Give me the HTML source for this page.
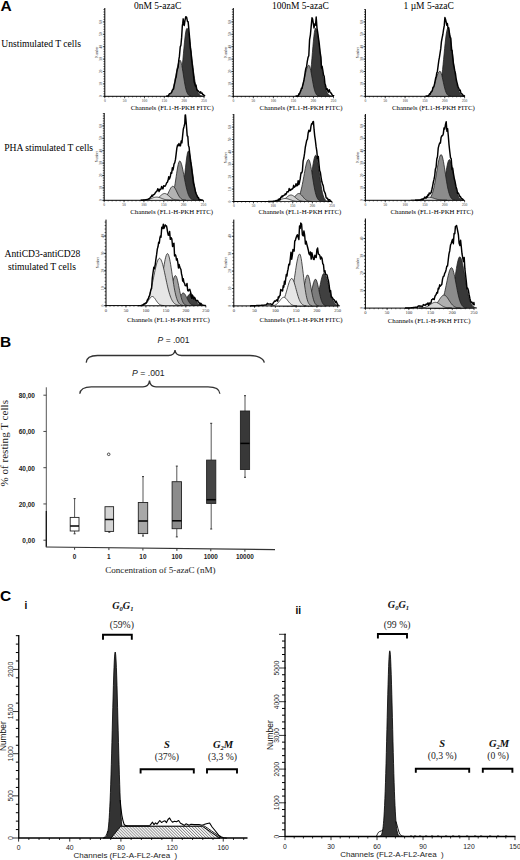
<!DOCTYPE html>
<html><head><meta charset="utf-8"><style>
html,body{margin:0;padding:0;background:#fff;width:520px;height:860px;overflow:hidden}
svg{display:block}
</style></head><body>
<svg width="520" height="860" viewBox="0 0 520 860">
<rect width="520" height="860" fill="#fff"/>
<defs><pattern id="hatch" patternUnits="userSpaceOnUse" width="2.1" height="2.1" patternTransform="rotate(-45)"><rect width="2.1" height="2.1" fill="#fff"/><line x1="0.5" y1="0" x2="0.5" y2="2.1" stroke="#6a6a6a" stroke-width="0.7"/></pattern></defs>
<text x="0.50" y="11.20" font-family='"Liberation Sans", sans-serif' font-size="15.5" font-weight="bold" font-style="normal" text-anchor="start" fill="#000">A</text>
<text x="134.00" y="8.60" font-family='"Liberation Serif", serif' font-size="9.5" font-weight="normal" font-style="normal" text-anchor="start" fill="#000">0nM 5-azaC</text>
<text x="272.00" y="8.60" font-family='"Liberation Serif", serif' font-size="9.5" font-weight="normal" font-style="normal" text-anchor="start" fill="#000">100nM 5-azaC</text>
<text x="403.50" y="8.60" font-family='"Liberation Serif", serif' font-size="9.5" font-weight="normal" font-style="normal" text-anchor="start" fill="#000">1 µM 5-azaC</text>
<text x="1.30" y="46.60" font-family='"Liberation Serif", serif' font-size="9.6" font-weight="normal" font-style="normal" text-anchor="start" fill="#000">Unstimulated T cells</text>
<text x="4.20" y="151.40" font-family='"Liberation Serif", serif' font-size="9.6" font-weight="normal" font-style="normal" text-anchor="start" fill="#000">PHA stimulated T cells</text>
<text x="4.60" y="257.20" font-family='"Liberation Serif", serif' font-size="9.6" font-weight="normal" font-style="normal" text-anchor="start" fill="#000">AntiCD3-antiCD28</text>
<text x="8.00" y="270.20" font-family='"Liberation Serif", serif' font-size="9.6" font-weight="normal" font-style="normal" text-anchor="start" fill="#000">stimulated T cells</text>
<line x1="104.80" y1="8.00" x2="104.80" y2="96.80" stroke="#000" stroke-width="1.0"/>
<line x1="103.40" y1="96.30" x2="104.80" y2="96.30" stroke="#000" stroke-width="0.6"/>
<line x1="103.40" y1="93.82" x2="104.80" y2="93.82" stroke="#000" stroke-width="0.6"/>
<line x1="103.40" y1="91.34" x2="104.80" y2="91.34" stroke="#000" stroke-width="0.6"/>
<line x1="103.40" y1="88.86" x2="104.80" y2="88.86" stroke="#000" stroke-width="0.6"/>
<line x1="103.40" y1="86.38" x2="104.80" y2="86.38" stroke="#000" stroke-width="0.6"/>
<line x1="103.40" y1="83.90" x2="104.80" y2="83.90" stroke="#000" stroke-width="0.6"/>
<line x1="103.40" y1="81.42" x2="104.80" y2="81.42" stroke="#000" stroke-width="0.6"/>
<line x1="103.40" y1="78.94" x2="104.80" y2="78.94" stroke="#000" stroke-width="0.6"/>
<line x1="103.40" y1="76.46" x2="104.80" y2="76.46" stroke="#000" stroke-width="0.6"/>
<line x1="103.40" y1="73.98" x2="104.80" y2="73.98" stroke="#000" stroke-width="0.6"/>
<line x1="103.40" y1="71.50" x2="104.80" y2="71.50" stroke="#000" stroke-width="0.6"/>
<line x1="103.40" y1="69.02" x2="104.80" y2="69.02" stroke="#000" stroke-width="0.6"/>
<line x1="103.40" y1="66.54" x2="104.80" y2="66.54" stroke="#000" stroke-width="0.6"/>
<line x1="103.40" y1="64.06" x2="104.80" y2="64.06" stroke="#000" stroke-width="0.6"/>
<line x1="103.40" y1="61.58" x2="104.80" y2="61.58" stroke="#000" stroke-width="0.6"/>
<line x1="103.40" y1="59.10" x2="104.80" y2="59.10" stroke="#000" stroke-width="0.6"/>
<line x1="103.40" y1="56.62" x2="104.80" y2="56.62" stroke="#000" stroke-width="0.6"/>
<line x1="103.40" y1="54.14" x2="104.80" y2="54.14" stroke="#000" stroke-width="0.6"/>
<line x1="103.40" y1="51.66" x2="104.80" y2="51.66" stroke="#000" stroke-width="0.6"/>
<line x1="103.40" y1="49.18" x2="104.80" y2="49.18" stroke="#000" stroke-width="0.6"/>
<line x1="103.40" y1="46.70" x2="104.80" y2="46.70" stroke="#000" stroke-width="0.6"/>
<line x1="103.40" y1="44.22" x2="104.80" y2="44.22" stroke="#000" stroke-width="0.6"/>
<line x1="103.40" y1="41.74" x2="104.80" y2="41.74" stroke="#000" stroke-width="0.6"/>
<line x1="103.40" y1="39.26" x2="104.80" y2="39.26" stroke="#000" stroke-width="0.6"/>
<line x1="103.40" y1="36.78" x2="104.80" y2="36.78" stroke="#000" stroke-width="0.6"/>
<line x1="103.40" y1="34.30" x2="104.80" y2="34.30" stroke="#000" stroke-width="0.6"/>
<line x1="103.40" y1="31.82" x2="104.80" y2="31.82" stroke="#000" stroke-width="0.6"/>
<line x1="103.40" y1="29.34" x2="104.80" y2="29.34" stroke="#000" stroke-width="0.6"/>
<line x1="103.40" y1="26.86" x2="104.80" y2="26.86" stroke="#000" stroke-width="0.6"/>
<line x1="103.40" y1="24.38" x2="104.80" y2="24.38" stroke="#000" stroke-width="0.6"/>
<line x1="103.40" y1="21.90" x2="104.80" y2="21.90" stroke="#000" stroke-width="0.6"/>
<line x1="103.40" y1="19.42" x2="104.80" y2="19.42" stroke="#000" stroke-width="0.6"/>
<line x1="103.40" y1="16.94" x2="104.80" y2="16.94" stroke="#000" stroke-width="0.6"/>
<line x1="103.40" y1="14.46" x2="104.80" y2="14.46" stroke="#000" stroke-width="0.6"/>
<line x1="103.40" y1="11.98" x2="104.80" y2="11.98" stroke="#000" stroke-width="0.6"/>
<line x1="103.40" y1="9.50" x2="104.80" y2="9.50" stroke="#000" stroke-width="0.6"/>
<line x1="102.80" y1="96.30" x2="104.80" y2="96.30" stroke="#000" stroke-width="0.6"/>
<text x="102.40" y="96.30" font-family='"Liberation Serif", serif' font-size="3.6" font-weight="normal" font-style="normal" text-anchor="middle" fill="#333" transform="rotate(-90 102.40 96.30)">0</text>
<line x1="102.80" y1="83.90" x2="104.80" y2="83.90" stroke="#000" stroke-width="0.6"/>
<text x="102.40" y="83.90" font-family='"Liberation Serif", serif' font-size="3.6" font-weight="normal" font-style="normal" text-anchor="middle" fill="#333" transform="rotate(-90 102.40 83.90)">10</text>
<line x1="102.80" y1="71.50" x2="104.80" y2="71.50" stroke="#000" stroke-width="0.6"/>
<text x="102.40" y="71.50" font-family='"Liberation Serif", serif' font-size="3.6" font-weight="normal" font-style="normal" text-anchor="middle" fill="#333" transform="rotate(-90 102.40 71.50)">20</text>
<line x1="102.80" y1="59.10" x2="104.80" y2="59.10" stroke="#000" stroke-width="0.6"/>
<text x="102.40" y="59.10" font-family='"Liberation Serif", serif' font-size="3.6" font-weight="normal" font-style="normal" text-anchor="middle" fill="#333" transform="rotate(-90 102.40 59.10)">30</text>
<line x1="102.80" y1="46.70" x2="104.80" y2="46.70" stroke="#000" stroke-width="0.6"/>
<text x="102.40" y="46.70" font-family='"Liberation Serif", serif' font-size="3.6" font-weight="normal" font-style="normal" text-anchor="middle" fill="#333" transform="rotate(-90 102.40 46.70)">40</text>
<line x1="102.80" y1="34.30" x2="104.80" y2="34.30" stroke="#000" stroke-width="0.6"/>
<text x="102.40" y="34.30" font-family='"Liberation Serif", serif' font-size="3.6" font-weight="normal" font-style="normal" text-anchor="middle" fill="#333" transform="rotate(-90 102.40 34.30)">50</text>
<line x1="102.80" y1="21.90" x2="104.80" y2="21.90" stroke="#000" stroke-width="0.6"/>
<text x="102.40" y="21.90" font-family='"Liberation Serif", serif' font-size="3.6" font-weight="normal" font-style="normal" text-anchor="middle" fill="#333" transform="rotate(-90 102.40 21.90)">60</text>
<text x="98.30" y="52.15" font-family='"Liberation Serif", serif' font-size="3.4" font-weight="normal" font-style="normal" text-anchor="middle" fill="#333" transform="rotate(-90 98.30 52.15)">Number</text>
<line x1="104.80" y1="96.30" x2="204.00" y2="96.30" stroke="#000" stroke-width="1.0"/>
<line x1="104.80" y1="96.30" x2="104.80" y2="98.30" stroke="#000" stroke-width="0.6"/>
<text x="104.80" y="102.10" font-family='"Liberation Serif", serif' font-size="3.6" font-weight="normal" font-style="normal" text-anchor="middle" fill="#333">0</text>
<line x1="124.64" y1="96.30" x2="124.64" y2="98.30" stroke="#000" stroke-width="0.6"/>
<text x="124.64" y="102.10" font-family='"Liberation Serif", serif' font-size="3.6" font-weight="normal" font-style="normal" text-anchor="middle" fill="#333">50</text>
<line x1="144.48" y1="96.30" x2="144.48" y2="98.30" stroke="#000" stroke-width="0.6"/>
<text x="144.48" y="102.10" font-family='"Liberation Serif", serif' font-size="3.6" font-weight="normal" font-style="normal" text-anchor="middle" fill="#333">100</text>
<line x1="164.32" y1="96.30" x2="164.32" y2="98.30" stroke="#000" stroke-width="0.6"/>
<text x="164.32" y="102.10" font-family='"Liberation Serif", serif' font-size="3.6" font-weight="normal" font-style="normal" text-anchor="middle" fill="#333">150</text>
<line x1="184.16" y1="96.30" x2="184.16" y2="98.30" stroke="#000" stroke-width="0.6"/>
<text x="184.16" y="102.10" font-family='"Liberation Serif", serif' font-size="3.6" font-weight="normal" font-style="normal" text-anchor="middle" fill="#333">200</text>
<line x1="204.00" y1="96.30" x2="204.00" y2="98.30" stroke="#000" stroke-width="0.6"/>
<text x="204.00" y="102.10" font-family='"Liberation Serif", serif' font-size="3.6" font-weight="normal" font-style="normal" text-anchor="middle" fill="#333">250</text>
<line x1="104.80" y1="96.30" x2="104.80" y2="97.50" stroke="#000" stroke-width="0.5"/>
<line x1="108.77" y1="96.30" x2="108.77" y2="97.50" stroke="#000" stroke-width="0.5"/>
<line x1="112.74" y1="96.30" x2="112.74" y2="97.50" stroke="#000" stroke-width="0.5"/>
<line x1="116.70" y1="96.30" x2="116.70" y2="97.50" stroke="#000" stroke-width="0.5"/>
<line x1="120.67" y1="96.30" x2="120.67" y2="97.50" stroke="#000" stroke-width="0.5"/>
<line x1="124.64" y1="96.30" x2="124.64" y2="97.50" stroke="#000" stroke-width="0.5"/>
<line x1="128.61" y1="96.30" x2="128.61" y2="97.50" stroke="#000" stroke-width="0.5"/>
<line x1="132.58" y1="96.30" x2="132.58" y2="97.50" stroke="#000" stroke-width="0.5"/>
<line x1="136.54" y1="96.30" x2="136.54" y2="97.50" stroke="#000" stroke-width="0.5"/>
<line x1="140.51" y1="96.30" x2="140.51" y2="97.50" stroke="#000" stroke-width="0.5"/>
<line x1="144.48" y1="96.30" x2="144.48" y2="97.50" stroke="#000" stroke-width="0.5"/>
<line x1="148.45" y1="96.30" x2="148.45" y2="97.50" stroke="#000" stroke-width="0.5"/>
<line x1="152.42" y1="96.30" x2="152.42" y2="97.50" stroke="#000" stroke-width="0.5"/>
<line x1="156.38" y1="96.30" x2="156.38" y2="97.50" stroke="#000" stroke-width="0.5"/>
<line x1="160.35" y1="96.30" x2="160.35" y2="97.50" stroke="#000" stroke-width="0.5"/>
<line x1="164.32" y1="96.30" x2="164.32" y2="97.50" stroke="#000" stroke-width="0.5"/>
<line x1="168.29" y1="96.30" x2="168.29" y2="97.50" stroke="#000" stroke-width="0.5"/>
<line x1="172.26" y1="96.30" x2="172.26" y2="97.50" stroke="#000" stroke-width="0.5"/>
<line x1="176.22" y1="96.30" x2="176.22" y2="97.50" stroke="#000" stroke-width="0.5"/>
<line x1="180.19" y1="96.30" x2="180.19" y2="97.50" stroke="#000" stroke-width="0.5"/>
<line x1="184.16" y1="96.30" x2="184.16" y2="97.50" stroke="#000" stroke-width="0.5"/>
<line x1="188.13" y1="96.30" x2="188.13" y2="97.50" stroke="#000" stroke-width="0.5"/>
<line x1="192.10" y1="96.30" x2="192.10" y2="97.50" stroke="#000" stroke-width="0.5"/>
<line x1="196.06" y1="96.30" x2="196.06" y2="97.50" stroke="#000" stroke-width="0.5"/>
<line x1="200.03" y1="96.30" x2="200.03" y2="97.50" stroke="#000" stroke-width="0.5"/>
<line x1="204.00" y1="96.30" x2="204.00" y2="97.50" stroke="#000" stroke-width="0.5"/>
<path d="M174.79,96.30 L174.79,96.01 L175.30,95.84 L175.80,95.60 L176.31,95.25 L176.82,94.76 L177.33,94.07 L177.83,93.14 L178.34,91.90 L178.85,90.30 L179.35,88.26 L179.86,85.72 L180.37,82.65 L180.88,79.01 L181.38,74.81 L181.89,70.09 L182.40,64.92 L182.91,59.44 L183.41,53.80 L183.92,48.21 L184.43,42.90 L184.93,38.11 L185.44,34.07 L185.95,30.99 L186.46,29.03 L186.96,28.30 L187.47,28.65 L187.98,29.82 L188.49,31.75 L188.99,34.39 L189.50,37.63 L190.01,41.38 L190.51,45.51 L191.02,49.89 L191.53,54.41 L192.04,58.95 L192.54,63.40 L193.05,67.67 L193.56,71.68 L194.06,75.39 L194.57,78.75 L195.08,81.75 L195.59,84.39 L196.09,86.66 L196.60,88.60 L197.11,90.22 L197.62,91.56 L198.12,92.64 L198.63,93.52 L199.14,94.21 L199.64,94.74 L200.15,95.16 L200.66,95.47 L201.17,95.71 L201.67,95.88 L202.18,96.01 L202.18,96.30 Z" fill="#383838" stroke="#1a1a1a" stroke-width="0.75"/>
<path d="M166.80,96.30 L166.80,96.14 L167.30,96.07 L167.80,95.96 L168.31,95.80 L168.81,95.58 L169.31,95.29 L169.81,94.90 L170.31,94.38 L170.81,93.72 L171.32,92.89 L171.82,91.85 L172.32,90.60 L172.82,89.10 L173.32,87.36 L173.83,85.36 L174.33,83.13 L174.83,80.68 L175.33,78.08 L175.83,75.37 L176.34,72.64 L176.84,69.96 L177.34,67.44 L177.84,65.18 L178.34,63.26 L178.84,61.77 L179.35,60.78 L179.85,60.33 L180.35,60.50 L180.85,61.48 L181.35,63.21 L181.86,65.57 L182.36,68.41 L182.86,71.57 L183.36,74.87 L183.86,78.16 L184.37,81.29 L184.87,84.17 L185.37,86.72 L185.87,88.91 L186.37,90.72 L186.88,92.19 L187.38,93.34 L187.88,94.22 L188.38,94.87 L188.88,95.34 L189.38,95.67 L189.89,95.90 L190.39,96.05 L190.89,96.14 L190.89,96.30 Z" fill="#8c8c8c" stroke="#1a1a1a" stroke-width="0.75"/>
<path d="M166.00,96.30 L166.37,96.30 L166.88,96.30 L167.55,96.30 L168.40,95.80 L168.93,94.57 L169.55,93.61 L170.24,93.46 L170.96,93.01 L171.68,92.18 L172.38,90.10 L173.03,89.70 L173.60,88.76 L174.36,84.69 L175.01,81.91 L175.59,78.35 L176.14,77.11 L176.70,72.79 L177.43,68.93 L178.15,67.12 L178.82,59.76 L179.40,56.43 L180.23,46.87 L180.90,45.20 L181.64,37.39 L182.30,26.23 L182.77,23.19 L183.20,18.85 L183.71,24.33 L184.30,25.50 L185.01,20.07 L185.80,16.72 L186.66,17.29 L187.50,21.60 L188.16,21.81 L188.80,28.83 L189.50,36.48 L190.30,47.58 L190.97,52.21 L191.70,60.36 L192.40,65.68 L193.32,73.22 L194.20,82.09 L194.80,84.02 L195.41,85.91 L196.00,85.09 L196.82,89.52 L197.70,90.70 L198.38,91.19 L199.12,91.93 L200.00,93.11 L200.66,91.75 L201.41,93.22 L202.19,93.10 L202.91,94.85 L203.50,94.83 L204.47,95.61 L205.00,96.30" fill="none" stroke="#000" stroke-width="1.45" stroke-linejoin="round"/>
<line x1="233.30" y1="8.00" x2="233.30" y2="96.80" stroke="#000" stroke-width="1.0"/>
<line x1="231.90" y1="96.30" x2="233.30" y2="96.30" stroke="#000" stroke-width="0.6"/>
<line x1="231.90" y1="93.82" x2="233.30" y2="93.82" stroke="#000" stroke-width="0.6"/>
<line x1="231.90" y1="91.34" x2="233.30" y2="91.34" stroke="#000" stroke-width="0.6"/>
<line x1="231.90" y1="88.86" x2="233.30" y2="88.86" stroke="#000" stroke-width="0.6"/>
<line x1="231.90" y1="86.38" x2="233.30" y2="86.38" stroke="#000" stroke-width="0.6"/>
<line x1="231.90" y1="83.90" x2="233.30" y2="83.90" stroke="#000" stroke-width="0.6"/>
<line x1="231.90" y1="81.42" x2="233.30" y2="81.42" stroke="#000" stroke-width="0.6"/>
<line x1="231.90" y1="78.94" x2="233.30" y2="78.94" stroke="#000" stroke-width="0.6"/>
<line x1="231.90" y1="76.46" x2="233.30" y2="76.46" stroke="#000" stroke-width="0.6"/>
<line x1="231.90" y1="73.98" x2="233.30" y2="73.98" stroke="#000" stroke-width="0.6"/>
<line x1="231.90" y1="71.50" x2="233.30" y2="71.50" stroke="#000" stroke-width="0.6"/>
<line x1="231.90" y1="69.02" x2="233.30" y2="69.02" stroke="#000" stroke-width="0.6"/>
<line x1="231.90" y1="66.54" x2="233.30" y2="66.54" stroke="#000" stroke-width="0.6"/>
<line x1="231.90" y1="64.06" x2="233.30" y2="64.06" stroke="#000" stroke-width="0.6"/>
<line x1="231.90" y1="61.58" x2="233.30" y2="61.58" stroke="#000" stroke-width="0.6"/>
<line x1="231.90" y1="59.10" x2="233.30" y2="59.10" stroke="#000" stroke-width="0.6"/>
<line x1="231.90" y1="56.62" x2="233.30" y2="56.62" stroke="#000" stroke-width="0.6"/>
<line x1="231.90" y1="54.14" x2="233.30" y2="54.14" stroke="#000" stroke-width="0.6"/>
<line x1="231.90" y1="51.66" x2="233.30" y2="51.66" stroke="#000" stroke-width="0.6"/>
<line x1="231.90" y1="49.18" x2="233.30" y2="49.18" stroke="#000" stroke-width="0.6"/>
<line x1="231.90" y1="46.70" x2="233.30" y2="46.70" stroke="#000" stroke-width="0.6"/>
<line x1="231.90" y1="44.22" x2="233.30" y2="44.22" stroke="#000" stroke-width="0.6"/>
<line x1="231.90" y1="41.74" x2="233.30" y2="41.74" stroke="#000" stroke-width="0.6"/>
<line x1="231.90" y1="39.26" x2="233.30" y2="39.26" stroke="#000" stroke-width="0.6"/>
<line x1="231.90" y1="36.78" x2="233.30" y2="36.78" stroke="#000" stroke-width="0.6"/>
<line x1="231.90" y1="34.30" x2="233.30" y2="34.30" stroke="#000" stroke-width="0.6"/>
<line x1="231.90" y1="31.82" x2="233.30" y2="31.82" stroke="#000" stroke-width="0.6"/>
<line x1="231.90" y1="29.34" x2="233.30" y2="29.34" stroke="#000" stroke-width="0.6"/>
<line x1="231.90" y1="26.86" x2="233.30" y2="26.86" stroke="#000" stroke-width="0.6"/>
<line x1="231.90" y1="24.38" x2="233.30" y2="24.38" stroke="#000" stroke-width="0.6"/>
<line x1="231.90" y1="21.90" x2="233.30" y2="21.90" stroke="#000" stroke-width="0.6"/>
<line x1="231.90" y1="19.42" x2="233.30" y2="19.42" stroke="#000" stroke-width="0.6"/>
<line x1="231.90" y1="16.94" x2="233.30" y2="16.94" stroke="#000" stroke-width="0.6"/>
<line x1="231.90" y1="14.46" x2="233.30" y2="14.46" stroke="#000" stroke-width="0.6"/>
<line x1="231.90" y1="11.98" x2="233.30" y2="11.98" stroke="#000" stroke-width="0.6"/>
<line x1="231.90" y1="9.50" x2="233.30" y2="9.50" stroke="#000" stroke-width="0.6"/>
<line x1="231.30" y1="96.30" x2="233.30" y2="96.30" stroke="#000" stroke-width="0.6"/>
<text x="230.90" y="96.30" font-family='"Liberation Serif", serif' font-size="3.6" font-weight="normal" font-style="normal" text-anchor="middle" fill="#333" transform="rotate(-90 230.90 96.30)">0</text>
<line x1="231.30" y1="83.90" x2="233.30" y2="83.90" stroke="#000" stroke-width="0.6"/>
<text x="230.90" y="83.90" font-family='"Liberation Serif", serif' font-size="3.6" font-weight="normal" font-style="normal" text-anchor="middle" fill="#333" transform="rotate(-90 230.90 83.90)">10</text>
<line x1="231.30" y1="71.50" x2="233.30" y2="71.50" stroke="#000" stroke-width="0.6"/>
<text x="230.90" y="71.50" font-family='"Liberation Serif", serif' font-size="3.6" font-weight="normal" font-style="normal" text-anchor="middle" fill="#333" transform="rotate(-90 230.90 71.50)">20</text>
<line x1="231.30" y1="59.10" x2="233.30" y2="59.10" stroke="#000" stroke-width="0.6"/>
<text x="230.90" y="59.10" font-family='"Liberation Serif", serif' font-size="3.6" font-weight="normal" font-style="normal" text-anchor="middle" fill="#333" transform="rotate(-90 230.90 59.10)">30</text>
<line x1="231.30" y1="46.70" x2="233.30" y2="46.70" stroke="#000" stroke-width="0.6"/>
<text x="230.90" y="46.70" font-family='"Liberation Serif", serif' font-size="3.6" font-weight="normal" font-style="normal" text-anchor="middle" fill="#333" transform="rotate(-90 230.90 46.70)">40</text>
<line x1="231.30" y1="34.30" x2="233.30" y2="34.30" stroke="#000" stroke-width="0.6"/>
<text x="230.90" y="34.30" font-family='"Liberation Serif", serif' font-size="3.6" font-weight="normal" font-style="normal" text-anchor="middle" fill="#333" transform="rotate(-90 230.90 34.30)">50</text>
<line x1="231.30" y1="21.90" x2="233.30" y2="21.90" stroke="#000" stroke-width="0.6"/>
<text x="230.90" y="21.90" font-family='"Liberation Serif", serif' font-size="3.6" font-weight="normal" font-style="normal" text-anchor="middle" fill="#333" transform="rotate(-90 230.90 21.90)">60</text>
<text x="226.80" y="52.15" font-family='"Liberation Serif", serif' font-size="3.4" font-weight="normal" font-style="normal" text-anchor="middle" fill="#333" transform="rotate(-90 226.80 52.15)">Number</text>
<line x1="233.30" y1="96.30" x2="333.50" y2="96.30" stroke="#000" stroke-width="1.0"/>
<line x1="233.30" y1="96.30" x2="233.30" y2="98.30" stroke="#000" stroke-width="0.6"/>
<text x="233.30" y="102.10" font-family='"Liberation Serif", serif' font-size="3.6" font-weight="normal" font-style="normal" text-anchor="middle" fill="#333">0</text>
<line x1="253.34" y1="96.30" x2="253.34" y2="98.30" stroke="#000" stroke-width="0.6"/>
<text x="253.34" y="102.10" font-family='"Liberation Serif", serif' font-size="3.6" font-weight="normal" font-style="normal" text-anchor="middle" fill="#333">50</text>
<line x1="273.38" y1="96.30" x2="273.38" y2="98.30" stroke="#000" stroke-width="0.6"/>
<text x="273.38" y="102.10" font-family='"Liberation Serif", serif' font-size="3.6" font-weight="normal" font-style="normal" text-anchor="middle" fill="#333">100</text>
<line x1="293.42" y1="96.30" x2="293.42" y2="98.30" stroke="#000" stroke-width="0.6"/>
<text x="293.42" y="102.10" font-family='"Liberation Serif", serif' font-size="3.6" font-weight="normal" font-style="normal" text-anchor="middle" fill="#333">150</text>
<line x1="313.46" y1="96.30" x2="313.46" y2="98.30" stroke="#000" stroke-width="0.6"/>
<text x="313.46" y="102.10" font-family='"Liberation Serif", serif' font-size="3.6" font-weight="normal" font-style="normal" text-anchor="middle" fill="#333">200</text>
<line x1="333.50" y1="96.30" x2="333.50" y2="98.30" stroke="#000" stroke-width="0.6"/>
<text x="333.50" y="102.10" font-family='"Liberation Serif", serif' font-size="3.6" font-weight="normal" font-style="normal" text-anchor="middle" fill="#333">250</text>
<line x1="233.30" y1="96.30" x2="233.30" y2="97.50" stroke="#000" stroke-width="0.5"/>
<line x1="237.31" y1="96.30" x2="237.31" y2="97.50" stroke="#000" stroke-width="0.5"/>
<line x1="241.32" y1="96.30" x2="241.32" y2="97.50" stroke="#000" stroke-width="0.5"/>
<line x1="245.32" y1="96.30" x2="245.32" y2="97.50" stroke="#000" stroke-width="0.5"/>
<line x1="249.33" y1="96.30" x2="249.33" y2="97.50" stroke="#000" stroke-width="0.5"/>
<line x1="253.34" y1="96.30" x2="253.34" y2="97.50" stroke="#000" stroke-width="0.5"/>
<line x1="257.35" y1="96.30" x2="257.35" y2="97.50" stroke="#000" stroke-width="0.5"/>
<line x1="261.36" y1="96.30" x2="261.36" y2="97.50" stroke="#000" stroke-width="0.5"/>
<line x1="265.36" y1="96.30" x2="265.36" y2="97.50" stroke="#000" stroke-width="0.5"/>
<line x1="269.37" y1="96.30" x2="269.37" y2="97.50" stroke="#000" stroke-width="0.5"/>
<line x1="273.38" y1="96.30" x2="273.38" y2="97.50" stroke="#000" stroke-width="0.5"/>
<line x1="277.39" y1="96.30" x2="277.39" y2="97.50" stroke="#000" stroke-width="0.5"/>
<line x1="281.40" y1="96.30" x2="281.40" y2="97.50" stroke="#000" stroke-width="0.5"/>
<line x1="285.40" y1="96.30" x2="285.40" y2="97.50" stroke="#000" stroke-width="0.5"/>
<line x1="289.41" y1="96.30" x2="289.41" y2="97.50" stroke="#000" stroke-width="0.5"/>
<line x1="293.42" y1="96.30" x2="293.42" y2="97.50" stroke="#000" stroke-width="0.5"/>
<line x1="297.43" y1="96.30" x2="297.43" y2="97.50" stroke="#000" stroke-width="0.5"/>
<line x1="301.44" y1="96.30" x2="301.44" y2="97.50" stroke="#000" stroke-width="0.5"/>
<line x1="305.44" y1="96.30" x2="305.44" y2="97.50" stroke="#000" stroke-width="0.5"/>
<line x1="309.45" y1="96.30" x2="309.45" y2="97.50" stroke="#000" stroke-width="0.5"/>
<line x1="313.46" y1="96.30" x2="313.46" y2="97.50" stroke="#000" stroke-width="0.5"/>
<line x1="317.47" y1="96.30" x2="317.47" y2="97.50" stroke="#000" stroke-width="0.5"/>
<line x1="321.48" y1="96.30" x2="321.48" y2="97.50" stroke="#000" stroke-width="0.5"/>
<line x1="325.48" y1="96.30" x2="325.48" y2="97.50" stroke="#000" stroke-width="0.5"/>
<line x1="329.49" y1="96.30" x2="329.49" y2="97.50" stroke="#000" stroke-width="0.5"/>
<line x1="333.50" y1="96.30" x2="333.50" y2="97.50" stroke="#000" stroke-width="0.5"/>
<path d="M304.38,96.30 L304.38,96.01 L304.88,95.83 L305.38,95.56 L305.88,95.15 L306.38,94.57 L306.89,93.75 L307.39,92.62 L307.89,91.11 L308.39,89.13 L308.89,86.60 L309.39,83.47 L309.89,79.68 L310.39,75.25 L310.89,70.20 L311.40,64.64 L311.90,58.73 L312.40,52.66 L312.90,46.70 L313.40,41.14 L313.90,36.28 L314.40,32.39 L314.90,29.71 L315.40,28.41 L315.91,28.44 L316.41,29.25 L316.91,30.78 L317.41,32.96 L317.91,35.74 L318.41,39.02 L318.91,42.71 L319.41,46.70 L319.91,50.90 L320.42,55.19 L320.92,59.48 L321.42,63.68 L321.92,67.71 L322.42,71.52 L322.92,75.05 L323.42,78.28 L323.92,81.18 L324.42,83.75 L324.93,86.00 L325.43,87.94 L325.93,89.58 L326.43,90.96 L326.93,92.11 L327.43,93.04 L327.93,93.79 L328.43,94.39 L328.93,94.87 L329.44,95.23 L329.94,95.51 L330.44,95.73 L330.94,95.89 L331.44,96.01 L331.44,96.30 Z" fill="#383838" stroke="#1a1a1a" stroke-width="0.75"/>
<path d="M294.94,96.30 L294.94,96.17 L295.45,96.10 L295.96,96.01 L296.47,95.88 L296.98,95.71 L297.48,95.48 L297.99,95.17 L298.50,94.77 L299.01,94.25 L299.52,93.60 L300.03,92.80 L300.54,91.83 L301.05,90.66 L301.55,89.30 L302.06,87.74 L302.57,85.98 L303.08,84.04 L303.59,81.94 L304.10,79.74 L304.61,77.47 L305.12,75.20 L305.62,73.01 L306.13,70.96 L306.64,69.14 L307.15,67.60 L307.66,66.42 L308.17,65.65 L308.68,65.31 L309.19,65.52 L309.69,66.49 L310.20,68.14 L310.71,70.36 L311.22,73.01 L311.73,75.91 L312.24,78.89 L312.75,81.81 L313.25,84.54 L313.76,86.99 L314.27,89.12 L314.78,90.90 L315.29,92.34 L315.80,93.46 L316.31,94.32 L316.82,94.96 L317.32,95.41 L317.83,95.72 L318.34,95.94 L318.85,96.08 L319.36,96.17 L319.36,96.30 Z" fill="#8c8c8c" stroke="#1a1a1a" stroke-width="0.75"/>
<path d="M296.00,96.30 L296.56,96.30 L297.38,96.30 L298.40,95.80 L298.92,93.71 L299.50,94.11 L300.13,92.05 L300.78,90.64 L301.43,88.31 L302.04,88.55 L302.60,85.73 L303.31,83.05 L303.99,79.93 L304.62,76.00 L305.19,72.13 L305.70,69.03 L306.60,66.47 L307.30,61.30 L308.05,57.39 L308.80,55.80 L309.59,39.63 L310.40,34.85 L311.17,26.46 L312.00,17.75 L312.63,19.15 L313.30,23.45 L314.00,27.96 L314.74,24.06 L315.51,25.19 L316.20,17.07 L316.99,28.05 L317.70,32.46 L318.49,38.08 L319.30,44.06 L320.04,51.50 L320.90,57.16 L321.49,67.99 L322.17,66.51 L322.86,70.70 L323.50,74.78 L324.23,76.60 L324.90,83.46 L325.60,85.52 L326.37,89.48 L327.18,88.71 L328.00,91.46 L328.62,92.12 L329.25,89.70 L329.88,91.51 L330.50,92.60 L331.36,93.35 L332.20,95.14 L332.90,95.58 L333.60,95.81 L334.00,96.30" fill="none" stroke="#000" stroke-width="1.45" stroke-linejoin="round"/>
<line x1="365.40" y1="9.20" x2="365.40" y2="96.80" stroke="#000" stroke-width="1.0"/>
<line x1="364.00" y1="96.30" x2="365.40" y2="96.30" stroke="#000" stroke-width="0.6"/>
<line x1="364.00" y1="93.82" x2="365.40" y2="93.82" stroke="#000" stroke-width="0.6"/>
<line x1="364.00" y1="91.34" x2="365.40" y2="91.34" stroke="#000" stroke-width="0.6"/>
<line x1="364.00" y1="88.86" x2="365.40" y2="88.86" stroke="#000" stroke-width="0.6"/>
<line x1="364.00" y1="86.38" x2="365.40" y2="86.38" stroke="#000" stroke-width="0.6"/>
<line x1="364.00" y1="83.90" x2="365.40" y2="83.90" stroke="#000" stroke-width="0.6"/>
<line x1="364.00" y1="81.42" x2="365.40" y2="81.42" stroke="#000" stroke-width="0.6"/>
<line x1="364.00" y1="78.94" x2="365.40" y2="78.94" stroke="#000" stroke-width="0.6"/>
<line x1="364.00" y1="76.46" x2="365.40" y2="76.46" stroke="#000" stroke-width="0.6"/>
<line x1="364.00" y1="73.98" x2="365.40" y2="73.98" stroke="#000" stroke-width="0.6"/>
<line x1="364.00" y1="71.50" x2="365.40" y2="71.50" stroke="#000" stroke-width="0.6"/>
<line x1="364.00" y1="69.02" x2="365.40" y2="69.02" stroke="#000" stroke-width="0.6"/>
<line x1="364.00" y1="66.54" x2="365.40" y2="66.54" stroke="#000" stroke-width="0.6"/>
<line x1="364.00" y1="64.06" x2="365.40" y2="64.06" stroke="#000" stroke-width="0.6"/>
<line x1="364.00" y1="61.58" x2="365.40" y2="61.58" stroke="#000" stroke-width="0.6"/>
<line x1="364.00" y1="59.10" x2="365.40" y2="59.10" stroke="#000" stroke-width="0.6"/>
<line x1="364.00" y1="56.62" x2="365.40" y2="56.62" stroke="#000" stroke-width="0.6"/>
<line x1="364.00" y1="54.14" x2="365.40" y2="54.14" stroke="#000" stroke-width="0.6"/>
<line x1="364.00" y1="51.66" x2="365.40" y2="51.66" stroke="#000" stroke-width="0.6"/>
<line x1="364.00" y1="49.18" x2="365.40" y2="49.18" stroke="#000" stroke-width="0.6"/>
<line x1="364.00" y1="46.70" x2="365.40" y2="46.70" stroke="#000" stroke-width="0.6"/>
<line x1="364.00" y1="44.22" x2="365.40" y2="44.22" stroke="#000" stroke-width="0.6"/>
<line x1="364.00" y1="41.74" x2="365.40" y2="41.74" stroke="#000" stroke-width="0.6"/>
<line x1="364.00" y1="39.26" x2="365.40" y2="39.26" stroke="#000" stroke-width="0.6"/>
<line x1="364.00" y1="36.78" x2="365.40" y2="36.78" stroke="#000" stroke-width="0.6"/>
<line x1="364.00" y1="34.30" x2="365.40" y2="34.30" stroke="#000" stroke-width="0.6"/>
<line x1="364.00" y1="31.82" x2="365.40" y2="31.82" stroke="#000" stroke-width="0.6"/>
<line x1="364.00" y1="29.34" x2="365.40" y2="29.34" stroke="#000" stroke-width="0.6"/>
<line x1="364.00" y1="26.86" x2="365.40" y2="26.86" stroke="#000" stroke-width="0.6"/>
<line x1="364.00" y1="24.38" x2="365.40" y2="24.38" stroke="#000" stroke-width="0.6"/>
<line x1="364.00" y1="21.90" x2="365.40" y2="21.90" stroke="#000" stroke-width="0.6"/>
<line x1="364.00" y1="19.42" x2="365.40" y2="19.42" stroke="#000" stroke-width="0.6"/>
<line x1="364.00" y1="16.94" x2="365.40" y2="16.94" stroke="#000" stroke-width="0.6"/>
<line x1="364.00" y1="14.46" x2="365.40" y2="14.46" stroke="#000" stroke-width="0.6"/>
<line x1="364.00" y1="11.98" x2="365.40" y2="11.98" stroke="#000" stroke-width="0.6"/>
<line x1="364.00" y1="9.50" x2="365.40" y2="9.50" stroke="#000" stroke-width="0.6"/>
<line x1="363.40" y1="96.30" x2="365.40" y2="96.30" stroke="#000" stroke-width="0.6"/>
<text x="363.00" y="96.30" font-family='"Liberation Serif", serif' font-size="3.6" font-weight="normal" font-style="normal" text-anchor="middle" fill="#333" transform="rotate(-90 363.00 96.30)">0</text>
<line x1="363.40" y1="83.90" x2="365.40" y2="83.90" stroke="#000" stroke-width="0.6"/>
<text x="363.00" y="83.90" font-family='"Liberation Serif", serif' font-size="3.6" font-weight="normal" font-style="normal" text-anchor="middle" fill="#333" transform="rotate(-90 363.00 83.90)">10</text>
<line x1="363.40" y1="71.50" x2="365.40" y2="71.50" stroke="#000" stroke-width="0.6"/>
<text x="363.00" y="71.50" font-family='"Liberation Serif", serif' font-size="3.6" font-weight="normal" font-style="normal" text-anchor="middle" fill="#333" transform="rotate(-90 363.00 71.50)">20</text>
<line x1="363.40" y1="59.10" x2="365.40" y2="59.10" stroke="#000" stroke-width="0.6"/>
<text x="363.00" y="59.10" font-family='"Liberation Serif", serif' font-size="3.6" font-weight="normal" font-style="normal" text-anchor="middle" fill="#333" transform="rotate(-90 363.00 59.10)">30</text>
<line x1="363.40" y1="46.70" x2="365.40" y2="46.70" stroke="#000" stroke-width="0.6"/>
<text x="363.00" y="46.70" font-family='"Liberation Serif", serif' font-size="3.6" font-weight="normal" font-style="normal" text-anchor="middle" fill="#333" transform="rotate(-90 363.00 46.70)">40</text>
<line x1="363.40" y1="34.30" x2="365.40" y2="34.30" stroke="#000" stroke-width="0.6"/>
<text x="363.00" y="34.30" font-family='"Liberation Serif", serif' font-size="3.6" font-weight="normal" font-style="normal" text-anchor="middle" fill="#333" transform="rotate(-90 363.00 34.30)">50</text>
<line x1="363.40" y1="21.90" x2="365.40" y2="21.90" stroke="#000" stroke-width="0.6"/>
<text x="363.00" y="21.90" font-family='"Liberation Serif", serif' font-size="3.6" font-weight="normal" font-style="normal" text-anchor="middle" fill="#333" transform="rotate(-90 363.00 21.90)">60</text>
<text x="358.90" y="52.75" font-family='"Liberation Serif", serif' font-size="3.4" font-weight="normal" font-style="normal" text-anchor="middle" fill="#333" transform="rotate(-90 358.90 52.75)">Number</text>
<line x1="365.40" y1="96.30" x2="464.60" y2="96.30" stroke="#000" stroke-width="1.0"/>
<line x1="365.40" y1="96.30" x2="365.40" y2="98.30" stroke="#000" stroke-width="0.6"/>
<text x="365.40" y="102.10" font-family='"Liberation Serif", serif' font-size="3.6" font-weight="normal" font-style="normal" text-anchor="middle" fill="#333">0</text>
<line x1="385.24" y1="96.30" x2="385.24" y2="98.30" stroke="#000" stroke-width="0.6"/>
<text x="385.24" y="102.10" font-family='"Liberation Serif", serif' font-size="3.6" font-weight="normal" font-style="normal" text-anchor="middle" fill="#333">50</text>
<line x1="405.08" y1="96.30" x2="405.08" y2="98.30" stroke="#000" stroke-width="0.6"/>
<text x="405.08" y="102.10" font-family='"Liberation Serif", serif' font-size="3.6" font-weight="normal" font-style="normal" text-anchor="middle" fill="#333">100</text>
<line x1="424.92" y1="96.30" x2="424.92" y2="98.30" stroke="#000" stroke-width="0.6"/>
<text x="424.92" y="102.10" font-family='"Liberation Serif", serif' font-size="3.6" font-weight="normal" font-style="normal" text-anchor="middle" fill="#333">150</text>
<line x1="444.76" y1="96.30" x2="444.76" y2="98.30" stroke="#000" stroke-width="0.6"/>
<text x="444.76" y="102.10" font-family='"Liberation Serif", serif' font-size="3.6" font-weight="normal" font-style="normal" text-anchor="middle" fill="#333">200</text>
<line x1="464.60" y1="96.30" x2="464.60" y2="98.30" stroke="#000" stroke-width="0.6"/>
<text x="464.60" y="102.10" font-family='"Liberation Serif", serif' font-size="3.6" font-weight="normal" font-style="normal" text-anchor="middle" fill="#333">250</text>
<line x1="365.40" y1="96.30" x2="365.40" y2="97.50" stroke="#000" stroke-width="0.5"/>
<line x1="369.37" y1="96.30" x2="369.37" y2="97.50" stroke="#000" stroke-width="0.5"/>
<line x1="373.34" y1="96.30" x2="373.34" y2="97.50" stroke="#000" stroke-width="0.5"/>
<line x1="377.30" y1="96.30" x2="377.30" y2="97.50" stroke="#000" stroke-width="0.5"/>
<line x1="381.27" y1="96.30" x2="381.27" y2="97.50" stroke="#000" stroke-width="0.5"/>
<line x1="385.24" y1="96.30" x2="385.24" y2="97.50" stroke="#000" stroke-width="0.5"/>
<line x1="389.21" y1="96.30" x2="389.21" y2="97.50" stroke="#000" stroke-width="0.5"/>
<line x1="393.18" y1="96.30" x2="393.18" y2="97.50" stroke="#000" stroke-width="0.5"/>
<line x1="397.14" y1="96.30" x2="397.14" y2="97.50" stroke="#000" stroke-width="0.5"/>
<line x1="401.11" y1="96.30" x2="401.11" y2="97.50" stroke="#000" stroke-width="0.5"/>
<line x1="405.08" y1="96.30" x2="405.08" y2="97.50" stroke="#000" stroke-width="0.5"/>
<line x1="409.05" y1="96.30" x2="409.05" y2="97.50" stroke="#000" stroke-width="0.5"/>
<line x1="413.02" y1="96.30" x2="413.02" y2="97.50" stroke="#000" stroke-width="0.5"/>
<line x1="416.98" y1="96.30" x2="416.98" y2="97.50" stroke="#000" stroke-width="0.5"/>
<line x1="420.95" y1="96.30" x2="420.95" y2="97.50" stroke="#000" stroke-width="0.5"/>
<line x1="424.92" y1="96.30" x2="424.92" y2="97.50" stroke="#000" stroke-width="0.5"/>
<line x1="428.89" y1="96.30" x2="428.89" y2="97.50" stroke="#000" stroke-width="0.5"/>
<line x1="432.86" y1="96.30" x2="432.86" y2="97.50" stroke="#000" stroke-width="0.5"/>
<line x1="436.82" y1="96.30" x2="436.82" y2="97.50" stroke="#000" stroke-width="0.5"/>
<line x1="440.79" y1="96.30" x2="440.79" y2="97.50" stroke="#000" stroke-width="0.5"/>
<line x1="444.76" y1="96.30" x2="444.76" y2="97.50" stroke="#000" stroke-width="0.5"/>
<line x1="448.73" y1="96.30" x2="448.73" y2="97.50" stroke="#000" stroke-width="0.5"/>
<line x1="452.70" y1="96.30" x2="452.70" y2="97.50" stroke="#000" stroke-width="0.5"/>
<line x1="456.66" y1="96.30" x2="456.66" y2="97.50" stroke="#000" stroke-width="0.5"/>
<line x1="460.63" y1="96.30" x2="460.63" y2="97.50" stroke="#000" stroke-width="0.5"/>
<line x1="464.60" y1="96.30" x2="464.60" y2="97.50" stroke="#000" stroke-width="0.5"/>
<path d="M435.03,96.30 L435.03,96.01 L435.53,95.85 L436.04,95.63 L436.54,95.32 L437.04,94.89 L437.55,94.29 L438.05,93.49 L438.56,92.45 L439.06,91.09 L439.56,89.38 L440.07,87.25 L440.57,84.67 L441.07,81.60 L441.58,78.02 L442.08,73.95 L442.59,69.43 L443.09,64.53 L443.59,59.35 L444.10,54.04 L444.60,48.76 L445.10,43.71 L445.61,39.09 L446.11,35.09 L446.61,31.89 L447.12,29.65 L447.62,28.47 L448.13,28.38 L448.63,29.08 L449.13,30.51 L449.64,32.61 L450.14,35.32 L450.64,38.55 L451.15,42.21 L451.65,46.20 L452.16,50.40 L452.66,54.70 L453.16,59.02 L453.67,63.25 L454.17,67.33 L454.67,71.18 L455.18,74.75 L455.68,78.02 L456.18,80.97 L456.69,83.58 L457.19,85.86 L457.70,87.83 L458.20,89.50 L458.70,90.90 L459.21,92.06 L459.71,93.00 L460.21,93.77 L460.72,94.38 L461.22,94.85 L461.73,95.23 L462.23,95.51 L462.73,95.73 L463.24,95.89 L463.74,96.01 L463.74,96.30 Z" fill="#383838" stroke="#1a1a1a" stroke-width="0.75"/>
<path d="M425.05,96.30 L425.05,96.19 L425.56,96.14 L426.07,96.08 L426.57,95.99 L427.08,95.87 L427.59,95.71 L428.10,95.50 L428.61,95.23 L429.12,94.88 L429.62,94.46 L430.13,93.93 L430.64,93.29 L431.15,92.53 L431.66,91.63 L432.16,90.59 L432.67,89.42 L433.18,88.10 L433.69,86.65 L434.20,85.10 L434.71,83.46 L435.21,81.76 L435.72,80.05 L436.23,78.37 L436.74,76.77 L437.25,75.29 L437.75,73.98 L438.26,72.90 L438.77,72.07 L439.28,71.54 L439.79,71.31 L440.30,71.49 L440.80,72.28 L441.31,73.62 L441.82,75.42 L442.33,77.56 L442.84,79.89 L443.35,82.30 L443.85,84.65 L444.36,86.84 L444.87,88.82 L445.38,90.52 L445.89,91.95 L446.39,93.11 L446.90,94.02 L447.41,94.71 L447.92,95.22 L448.43,95.58 L448.94,95.84 L449.44,96.01 L449.95,96.12 L450.46,96.19 L450.46,96.30 Z" fill="#8c8c8c" stroke="#1a1a1a" stroke-width="0.75"/>
<path d="M426.00,96.30 L426.52,96.30 L427.30,96.30 L428.40,95.80 L428.93,95.14 L429.54,93.77 L430.21,94.16 L430.92,91.94 L431.64,91.70 L432.34,90.48 L433.00,87.23 L433.60,87.25 L434.32,85.13 L435.00,81.59 L435.64,78.13 L436.24,76.54 L436.79,72.70 L437.30,72.13 L438.12,65.90 L438.77,60.79 L439.40,57.41 L440.07,53.09 L440.73,48.91 L441.40,41.89 L442.12,37.85 L442.85,34.51 L443.50,29.85 L444.25,25.65 L444.90,17.49 L445.56,19.38 L446.20,22.25 L446.75,25.23 L447.40,23.54 L448.04,28.78 L448.78,27.72 L449.50,34.91 L450.14,37.69 L450.76,37.92 L451.40,50.34 L452.07,50.51 L452.76,57.65 L453.50,64.51 L454.11,67.17 L454.77,70.74 L455.44,73.46 L456.10,78.29 L456.76,81.62 L457.42,84.28 L458.07,87.00 L458.70,88.04 L459.47,90.45 L460.20,90.09 L461.00,93.34 L461.72,93.69 L462.53,94.51 L463.29,95.88 L463.90,95.50 L464.63,96.12 L465.00,96.30" fill="none" stroke="#000" stroke-width="1.45" stroke-linejoin="round"/>
<line x1="104.20" y1="113.00" x2="104.20" y2="200.80" stroke="#000" stroke-width="1.0"/>
<line x1="102.80" y1="200.30" x2="104.20" y2="200.30" stroke="#000" stroke-width="0.6"/>
<line x1="102.80" y1="197.82" x2="104.20" y2="197.82" stroke="#000" stroke-width="0.6"/>
<line x1="102.80" y1="195.34" x2="104.20" y2="195.34" stroke="#000" stroke-width="0.6"/>
<line x1="102.80" y1="192.86" x2="104.20" y2="192.86" stroke="#000" stroke-width="0.6"/>
<line x1="102.80" y1="190.38" x2="104.20" y2="190.38" stroke="#000" stroke-width="0.6"/>
<line x1="102.80" y1="187.90" x2="104.20" y2="187.90" stroke="#000" stroke-width="0.6"/>
<line x1="102.80" y1="185.42" x2="104.20" y2="185.42" stroke="#000" stroke-width="0.6"/>
<line x1="102.80" y1="182.94" x2="104.20" y2="182.94" stroke="#000" stroke-width="0.6"/>
<line x1="102.80" y1="180.46" x2="104.20" y2="180.46" stroke="#000" stroke-width="0.6"/>
<line x1="102.80" y1="177.98" x2="104.20" y2="177.98" stroke="#000" stroke-width="0.6"/>
<line x1="102.80" y1="175.50" x2="104.20" y2="175.50" stroke="#000" stroke-width="0.6"/>
<line x1="102.80" y1="173.02" x2="104.20" y2="173.02" stroke="#000" stroke-width="0.6"/>
<line x1="102.80" y1="170.54" x2="104.20" y2="170.54" stroke="#000" stroke-width="0.6"/>
<line x1="102.80" y1="168.06" x2="104.20" y2="168.06" stroke="#000" stroke-width="0.6"/>
<line x1="102.80" y1="165.58" x2="104.20" y2="165.58" stroke="#000" stroke-width="0.6"/>
<line x1="102.80" y1="163.10" x2="104.20" y2="163.10" stroke="#000" stroke-width="0.6"/>
<line x1="102.80" y1="160.62" x2="104.20" y2="160.62" stroke="#000" stroke-width="0.6"/>
<line x1="102.80" y1="158.14" x2="104.20" y2="158.14" stroke="#000" stroke-width="0.6"/>
<line x1="102.80" y1="155.66" x2="104.20" y2="155.66" stroke="#000" stroke-width="0.6"/>
<line x1="102.80" y1="153.18" x2="104.20" y2="153.18" stroke="#000" stroke-width="0.6"/>
<line x1="102.80" y1="150.70" x2="104.20" y2="150.70" stroke="#000" stroke-width="0.6"/>
<line x1="102.80" y1="148.22" x2="104.20" y2="148.22" stroke="#000" stroke-width="0.6"/>
<line x1="102.80" y1="145.74" x2="104.20" y2="145.74" stroke="#000" stroke-width="0.6"/>
<line x1="102.80" y1="143.26" x2="104.20" y2="143.26" stroke="#000" stroke-width="0.6"/>
<line x1="102.80" y1="140.78" x2="104.20" y2="140.78" stroke="#000" stroke-width="0.6"/>
<line x1="102.80" y1="138.30" x2="104.20" y2="138.30" stroke="#000" stroke-width="0.6"/>
<line x1="102.80" y1="135.82" x2="104.20" y2="135.82" stroke="#000" stroke-width="0.6"/>
<line x1="102.80" y1="133.34" x2="104.20" y2="133.34" stroke="#000" stroke-width="0.6"/>
<line x1="102.80" y1="130.86" x2="104.20" y2="130.86" stroke="#000" stroke-width="0.6"/>
<line x1="102.80" y1="128.38" x2="104.20" y2="128.38" stroke="#000" stroke-width="0.6"/>
<line x1="102.80" y1="125.90" x2="104.20" y2="125.90" stroke="#000" stroke-width="0.6"/>
<line x1="102.80" y1="123.42" x2="104.20" y2="123.42" stroke="#000" stroke-width="0.6"/>
<line x1="102.80" y1="120.94" x2="104.20" y2="120.94" stroke="#000" stroke-width="0.6"/>
<line x1="102.80" y1="118.46" x2="104.20" y2="118.46" stroke="#000" stroke-width="0.6"/>
<line x1="102.80" y1="115.98" x2="104.20" y2="115.98" stroke="#000" stroke-width="0.6"/>
<line x1="102.80" y1="113.50" x2="104.20" y2="113.50" stroke="#000" stroke-width="0.6"/>
<line x1="102.20" y1="200.30" x2="104.20" y2="200.30" stroke="#000" stroke-width="0.6"/>
<text x="101.80" y="200.30" font-family='"Liberation Serif", serif' font-size="3.6" font-weight="normal" font-style="normal" text-anchor="middle" fill="#333" transform="rotate(-90 101.80 200.30)">0</text>
<line x1="102.20" y1="187.90" x2="104.20" y2="187.90" stroke="#000" stroke-width="0.6"/>
<text x="101.80" y="187.90" font-family='"Liberation Serif", serif' font-size="3.6" font-weight="normal" font-style="normal" text-anchor="middle" fill="#333" transform="rotate(-90 101.80 187.90)">10</text>
<line x1="102.20" y1="175.50" x2="104.20" y2="175.50" stroke="#000" stroke-width="0.6"/>
<text x="101.80" y="175.50" font-family='"Liberation Serif", serif' font-size="3.6" font-weight="normal" font-style="normal" text-anchor="middle" fill="#333" transform="rotate(-90 101.80 175.50)">20</text>
<line x1="102.20" y1="163.10" x2="104.20" y2="163.10" stroke="#000" stroke-width="0.6"/>
<text x="101.80" y="163.10" font-family='"Liberation Serif", serif' font-size="3.6" font-weight="normal" font-style="normal" text-anchor="middle" fill="#333" transform="rotate(-90 101.80 163.10)">30</text>
<line x1="102.20" y1="150.70" x2="104.20" y2="150.70" stroke="#000" stroke-width="0.6"/>
<text x="101.80" y="150.70" font-family='"Liberation Serif", serif' font-size="3.6" font-weight="normal" font-style="normal" text-anchor="middle" fill="#333" transform="rotate(-90 101.80 150.70)">40</text>
<line x1="102.20" y1="138.30" x2="104.20" y2="138.30" stroke="#000" stroke-width="0.6"/>
<text x="101.80" y="138.30" font-family='"Liberation Serif", serif' font-size="3.6" font-weight="normal" font-style="normal" text-anchor="middle" fill="#333" transform="rotate(-90 101.80 138.30)">50</text>
<line x1="102.20" y1="125.90" x2="104.20" y2="125.90" stroke="#000" stroke-width="0.6"/>
<text x="101.80" y="125.90" font-family='"Liberation Serif", serif' font-size="3.6" font-weight="normal" font-style="normal" text-anchor="middle" fill="#333" transform="rotate(-90 101.80 125.90)">60</text>
<text x="97.70" y="156.65" font-family='"Liberation Serif", serif' font-size="3.4" font-weight="normal" font-style="normal" text-anchor="middle" fill="#333" transform="rotate(-90 97.70 156.65)">Number</text>
<line x1="104.20" y1="200.30" x2="203.50" y2="200.30" stroke="#000" stroke-width="1.0"/>
<line x1="104.20" y1="200.30" x2="104.20" y2="202.30" stroke="#000" stroke-width="0.6"/>
<text x="104.20" y="206.10" font-family='"Liberation Serif", serif' font-size="3.6" font-weight="normal" font-style="normal" text-anchor="middle" fill="#333">0</text>
<line x1="124.06" y1="200.30" x2="124.06" y2="202.30" stroke="#000" stroke-width="0.6"/>
<text x="124.06" y="206.10" font-family='"Liberation Serif", serif' font-size="3.6" font-weight="normal" font-style="normal" text-anchor="middle" fill="#333">50</text>
<line x1="143.92" y1="200.30" x2="143.92" y2="202.30" stroke="#000" stroke-width="0.6"/>
<text x="143.92" y="206.10" font-family='"Liberation Serif", serif' font-size="3.6" font-weight="normal" font-style="normal" text-anchor="middle" fill="#333">100</text>
<line x1="163.78" y1="200.30" x2="163.78" y2="202.30" stroke="#000" stroke-width="0.6"/>
<text x="163.78" y="206.10" font-family='"Liberation Serif", serif' font-size="3.6" font-weight="normal" font-style="normal" text-anchor="middle" fill="#333">150</text>
<line x1="183.64" y1="200.30" x2="183.64" y2="202.30" stroke="#000" stroke-width="0.6"/>
<text x="183.64" y="206.10" font-family='"Liberation Serif", serif' font-size="3.6" font-weight="normal" font-style="normal" text-anchor="middle" fill="#333">200</text>
<line x1="203.50" y1="200.30" x2="203.50" y2="202.30" stroke="#000" stroke-width="0.6"/>
<text x="203.50" y="206.10" font-family='"Liberation Serif", serif' font-size="3.6" font-weight="normal" font-style="normal" text-anchor="middle" fill="#333">250</text>
<line x1="104.20" y1="200.30" x2="104.20" y2="201.50" stroke="#000" stroke-width="0.5"/>
<line x1="108.17" y1="200.30" x2="108.17" y2="201.50" stroke="#000" stroke-width="0.5"/>
<line x1="112.14" y1="200.30" x2="112.14" y2="201.50" stroke="#000" stroke-width="0.5"/>
<line x1="116.12" y1="200.30" x2="116.12" y2="201.50" stroke="#000" stroke-width="0.5"/>
<line x1="120.09" y1="200.30" x2="120.09" y2="201.50" stroke="#000" stroke-width="0.5"/>
<line x1="124.06" y1="200.30" x2="124.06" y2="201.50" stroke="#000" stroke-width="0.5"/>
<line x1="128.03" y1="200.30" x2="128.03" y2="201.50" stroke="#000" stroke-width="0.5"/>
<line x1="132.00" y1="200.30" x2="132.00" y2="201.50" stroke="#000" stroke-width="0.5"/>
<line x1="135.98" y1="200.30" x2="135.98" y2="201.50" stroke="#000" stroke-width="0.5"/>
<line x1="139.95" y1="200.30" x2="139.95" y2="201.50" stroke="#000" stroke-width="0.5"/>
<line x1="143.92" y1="200.30" x2="143.92" y2="201.50" stroke="#000" stroke-width="0.5"/>
<line x1="147.89" y1="200.30" x2="147.89" y2="201.50" stroke="#000" stroke-width="0.5"/>
<line x1="151.86" y1="200.30" x2="151.86" y2="201.50" stroke="#000" stroke-width="0.5"/>
<line x1="155.84" y1="200.30" x2="155.84" y2="201.50" stroke="#000" stroke-width="0.5"/>
<line x1="159.81" y1="200.30" x2="159.81" y2="201.50" stroke="#000" stroke-width="0.5"/>
<line x1="163.78" y1="200.30" x2="163.78" y2="201.50" stroke="#000" stroke-width="0.5"/>
<line x1="167.75" y1="200.30" x2="167.75" y2="201.50" stroke="#000" stroke-width="0.5"/>
<line x1="171.72" y1="200.30" x2="171.72" y2="201.50" stroke="#000" stroke-width="0.5"/>
<line x1="175.70" y1="200.30" x2="175.70" y2="201.50" stroke="#000" stroke-width="0.5"/>
<line x1="179.67" y1="200.30" x2="179.67" y2="201.50" stroke="#000" stroke-width="0.5"/>
<line x1="183.64" y1="200.30" x2="183.64" y2="201.50" stroke="#000" stroke-width="0.5"/>
<line x1="187.61" y1="200.30" x2="187.61" y2="201.50" stroke="#000" stroke-width="0.5"/>
<line x1="191.58" y1="200.30" x2="191.58" y2="201.50" stroke="#000" stroke-width="0.5"/>
<line x1="195.56" y1="200.30" x2="195.56" y2="201.50" stroke="#000" stroke-width="0.5"/>
<line x1="199.53" y1="200.30" x2="199.53" y2="201.50" stroke="#000" stroke-width="0.5"/>
<line x1="203.50" y1="200.30" x2="203.50" y2="201.50" stroke="#000" stroke-width="0.5"/>
<path d="M177.84,200.30 L177.84,200.09 L178.35,199.94 L178.86,199.72 L179.37,199.38 L179.88,198.88 L180.39,198.16 L180.90,197.15 L181.41,195.78 L181.91,193.98 L182.42,191.68 L182.93,188.84 L183.44,185.45 L183.95,181.54 L184.46,177.18 L184.97,172.54 L185.48,167.79 L185.99,163.18 L186.50,158.98 L187.01,155.45 L187.52,152.84 L188.03,151.33 L188.54,151.03 L189.05,151.67 L189.56,153.12 L190.06,155.29 L190.57,158.09 L191.08,161.39 L191.59,165.03 L192.10,168.88 L192.61,172.78 L193.12,176.60 L193.63,180.24 L194.14,183.60 L194.65,186.64 L195.16,189.31 L195.67,191.61 L196.18,193.55 L196.69,195.14 L197.20,196.42 L197.70,197.44 L198.21,198.22 L198.72,198.82 L199.23,199.26 L199.74,199.58 L200.25,199.81 L200.76,199.98 L201.27,200.09 L201.27,200.30 Z" fill="#383838" stroke="#1a1a1a" stroke-width="0.75"/>
<path d="M168.15,200.30 L168.15,200.13 L168.65,200.03 L169.15,199.88 L169.65,199.66 L170.16,199.35 L170.66,198.90 L171.16,198.30 L171.66,197.49 L172.16,196.44 L172.66,195.10 L173.16,193.43 L173.66,191.41 L174.17,189.04 L174.67,186.32 L175.17,183.30 L175.67,180.05 L176.17,176.66 L176.67,173.26 L177.17,170.01 L177.68,167.05 L178.18,164.55 L178.68,162.64 L179.18,161.43 L179.68,161.00 L180.18,161.24 L180.68,161.97 L181.19,163.18 L181.69,164.81 L182.19,166.81 L182.69,169.10 L183.19,171.61 L183.69,174.26 L184.19,176.97 L184.69,179.66 L185.20,182.29 L185.70,184.78 L186.20,187.10 L186.70,189.21 L187.20,191.11 L187.70,192.78 L188.20,194.23 L188.71,195.46 L189.21,196.49 L189.71,197.34 L190.21,198.03 L190.71,198.58 L191.21,199.02 L191.71,199.35 L192.21,199.61 L192.72,199.81 L193.22,199.95 L193.72,200.05 L194.22,200.13 L194.22,200.30 Z" fill="#8c8c8c" stroke="#1a1a1a" stroke-width="0.75"/>
<path d="M159.60,200.30 L159.60,200.24 L160.11,200.21 L160.62,200.16 L161.12,200.10 L161.63,200.02 L162.14,199.90 L162.65,199.74 L163.15,199.54 L163.66,199.27 L164.17,198.93 L164.68,198.52 L165.18,198.01 L165.69,197.41 L166.20,196.71 L166.71,195.91 L167.22,195.02 L167.72,194.04 L168.23,193.01 L168.74,191.94 L169.25,190.87 L169.75,189.82 L170.26,188.85 L170.77,187.99 L171.28,187.28 L171.78,186.74 L172.29,186.41 L172.80,186.30 L173.31,186.41 L173.82,186.74 L174.32,187.28 L174.83,187.99 L175.34,188.85 L175.85,189.82 L176.35,190.87 L176.86,191.94 L177.37,193.01 L177.88,194.04 L178.38,195.02 L178.89,195.91 L179.40,196.71 L179.91,197.41 L180.42,198.01 L180.92,198.52 L181.43,198.93 L181.94,199.27 L182.45,199.54 L182.95,199.74 L183.46,199.90 L183.97,200.02 L184.48,200.10 L184.98,200.16 L185.49,200.21 L186.00,200.24 L186.00,200.30 Z" fill="#b2b2b2" stroke="#1a1a1a" stroke-width="0.75"/>
<path d="M149.75,200.30 L149.75,200.27 L150.25,200.26 L150.76,200.24 L151.26,200.22 L151.76,200.18 L152.27,200.14 L152.77,200.09 L153.27,200.01 L153.78,199.92 L154.28,199.81 L154.78,199.67 L155.29,199.50 L155.79,199.30 L156.29,199.06 L156.80,198.79 L157.30,198.48 L157.80,198.13 L158.31,197.74 L158.81,197.33 L159.31,196.89 L159.82,196.43 L160.32,195.97 L160.82,195.52 L161.33,195.08 L161.83,194.67 L162.33,194.31 L162.84,194.00 L163.34,193.76 L163.84,193.60 L164.35,193.51 L164.85,193.51 L165.36,193.60 L165.86,193.76 L166.36,194.00 L166.87,194.31 L167.37,194.67 L167.87,195.08 L168.38,195.52 L168.88,195.97 L169.38,196.43 L169.89,196.89 L170.39,197.33 L170.89,197.74 L171.40,198.13 L171.90,198.48 L172.40,198.79 L172.91,199.06 L173.41,199.30 L173.91,199.50 L174.42,199.67 L174.92,199.81 L175.42,199.92 L175.93,200.01 L176.43,200.09 L176.93,200.14 L177.44,200.18 L177.94,200.22 L178.44,200.24 L178.95,200.26 L179.45,200.27 L179.45,200.30 Z" fill="#d2d2d2" stroke="#1a1a1a" stroke-width="0.75"/>
<path d="M140.10,200.30 L140.10,200.29 L140.60,200.28 L141.10,200.27 L141.60,200.26 L142.10,200.25 L142.60,200.24 L143.10,200.22 L143.60,200.19 L144.10,200.16 L144.60,200.12 L145.10,200.07 L145.60,200.02 L146.10,199.95 L146.60,199.87 L147.10,199.77 L147.60,199.67 L148.10,199.55 L148.60,199.41 L149.10,199.26 L149.60,199.10 L150.10,198.93 L150.60,198.74 L151.10,198.55 L151.60,198.36 L152.10,198.17 L152.60,197.98 L153.10,197.80 L153.60,197.63 L154.10,197.48 L154.60,197.35 L155.10,197.24 L155.60,197.16 L156.10,197.12 L156.60,197.10 L157.10,197.12 L157.60,197.16 L158.10,197.24 L158.60,197.35 L159.10,197.48 L159.60,197.63 L160.10,197.80 L160.60,197.98 L161.10,198.17 L161.60,198.36 L162.10,198.55 L162.60,198.74 L163.10,198.93 L163.60,199.10 L164.10,199.26 L164.60,199.41 L165.10,199.55 L165.60,199.67 L166.10,199.77 L166.60,199.87 L167.10,199.95 L167.60,200.02 L168.10,200.07 L168.60,200.12 L169.10,200.16 L169.60,200.19 L170.10,200.22 L170.60,200.24 L171.10,200.25 L171.60,200.26 L172.10,200.27 L172.60,200.28 L173.10,200.29 L173.10,200.30 Z" fill="#efefef" stroke="#1a1a1a" stroke-width="0.75"/>
<path d="M141.00,200.30 L141.41,200.27 L141.99,200.24 L142.75,200.16 L143.70,200.00 L144.20,199.92 L144.76,199.85 L145.37,199.78 L146.02,199.69 L146.70,199.58 L147.38,199.43 L148.07,199.21 L148.75,198.73 L149.40,198.84 L150.04,197.94 L150.68,197.01 L151.33,196.67 L151.97,195.14 L152.62,196.18 L153.26,194.73 L153.91,194.65 L154.56,194.07 L155.20,192.96 L155.84,192.06 L156.49,191.38 L157.14,190.83 L157.78,188.71 L158.43,189.58 L159.07,191.59 L159.72,189.32 L160.36,189.68 L161.00,189.05 L161.65,186.53 L162.30,187.61 L162.96,188.97 L163.62,185.83 L164.27,185.90 L164.91,186.29 L165.53,185.32 L166.13,184.25 L166.70,182.73 L167.40,182.17 L168.07,180.37 L168.71,176.77 L169.32,179.08 L169.91,177.81 L170.47,175.70 L171.00,172.38 L171.70,173.14 L172.34,167.77 L172.93,170.09 L173.48,167.66 L174.00,164.09 L174.79,162.58 L175.48,159.38 L176.10,154.45 L176.85,148.19 L177.60,144.97 L178.25,145.64 L178.97,143.49 L179.70,145.78 L180.46,145.87 L181.22,140.86 L181.90,142.82 L182.64,135.67 L183.30,129.29 L184.09,126.38 L184.80,123.49 L185.14,115.18 L185.50,114.97 L186.28,123.51 L187.20,135.89 L187.81,136.34 L188.44,145.39 L189.10,147.21 L189.81,154.55 L190.56,161.65 L191.30,165.70 L192.00,171.54 L192.70,176.61 L193.40,183.07 L194.10,185.48 L194.81,188.59 L195.60,192.37 L196.24,193.96 L196.92,195.27 L197.66,197.32 L198.50,197.56 L199.08,199.79 L199.75,199.43 L200.47,199.70 L201.18,199.91 L201.84,200.06 L202.40,200.18 L202.80,200.30" fill="none" stroke="#000" stroke-width="1.45" stroke-linejoin="round"/>
<line x1="233.80" y1="114.00" x2="233.80" y2="202.00" stroke="#000" stroke-width="1.0"/>
<line x1="232.40" y1="201.50" x2="233.80" y2="201.50" stroke="#000" stroke-width="0.6"/>
<line x1="232.40" y1="199.02" x2="233.80" y2="199.02" stroke="#000" stroke-width="0.6"/>
<line x1="232.40" y1="196.54" x2="233.80" y2="196.54" stroke="#000" stroke-width="0.6"/>
<line x1="232.40" y1="194.06" x2="233.80" y2="194.06" stroke="#000" stroke-width="0.6"/>
<line x1="232.40" y1="191.58" x2="233.80" y2="191.58" stroke="#000" stroke-width="0.6"/>
<line x1="232.40" y1="189.10" x2="233.80" y2="189.10" stroke="#000" stroke-width="0.6"/>
<line x1="232.40" y1="186.62" x2="233.80" y2="186.62" stroke="#000" stroke-width="0.6"/>
<line x1="232.40" y1="184.14" x2="233.80" y2="184.14" stroke="#000" stroke-width="0.6"/>
<line x1="232.40" y1="181.66" x2="233.80" y2="181.66" stroke="#000" stroke-width="0.6"/>
<line x1="232.40" y1="179.18" x2="233.80" y2="179.18" stroke="#000" stroke-width="0.6"/>
<line x1="232.40" y1="176.70" x2="233.80" y2="176.70" stroke="#000" stroke-width="0.6"/>
<line x1="232.40" y1="174.22" x2="233.80" y2="174.22" stroke="#000" stroke-width="0.6"/>
<line x1="232.40" y1="171.74" x2="233.80" y2="171.74" stroke="#000" stroke-width="0.6"/>
<line x1="232.40" y1="169.26" x2="233.80" y2="169.26" stroke="#000" stroke-width="0.6"/>
<line x1="232.40" y1="166.78" x2="233.80" y2="166.78" stroke="#000" stroke-width="0.6"/>
<line x1="232.40" y1="164.30" x2="233.80" y2="164.30" stroke="#000" stroke-width="0.6"/>
<line x1="232.40" y1="161.82" x2="233.80" y2="161.82" stroke="#000" stroke-width="0.6"/>
<line x1="232.40" y1="159.34" x2="233.80" y2="159.34" stroke="#000" stroke-width="0.6"/>
<line x1="232.40" y1="156.86" x2="233.80" y2="156.86" stroke="#000" stroke-width="0.6"/>
<line x1="232.40" y1="154.38" x2="233.80" y2="154.38" stroke="#000" stroke-width="0.6"/>
<line x1="232.40" y1="151.90" x2="233.80" y2="151.90" stroke="#000" stroke-width="0.6"/>
<line x1="232.40" y1="149.42" x2="233.80" y2="149.42" stroke="#000" stroke-width="0.6"/>
<line x1="232.40" y1="146.94" x2="233.80" y2="146.94" stroke="#000" stroke-width="0.6"/>
<line x1="232.40" y1="144.46" x2="233.80" y2="144.46" stroke="#000" stroke-width="0.6"/>
<line x1="232.40" y1="141.98" x2="233.80" y2="141.98" stroke="#000" stroke-width="0.6"/>
<line x1="232.40" y1="139.50" x2="233.80" y2="139.50" stroke="#000" stroke-width="0.6"/>
<line x1="232.40" y1="137.02" x2="233.80" y2="137.02" stroke="#000" stroke-width="0.6"/>
<line x1="232.40" y1="134.54" x2="233.80" y2="134.54" stroke="#000" stroke-width="0.6"/>
<line x1="232.40" y1="132.06" x2="233.80" y2="132.06" stroke="#000" stroke-width="0.6"/>
<line x1="232.40" y1="129.58" x2="233.80" y2="129.58" stroke="#000" stroke-width="0.6"/>
<line x1="232.40" y1="127.10" x2="233.80" y2="127.10" stroke="#000" stroke-width="0.6"/>
<line x1="232.40" y1="124.62" x2="233.80" y2="124.62" stroke="#000" stroke-width="0.6"/>
<line x1="232.40" y1="122.14" x2="233.80" y2="122.14" stroke="#000" stroke-width="0.6"/>
<line x1="232.40" y1="119.66" x2="233.80" y2="119.66" stroke="#000" stroke-width="0.6"/>
<line x1="232.40" y1="117.18" x2="233.80" y2="117.18" stroke="#000" stroke-width="0.6"/>
<line x1="232.40" y1="114.70" x2="233.80" y2="114.70" stroke="#000" stroke-width="0.6"/>
<line x1="231.80" y1="201.50" x2="233.80" y2="201.50" stroke="#000" stroke-width="0.6"/>
<text x="231.40" y="201.50" font-family='"Liberation Serif", serif' font-size="3.6" font-weight="normal" font-style="normal" text-anchor="middle" fill="#333" transform="rotate(-90 231.40 201.50)">0</text>
<line x1="231.80" y1="189.10" x2="233.80" y2="189.10" stroke="#000" stroke-width="0.6"/>
<text x="231.40" y="189.10" font-family='"Liberation Serif", serif' font-size="3.6" font-weight="normal" font-style="normal" text-anchor="middle" fill="#333" transform="rotate(-90 231.40 189.10)">10</text>
<line x1="231.80" y1="176.70" x2="233.80" y2="176.70" stroke="#000" stroke-width="0.6"/>
<text x="231.40" y="176.70" font-family='"Liberation Serif", serif' font-size="3.6" font-weight="normal" font-style="normal" text-anchor="middle" fill="#333" transform="rotate(-90 231.40 176.70)">20</text>
<line x1="231.80" y1="164.30" x2="233.80" y2="164.30" stroke="#000" stroke-width="0.6"/>
<text x="231.40" y="164.30" font-family='"Liberation Serif", serif' font-size="3.6" font-weight="normal" font-style="normal" text-anchor="middle" fill="#333" transform="rotate(-90 231.40 164.30)">30</text>
<line x1="231.80" y1="151.90" x2="233.80" y2="151.90" stroke="#000" stroke-width="0.6"/>
<text x="231.40" y="151.90" font-family='"Liberation Serif", serif' font-size="3.6" font-weight="normal" font-style="normal" text-anchor="middle" fill="#333" transform="rotate(-90 231.40 151.90)">40</text>
<line x1="231.80" y1="139.50" x2="233.80" y2="139.50" stroke="#000" stroke-width="0.6"/>
<text x="231.40" y="139.50" font-family='"Liberation Serif", serif' font-size="3.6" font-weight="normal" font-style="normal" text-anchor="middle" fill="#333" transform="rotate(-90 231.40 139.50)">50</text>
<line x1="231.80" y1="127.10" x2="233.80" y2="127.10" stroke="#000" stroke-width="0.6"/>
<text x="231.40" y="127.10" font-family='"Liberation Serif", serif' font-size="3.6" font-weight="normal" font-style="normal" text-anchor="middle" fill="#333" transform="rotate(-90 231.40 127.10)">60</text>
<text x="227.30" y="157.75" font-family='"Liberation Serif", serif' font-size="3.4" font-weight="normal" font-style="normal" text-anchor="middle" fill="#333" transform="rotate(-90 227.30 157.75)">Number</text>
<line x1="233.80" y1="201.50" x2="332.00" y2="201.50" stroke="#000" stroke-width="1.0"/>
<line x1="233.80" y1="201.50" x2="233.80" y2="203.50" stroke="#000" stroke-width="0.6"/>
<text x="233.80" y="207.30" font-family='"Liberation Serif", serif' font-size="3.6" font-weight="normal" font-style="normal" text-anchor="middle" fill="#333">0</text>
<line x1="253.44" y1="201.50" x2="253.44" y2="203.50" stroke="#000" stroke-width="0.6"/>
<text x="253.44" y="207.30" font-family='"Liberation Serif", serif' font-size="3.6" font-weight="normal" font-style="normal" text-anchor="middle" fill="#333">50</text>
<line x1="273.08" y1="201.50" x2="273.08" y2="203.50" stroke="#000" stroke-width="0.6"/>
<text x="273.08" y="207.30" font-family='"Liberation Serif", serif' font-size="3.6" font-weight="normal" font-style="normal" text-anchor="middle" fill="#333">100</text>
<line x1="292.72" y1="201.50" x2="292.72" y2="203.50" stroke="#000" stroke-width="0.6"/>
<text x="292.72" y="207.30" font-family='"Liberation Serif", serif' font-size="3.6" font-weight="normal" font-style="normal" text-anchor="middle" fill="#333">150</text>
<line x1="312.36" y1="201.50" x2="312.36" y2="203.50" stroke="#000" stroke-width="0.6"/>
<text x="312.36" y="207.30" font-family='"Liberation Serif", serif' font-size="3.6" font-weight="normal" font-style="normal" text-anchor="middle" fill="#333">200</text>
<line x1="332.00" y1="201.50" x2="332.00" y2="203.50" stroke="#000" stroke-width="0.6"/>
<text x="332.00" y="207.30" font-family='"Liberation Serif", serif' font-size="3.6" font-weight="normal" font-style="normal" text-anchor="middle" fill="#333">250</text>
<line x1="233.80" y1="201.50" x2="233.80" y2="202.70" stroke="#000" stroke-width="0.5"/>
<line x1="237.73" y1="201.50" x2="237.73" y2="202.70" stroke="#000" stroke-width="0.5"/>
<line x1="241.66" y1="201.50" x2="241.66" y2="202.70" stroke="#000" stroke-width="0.5"/>
<line x1="245.58" y1="201.50" x2="245.58" y2="202.70" stroke="#000" stroke-width="0.5"/>
<line x1="249.51" y1="201.50" x2="249.51" y2="202.70" stroke="#000" stroke-width="0.5"/>
<line x1="253.44" y1="201.50" x2="253.44" y2="202.70" stroke="#000" stroke-width="0.5"/>
<line x1="257.37" y1="201.50" x2="257.37" y2="202.70" stroke="#000" stroke-width="0.5"/>
<line x1="261.30" y1="201.50" x2="261.30" y2="202.70" stroke="#000" stroke-width="0.5"/>
<line x1="265.22" y1="201.50" x2="265.22" y2="202.70" stroke="#000" stroke-width="0.5"/>
<line x1="269.15" y1="201.50" x2="269.15" y2="202.70" stroke="#000" stroke-width="0.5"/>
<line x1="273.08" y1="201.50" x2="273.08" y2="202.70" stroke="#000" stroke-width="0.5"/>
<line x1="277.01" y1="201.50" x2="277.01" y2="202.70" stroke="#000" stroke-width="0.5"/>
<line x1="280.94" y1="201.50" x2="280.94" y2="202.70" stroke="#000" stroke-width="0.5"/>
<line x1="284.86" y1="201.50" x2="284.86" y2="202.70" stroke="#000" stroke-width="0.5"/>
<line x1="288.79" y1="201.50" x2="288.79" y2="202.70" stroke="#000" stroke-width="0.5"/>
<line x1="292.72" y1="201.50" x2="292.72" y2="202.70" stroke="#000" stroke-width="0.5"/>
<line x1="296.65" y1="201.50" x2="296.65" y2="202.70" stroke="#000" stroke-width="0.5"/>
<line x1="300.58" y1="201.50" x2="300.58" y2="202.70" stroke="#000" stroke-width="0.5"/>
<line x1="304.50" y1="201.50" x2="304.50" y2="202.70" stroke="#000" stroke-width="0.5"/>
<line x1="308.43" y1="201.50" x2="308.43" y2="202.70" stroke="#000" stroke-width="0.5"/>
<line x1="312.36" y1="201.50" x2="312.36" y2="202.70" stroke="#000" stroke-width="0.5"/>
<line x1="316.29" y1="201.50" x2="316.29" y2="202.70" stroke="#000" stroke-width="0.5"/>
<line x1="320.22" y1="201.50" x2="320.22" y2="202.70" stroke="#000" stroke-width="0.5"/>
<line x1="324.14" y1="201.50" x2="324.14" y2="202.70" stroke="#000" stroke-width="0.5"/>
<line x1="328.07" y1="201.50" x2="328.07" y2="202.70" stroke="#000" stroke-width="0.5"/>
<line x1="332.00" y1="201.50" x2="332.00" y2="202.70" stroke="#000" stroke-width="0.5"/>
<path d="M302.50,201.50 L302.50,201.30 L303.01,201.20 L303.52,201.05 L304.02,200.85 L304.53,200.56 L305.04,200.17 L305.55,199.65 L306.06,198.97 L306.57,198.09 L307.07,196.98 L307.58,195.61 L308.09,193.94 L308.60,191.95 L309.11,189.62 L309.61,186.98 L310.12,184.02 L310.63,180.80 L311.14,177.38 L311.65,173.85 L312.16,170.30 L312.66,166.86 L313.17,163.66 L313.68,160.83 L314.19,158.48 L314.70,156.73 L315.20,155.65 L315.71,155.30 L316.22,155.76 L316.73,157.05 L317.24,159.12 L317.75,161.85 L318.25,165.10 L318.76,168.70 L319.27,172.50 L319.78,176.34 L320.29,180.08 L320.80,183.60 L321.30,186.82 L321.81,189.69 L322.32,192.18 L322.83,194.28 L323.34,196.01 L323.84,197.40 L324.35,198.50 L324.86,199.34 L325.37,199.98 L325.88,200.45 L326.39,200.79 L326.89,201.02 L327.40,201.19 L327.91,201.30 L327.91,201.50 Z" fill="#383838" stroke="#1a1a1a" stroke-width="0.75"/>
<path d="M293.32,201.50 L293.32,201.32 L293.82,201.24 L294.32,201.14 L294.82,200.99 L295.32,200.81 L295.82,200.56 L296.33,200.23 L296.83,199.82 L297.33,199.30 L297.83,198.65 L298.33,197.86 L298.83,196.89 L299.33,195.74 L299.83,194.39 L300.33,192.82 L300.83,191.03 L301.33,189.02 L301.84,186.80 L302.34,184.39 L302.84,181.81 L303.34,179.12 L303.84,176.36 L304.34,173.60 L304.84,170.89 L305.34,168.32 L305.84,165.96 L306.34,163.87 L306.84,162.13 L307.35,160.80 L307.85,159.92 L308.35,159.52 L308.85,159.67 L309.35,160.48 L309.85,161.94 L310.35,163.97 L310.85,166.48 L311.35,169.36 L311.85,172.48 L312.35,175.72 L312.85,178.98 L313.36,182.15 L313.86,185.15 L314.36,187.90 L314.86,190.38 L315.36,192.56 L315.86,194.42 L316.36,195.99 L316.86,197.28 L317.36,198.32 L317.86,199.15 L318.36,199.79 L318.87,200.27 L319.37,200.63 L319.87,200.90 L320.37,201.09 L320.87,201.23 L321.37,201.32 L321.37,201.50 Z" fill="#8c8c8c" stroke="#1a1a1a" stroke-width="0.75"/>
<path d="M285.60,201.50 L285.60,201.47 L286.11,201.45 L286.62,201.42 L287.12,201.39 L287.63,201.34 L288.14,201.27 L288.65,201.18 L289.15,201.06 L289.66,200.91 L290.17,200.72 L290.68,200.48 L291.18,200.19 L291.69,199.85 L292.20,199.45 L292.71,198.99 L293.22,198.48 L293.72,197.92 L294.23,197.33 L294.74,196.72 L295.25,196.11 L295.75,195.51 L296.26,194.96 L296.77,194.47 L297.28,194.06 L297.78,193.75 L298.29,193.56 L298.80,193.50 L299.31,193.56 L299.82,193.75 L300.32,194.06 L300.83,194.47 L301.34,194.96 L301.85,195.51 L302.35,196.11 L302.86,196.72 L303.37,197.33 L303.88,197.92 L304.38,198.48 L304.89,198.99 L305.40,199.45 L305.91,199.85 L306.42,200.19 L306.92,200.48 L307.43,200.72 L307.94,200.91 L308.45,201.06 L308.95,201.18 L309.46,201.27 L309.97,201.34 L310.48,201.39 L310.98,201.42 L311.49,201.45 L312.00,201.47 L312.00,201.50 Z" fill="#b2b2b2" stroke="#1a1a1a" stroke-width="0.75"/>
<path d="M276.05,201.50 L276.05,201.47 L276.55,201.46 L277.06,201.44 L277.56,201.42 L278.06,201.39 L278.57,201.35 L279.07,201.29 L279.57,201.23 L280.08,201.14 L280.58,201.03 L281.08,200.90 L281.59,200.74 L282.09,200.54 L282.59,200.32 L283.10,200.05 L283.60,199.76 L284.10,199.42 L284.61,199.05 L285.11,198.66 L285.61,198.24 L286.12,197.80 L286.62,197.36 L287.12,196.93 L287.63,196.51 L288.13,196.12 L288.63,195.77 L289.14,195.48 L289.64,195.25 L290.14,195.09 L290.65,195.01 L291.15,195.01 L291.66,195.09 L292.16,195.25 L292.66,195.48 L293.17,195.77 L293.67,196.12 L294.17,196.51 L294.68,196.93 L295.18,197.36 L295.68,197.80 L296.19,198.24 L296.69,198.66 L297.19,199.05 L297.70,199.42 L298.20,199.76 L298.70,200.05 L299.21,200.32 L299.71,200.54 L300.21,200.74 L300.72,200.90 L301.22,201.03 L301.72,201.14 L302.23,201.23 L302.73,201.29 L303.23,201.35 L303.74,201.39 L304.24,201.42 L304.74,201.44 L305.25,201.46 L305.75,201.47 L305.75,201.50 Z" fill="#d2d2d2" stroke="#1a1a1a" stroke-width="0.75"/>
<path d="M268.60,201.50 L268.60,201.49 L269.10,201.48 L269.60,201.48 L270.10,201.47 L270.60,201.46 L271.10,201.44 L271.60,201.42 L272.10,201.40 L272.60,201.37 L273.10,201.33 L273.60,201.29 L274.10,201.23 L274.60,201.17 L275.10,201.09 L275.60,201.01 L276.10,200.91 L276.60,200.79 L277.10,200.67 L277.60,200.53 L278.10,200.37 L278.60,200.21 L279.10,200.04 L279.60,199.86 L280.10,199.68 L280.60,199.50 L281.10,199.32 L281.60,199.15 L282.10,198.99 L282.60,198.85 L283.10,198.73 L283.60,198.63 L284.10,198.56 L284.60,198.51 L285.10,198.50 L285.60,198.51 L286.10,198.56 L286.60,198.63 L287.10,198.73 L287.60,198.85 L288.10,198.99 L288.60,199.15 L289.10,199.32 L289.60,199.50 L290.10,199.68 L290.60,199.86 L291.10,200.04 L291.60,200.21 L292.10,200.37 L292.60,200.53 L293.10,200.67 L293.60,200.79 L294.10,200.91 L294.60,201.01 L295.10,201.09 L295.60,201.17 L296.10,201.23 L296.60,201.29 L297.10,201.33 L297.60,201.37 L298.10,201.40 L298.60,201.42 L299.10,201.44 L299.60,201.46 L300.10,201.47 L300.60,201.48 L301.10,201.48 L301.60,201.49 L301.60,201.50 Z" fill="#efefef" stroke="#1a1a1a" stroke-width="0.75"/>
<path d="M268.00,201.50 L268.38,201.48 L268.86,201.47 L269.44,201.47 L270.08,201.46 L270.78,201.45 L271.50,201.43 L272.25,201.39 L272.99,201.34 L273.71,201.26 L274.38,201.15 L275.00,201.00 L275.70,200.78 L276.37,200.52 L277.03,200.80 L277.67,200.50 L278.29,199.19 L278.92,200.51 L279.54,198.86 L280.17,199.80 L280.80,197.16 L281.44,197.27 L282.07,195.89 L282.70,196.71 L283.33,195.41 L283.97,195.36 L284.60,195.15 L285.23,193.79 L285.86,194.49 L286.50,193.13 L287.15,191.61 L287.81,191.71 L288.48,191.67 L289.15,188.53 L289.82,190.21 L290.47,190.42 L291.11,189.18 L291.72,189.48 L292.30,188.92 L293.00,188.43 L293.66,185.36 L294.28,187.29 L294.88,186.77 L295.47,185.81 L296.04,183.78 L296.60,185.87 L297.39,185.50 L298.16,180.74 L298.89,184.65 L299.58,181.95 L300.20,178.89 L301.04,172.72 L301.72,172.99 L302.40,170.86 L303.14,160.82 L303.87,158.01 L304.60,153.16 L305.30,147.26 L306.00,143.85 L306.70,140.28 L307.43,139.04 L308.17,132.89 L308.90,130.20 L309.62,131.56 L310.33,130.90 L311.00,126.18 L311.62,123.67 L312.20,124.09 L312.80,121.83 L313.44,121.49 L314.10,129.94 L314.70,135.84 L315.38,140.48 L316.10,146.67 L316.78,150.78 L317.54,158.78 L318.30,156.42 L318.98,163.95 L319.64,170.56 L320.40,172.52 L321.07,177.32 L321.80,181.59 L322.56,184.02 L323.30,186.01 L323.97,190.61 L324.61,191.99 L325.32,193.62 L326.20,197.84 L326.77,198.23 L327.44,198.11 L328.18,200.23 L328.93,199.98 L329.66,199.75 L330.33,200.81 L330.89,201.19 L331.30,201.50" fill="none" stroke="#000" stroke-width="1.45" stroke-linejoin="round"/>
<line x1="365.40" y1="114.00" x2="365.40" y2="200.80" stroke="#000" stroke-width="1.0"/>
<line x1="364.00" y1="200.30" x2="365.40" y2="200.30" stroke="#000" stroke-width="0.6"/>
<line x1="364.00" y1="197.82" x2="365.40" y2="197.82" stroke="#000" stroke-width="0.6"/>
<line x1="364.00" y1="195.34" x2="365.40" y2="195.34" stroke="#000" stroke-width="0.6"/>
<line x1="364.00" y1="192.86" x2="365.40" y2="192.86" stroke="#000" stroke-width="0.6"/>
<line x1="364.00" y1="190.38" x2="365.40" y2="190.38" stroke="#000" stroke-width="0.6"/>
<line x1="364.00" y1="187.90" x2="365.40" y2="187.90" stroke="#000" stroke-width="0.6"/>
<line x1="364.00" y1="185.42" x2="365.40" y2="185.42" stroke="#000" stroke-width="0.6"/>
<line x1="364.00" y1="182.94" x2="365.40" y2="182.94" stroke="#000" stroke-width="0.6"/>
<line x1="364.00" y1="180.46" x2="365.40" y2="180.46" stroke="#000" stroke-width="0.6"/>
<line x1="364.00" y1="177.98" x2="365.40" y2="177.98" stroke="#000" stroke-width="0.6"/>
<line x1="364.00" y1="175.50" x2="365.40" y2="175.50" stroke="#000" stroke-width="0.6"/>
<line x1="364.00" y1="173.02" x2="365.40" y2="173.02" stroke="#000" stroke-width="0.6"/>
<line x1="364.00" y1="170.54" x2="365.40" y2="170.54" stroke="#000" stroke-width="0.6"/>
<line x1="364.00" y1="168.06" x2="365.40" y2="168.06" stroke="#000" stroke-width="0.6"/>
<line x1="364.00" y1="165.58" x2="365.40" y2="165.58" stroke="#000" stroke-width="0.6"/>
<line x1="364.00" y1="163.10" x2="365.40" y2="163.10" stroke="#000" stroke-width="0.6"/>
<line x1="364.00" y1="160.62" x2="365.40" y2="160.62" stroke="#000" stroke-width="0.6"/>
<line x1="364.00" y1="158.14" x2="365.40" y2="158.14" stroke="#000" stroke-width="0.6"/>
<line x1="364.00" y1="155.66" x2="365.40" y2="155.66" stroke="#000" stroke-width="0.6"/>
<line x1="364.00" y1="153.18" x2="365.40" y2="153.18" stroke="#000" stroke-width="0.6"/>
<line x1="364.00" y1="150.70" x2="365.40" y2="150.70" stroke="#000" stroke-width="0.6"/>
<line x1="364.00" y1="148.22" x2="365.40" y2="148.22" stroke="#000" stroke-width="0.6"/>
<line x1="364.00" y1="145.74" x2="365.40" y2="145.74" stroke="#000" stroke-width="0.6"/>
<line x1="364.00" y1="143.26" x2="365.40" y2="143.26" stroke="#000" stroke-width="0.6"/>
<line x1="364.00" y1="140.78" x2="365.40" y2="140.78" stroke="#000" stroke-width="0.6"/>
<line x1="364.00" y1="138.30" x2="365.40" y2="138.30" stroke="#000" stroke-width="0.6"/>
<line x1="364.00" y1="135.82" x2="365.40" y2="135.82" stroke="#000" stroke-width="0.6"/>
<line x1="364.00" y1="133.34" x2="365.40" y2="133.34" stroke="#000" stroke-width="0.6"/>
<line x1="364.00" y1="130.86" x2="365.40" y2="130.86" stroke="#000" stroke-width="0.6"/>
<line x1="364.00" y1="128.38" x2="365.40" y2="128.38" stroke="#000" stroke-width="0.6"/>
<line x1="364.00" y1="125.90" x2="365.40" y2="125.90" stroke="#000" stroke-width="0.6"/>
<line x1="364.00" y1="123.42" x2="365.40" y2="123.42" stroke="#000" stroke-width="0.6"/>
<line x1="364.00" y1="120.94" x2="365.40" y2="120.94" stroke="#000" stroke-width="0.6"/>
<line x1="364.00" y1="118.46" x2="365.40" y2="118.46" stroke="#000" stroke-width="0.6"/>
<line x1="364.00" y1="115.98" x2="365.40" y2="115.98" stroke="#000" stroke-width="0.6"/>
<line x1="363.40" y1="200.30" x2="365.40" y2="200.30" stroke="#000" stroke-width="0.6"/>
<text x="363.00" y="200.30" font-family='"Liberation Serif", serif' font-size="3.6" font-weight="normal" font-style="normal" text-anchor="middle" fill="#333" transform="rotate(-90 363.00 200.30)">0</text>
<line x1="363.40" y1="187.90" x2="365.40" y2="187.90" stroke="#000" stroke-width="0.6"/>
<text x="363.00" y="187.90" font-family='"Liberation Serif", serif' font-size="3.6" font-weight="normal" font-style="normal" text-anchor="middle" fill="#333" transform="rotate(-90 363.00 187.90)">10</text>
<line x1="363.40" y1="175.50" x2="365.40" y2="175.50" stroke="#000" stroke-width="0.6"/>
<text x="363.00" y="175.50" font-family='"Liberation Serif", serif' font-size="3.6" font-weight="normal" font-style="normal" text-anchor="middle" fill="#333" transform="rotate(-90 363.00 175.50)">20</text>
<line x1="363.40" y1="163.10" x2="365.40" y2="163.10" stroke="#000" stroke-width="0.6"/>
<text x="363.00" y="163.10" font-family='"Liberation Serif", serif' font-size="3.6" font-weight="normal" font-style="normal" text-anchor="middle" fill="#333" transform="rotate(-90 363.00 163.10)">30</text>
<line x1="363.40" y1="150.70" x2="365.40" y2="150.70" stroke="#000" stroke-width="0.6"/>
<text x="363.00" y="150.70" font-family='"Liberation Serif", serif' font-size="3.6" font-weight="normal" font-style="normal" text-anchor="middle" fill="#333" transform="rotate(-90 363.00 150.70)">40</text>
<line x1="363.40" y1="138.30" x2="365.40" y2="138.30" stroke="#000" stroke-width="0.6"/>
<text x="363.00" y="138.30" font-family='"Liberation Serif", serif' font-size="3.6" font-weight="normal" font-style="normal" text-anchor="middle" fill="#333" transform="rotate(-90 363.00 138.30)">50</text>
<line x1="363.40" y1="125.90" x2="365.40" y2="125.90" stroke="#000" stroke-width="0.6"/>
<text x="363.00" y="125.90" font-family='"Liberation Serif", serif' font-size="3.6" font-weight="normal" font-style="normal" text-anchor="middle" fill="#333" transform="rotate(-90 363.00 125.90)">60</text>
<text x="358.90" y="157.15" font-family='"Liberation Serif", serif' font-size="3.4" font-weight="normal" font-style="normal" text-anchor="middle" fill="#333" transform="rotate(-90 358.90 157.15)">Number</text>
<line x1="365.40" y1="200.30" x2="464.60" y2="200.30" stroke="#000" stroke-width="1.0"/>
<line x1="365.40" y1="200.30" x2="365.40" y2="202.30" stroke="#000" stroke-width="0.6"/>
<text x="365.40" y="206.10" font-family='"Liberation Serif", serif' font-size="3.6" font-weight="normal" font-style="normal" text-anchor="middle" fill="#333">0</text>
<line x1="385.24" y1="200.30" x2="385.24" y2="202.30" stroke="#000" stroke-width="0.6"/>
<text x="385.24" y="206.10" font-family='"Liberation Serif", serif' font-size="3.6" font-weight="normal" font-style="normal" text-anchor="middle" fill="#333">50</text>
<line x1="405.08" y1="200.30" x2="405.08" y2="202.30" stroke="#000" stroke-width="0.6"/>
<text x="405.08" y="206.10" font-family='"Liberation Serif", serif' font-size="3.6" font-weight="normal" font-style="normal" text-anchor="middle" fill="#333">100</text>
<line x1="424.92" y1="200.30" x2="424.92" y2="202.30" stroke="#000" stroke-width="0.6"/>
<text x="424.92" y="206.10" font-family='"Liberation Serif", serif' font-size="3.6" font-weight="normal" font-style="normal" text-anchor="middle" fill="#333">150</text>
<line x1="444.76" y1="200.30" x2="444.76" y2="202.30" stroke="#000" stroke-width="0.6"/>
<text x="444.76" y="206.10" font-family='"Liberation Serif", serif' font-size="3.6" font-weight="normal" font-style="normal" text-anchor="middle" fill="#333">200</text>
<line x1="464.60" y1="200.30" x2="464.60" y2="202.30" stroke="#000" stroke-width="0.6"/>
<text x="464.60" y="206.10" font-family='"Liberation Serif", serif' font-size="3.6" font-weight="normal" font-style="normal" text-anchor="middle" fill="#333">250</text>
<line x1="365.40" y1="200.30" x2="365.40" y2="201.50" stroke="#000" stroke-width="0.5"/>
<line x1="369.37" y1="200.30" x2="369.37" y2="201.50" stroke="#000" stroke-width="0.5"/>
<line x1="373.34" y1="200.30" x2="373.34" y2="201.50" stroke="#000" stroke-width="0.5"/>
<line x1="377.30" y1="200.30" x2="377.30" y2="201.50" stroke="#000" stroke-width="0.5"/>
<line x1="381.27" y1="200.30" x2="381.27" y2="201.50" stroke="#000" stroke-width="0.5"/>
<line x1="385.24" y1="200.30" x2="385.24" y2="201.50" stroke="#000" stroke-width="0.5"/>
<line x1="389.21" y1="200.30" x2="389.21" y2="201.50" stroke="#000" stroke-width="0.5"/>
<line x1="393.18" y1="200.30" x2="393.18" y2="201.50" stroke="#000" stroke-width="0.5"/>
<line x1="397.14" y1="200.30" x2="397.14" y2="201.50" stroke="#000" stroke-width="0.5"/>
<line x1="401.11" y1="200.30" x2="401.11" y2="201.50" stroke="#000" stroke-width="0.5"/>
<line x1="405.08" y1="200.30" x2="405.08" y2="201.50" stroke="#000" stroke-width="0.5"/>
<line x1="409.05" y1="200.30" x2="409.05" y2="201.50" stroke="#000" stroke-width="0.5"/>
<line x1="413.02" y1="200.30" x2="413.02" y2="201.50" stroke="#000" stroke-width="0.5"/>
<line x1="416.98" y1="200.30" x2="416.98" y2="201.50" stroke="#000" stroke-width="0.5"/>
<line x1="420.95" y1="200.30" x2="420.95" y2="201.50" stroke="#000" stroke-width="0.5"/>
<line x1="424.92" y1="200.30" x2="424.92" y2="201.50" stroke="#000" stroke-width="0.5"/>
<line x1="428.89" y1="200.30" x2="428.89" y2="201.50" stroke="#000" stroke-width="0.5"/>
<line x1="432.86" y1="200.30" x2="432.86" y2="201.50" stroke="#000" stroke-width="0.5"/>
<line x1="436.82" y1="200.30" x2="436.82" y2="201.50" stroke="#000" stroke-width="0.5"/>
<line x1="440.79" y1="200.30" x2="440.79" y2="201.50" stroke="#000" stroke-width="0.5"/>
<line x1="444.76" y1="200.30" x2="444.76" y2="201.50" stroke="#000" stroke-width="0.5"/>
<line x1="448.73" y1="200.30" x2="448.73" y2="201.50" stroke="#000" stroke-width="0.5"/>
<line x1="452.70" y1="200.30" x2="452.70" y2="201.50" stroke="#000" stroke-width="0.5"/>
<line x1="456.66" y1="200.30" x2="456.66" y2="201.50" stroke="#000" stroke-width="0.5"/>
<line x1="460.63" y1="200.30" x2="460.63" y2="201.50" stroke="#000" stroke-width="0.5"/>
<line x1="464.60" y1="200.30" x2="464.60" y2="201.50" stroke="#000" stroke-width="0.5"/>
<path d="M436.20,200.30 L436.20,200.12 L436.70,200.04 L437.20,199.91 L437.70,199.73 L438.20,199.49 L438.71,199.16 L439.21,198.72 L439.71,198.14 L440.21,197.40 L440.71,196.46 L441.21,195.29 L441.71,193.88 L442.21,192.20 L442.71,190.23 L443.22,187.98 L443.72,185.47 L444.22,182.72 L444.72,179.78 L445.22,176.72 L445.72,173.64 L446.22,170.61 L446.72,167.76 L447.22,165.20 L447.73,163.01 L448.23,161.31 L448.73,160.17 L449.23,159.64 L449.73,159.73 L450.23,160.39 L450.73,161.60 L451.23,163.30 L451.73,165.43 L452.24,167.89 L452.74,170.61 L453.24,173.49 L453.74,176.43 L454.24,179.35 L454.74,182.17 L455.24,184.83 L455.74,187.29 L456.24,189.51 L456.75,191.48 L457.25,193.19 L457.75,194.65 L458.25,195.88 L458.75,196.88 L459.25,197.70 L459.75,198.35 L460.25,198.86 L460.75,199.25 L461.26,199.54 L461.76,199.76 L462.26,199.92 L462.76,200.04 L463.26,200.12 L463.26,200.30 Z" fill="#383838" stroke="#1a1a1a" stroke-width="0.75"/>
<path d="M426.25,200.30 L426.25,200.10 L426.76,200.02 L427.26,199.90 L427.77,199.73 L428.28,199.51 L428.78,199.22 L429.29,198.84 L429.80,198.35 L430.30,197.73 L430.81,196.95 L431.32,196.00 L431.82,194.84 L432.33,193.45 L432.84,191.83 L433.35,189.95 L433.85,187.81 L434.36,185.42 L434.87,182.80 L435.37,179.97 L435.88,176.99 L436.39,173.90 L436.89,170.78 L437.40,167.71 L437.91,164.78 L438.41,162.06 L438.92,159.66 L439.43,157.65 L439.93,156.11 L440.44,155.09 L440.95,154.63 L441.45,154.77 L441.96,155.60 L442.47,157.07 L442.97,159.13 L443.48,161.69 L443.99,164.64 L444.49,167.86 L445.00,171.24 L445.51,174.66 L446.01,178.02 L446.52,181.23 L447.03,184.23 L447.53,186.96 L448.04,189.40 L448.55,191.53 L449.06,193.34 L449.56,194.87 L450.07,196.12 L450.58,197.14 L451.08,197.94 L451.59,198.57 L452.10,199.05 L452.60,199.41 L453.11,199.67 L453.62,199.87 L454.12,200.01 L454.63,200.10 L454.63,200.30 Z" fill="#8c8c8c" stroke="#1a1a1a" stroke-width="0.75"/>
<path d="M410.75,200.30 L410.75,200.29 L411.25,200.28 L411.76,200.28 L412.26,200.27 L412.77,200.26 L413.27,200.25 L413.77,200.23 L414.28,200.21 L414.78,200.19 L415.29,200.16 L415.79,200.12 L416.30,200.08 L416.80,200.03 L417.30,199.97 L417.81,199.91 L418.31,199.83 L418.82,199.74 L419.32,199.64 L419.82,199.53 L420.33,199.41 L420.83,199.28 L421.34,199.13 L421.84,198.98 L422.35,198.83 L422.85,198.66 L423.35,198.50 L423.86,198.33 L424.36,198.17 L424.87,198.01 L425.37,197.86 L425.88,197.72 L426.38,197.60 L426.88,197.50 L427.39,197.41 L427.89,197.35 L428.40,197.31 L428.90,197.30 L429.40,197.31 L429.91,197.35 L430.41,197.41 L430.92,197.50 L431.42,197.60 L431.92,197.72 L432.43,197.86 L432.93,198.01 L433.44,198.17 L433.94,198.33 L434.45,198.50 L434.95,198.66 L435.45,198.83 L435.96,198.98 L436.46,199.13 L436.97,199.28 L437.47,199.41 L437.97,199.53 L438.48,199.64 L438.98,199.74 L439.49,199.83 L439.99,199.91 L440.50,199.97 L441.00,200.03 L441.50,200.08 L442.01,200.12 L442.51,200.16 L443.02,200.19 L443.52,200.21 L444.02,200.23 L444.53,200.25 L445.03,200.26 L445.54,200.27 L446.04,200.28 L446.55,200.28 L447.05,200.29 L447.05,200.30 Z" fill="#d6d6d6" stroke="#1a1a1a" stroke-width="0.75"/>
<path d="M415.00,200.30 L415.40,200.29 L415.92,200.30 L416.54,200.30 L417.24,200.30 L417.98,200.30 L418.74,200.26 L419.49,200.16 L420.20,200.00 L420.83,199.80 L421.48,199.56 L422.14,199.05 L422.82,199.84 L423.49,199.03 L424.16,198.23 L424.80,197.02 L425.42,197.50 L426.00,198.17 L426.71,196.38 L427.38,196.95 L428.02,194.67 L428.63,195.22 L429.22,192.94 L429.77,193.76 L430.30,193.71 L431.14,192.50 L431.88,189.51 L432.56,186.37 L433.20,182.77 L433.99,179.44 L434.70,175.83 L435.40,168.91 L436.10,167.22 L436.80,158.99 L437.50,156.71 L438.23,148.14 L438.97,145.13 L439.70,142.94 L440.40,143.09 L441.10,137.43 L441.80,135.69 L442.53,135.72 L443.26,134.06 L444.00,127.90 L444.74,129.11 L445.47,124.50 L446.20,121.70 L446.90,131.24 L447.60,128.62 L448.30,135.80 L449.03,144.90 L449.76,151.47 L450.50,157.59 L451.24,158.81 L451.97,169.64 L452.70,168.22 L453.38,173.03 L454.04,177.35 L454.80,180.48 L455.40,183.43 L456.02,186.72 L456.75,188.97 L457.70,193.54 L458.25,193.01 L458.91,194.21 L459.63,196.17 L460.40,196.52 L461.16,198.11 L461.89,198.53 L462.55,199.01 L463.09,199.83 L463.50,200.30" fill="none" stroke="#000" stroke-width="1.45" stroke-linejoin="round"/>
<line x1="106.00" y1="219.60" x2="106.00" y2="306.10" stroke="#000" stroke-width="1.0"/>
<line x1="104.60" y1="305.60" x2="106.00" y2="305.60" stroke="#000" stroke-width="0.6"/>
<line x1="104.60" y1="302.12" x2="106.00" y2="302.12" stroke="#000" stroke-width="0.6"/>
<line x1="104.60" y1="298.64" x2="106.00" y2="298.64" stroke="#000" stroke-width="0.6"/>
<line x1="104.60" y1="295.16" x2="106.00" y2="295.16" stroke="#000" stroke-width="0.6"/>
<line x1="104.60" y1="291.68" x2="106.00" y2="291.68" stroke="#000" stroke-width="0.6"/>
<line x1="104.60" y1="288.20" x2="106.00" y2="288.20" stroke="#000" stroke-width="0.6"/>
<line x1="104.60" y1="284.72" x2="106.00" y2="284.72" stroke="#000" stroke-width="0.6"/>
<line x1="104.60" y1="281.24" x2="106.00" y2="281.24" stroke="#000" stroke-width="0.6"/>
<line x1="104.60" y1="277.76" x2="106.00" y2="277.76" stroke="#000" stroke-width="0.6"/>
<line x1="104.60" y1="274.28" x2="106.00" y2="274.28" stroke="#000" stroke-width="0.6"/>
<line x1="104.60" y1="270.80" x2="106.00" y2="270.80" stroke="#000" stroke-width="0.6"/>
<line x1="104.60" y1="267.32" x2="106.00" y2="267.32" stroke="#000" stroke-width="0.6"/>
<line x1="104.60" y1="263.84" x2="106.00" y2="263.84" stroke="#000" stroke-width="0.6"/>
<line x1="104.60" y1="260.36" x2="106.00" y2="260.36" stroke="#000" stroke-width="0.6"/>
<line x1="104.60" y1="256.88" x2="106.00" y2="256.88" stroke="#000" stroke-width="0.6"/>
<line x1="104.60" y1="253.40" x2="106.00" y2="253.40" stroke="#000" stroke-width="0.6"/>
<line x1="104.60" y1="249.92" x2="106.00" y2="249.92" stroke="#000" stroke-width="0.6"/>
<line x1="104.60" y1="246.44" x2="106.00" y2="246.44" stroke="#000" stroke-width="0.6"/>
<line x1="104.60" y1="242.96" x2="106.00" y2="242.96" stroke="#000" stroke-width="0.6"/>
<line x1="104.60" y1="239.48" x2="106.00" y2="239.48" stroke="#000" stroke-width="0.6"/>
<line x1="104.60" y1="236.00" x2="106.00" y2="236.00" stroke="#000" stroke-width="0.6"/>
<line x1="104.60" y1="232.52" x2="106.00" y2="232.52" stroke="#000" stroke-width="0.6"/>
<line x1="104.60" y1="229.04" x2="106.00" y2="229.04" stroke="#000" stroke-width="0.6"/>
<line x1="104.60" y1="225.56" x2="106.00" y2="225.56" stroke="#000" stroke-width="0.6"/>
<line x1="104.60" y1="222.08" x2="106.00" y2="222.08" stroke="#000" stroke-width="0.6"/>
<line x1="104.00" y1="305.60" x2="106.00" y2="305.60" stroke="#000" stroke-width="0.6"/>
<text x="103.60" y="305.60" font-family='"Liberation Serif", serif' font-size="3.6" font-weight="normal" font-style="normal" text-anchor="middle" fill="#333" transform="rotate(-90 103.60 305.60)">0</text>
<line x1="104.00" y1="288.20" x2="106.00" y2="288.20" stroke="#000" stroke-width="0.6"/>
<text x="103.60" y="288.20" font-family='"Liberation Serif", serif' font-size="3.6" font-weight="normal" font-style="normal" text-anchor="middle" fill="#333" transform="rotate(-90 103.60 288.20)">10</text>
<line x1="104.00" y1="270.80" x2="106.00" y2="270.80" stroke="#000" stroke-width="0.6"/>
<text x="103.60" y="270.80" font-family='"Liberation Serif", serif' font-size="3.6" font-weight="normal" font-style="normal" text-anchor="middle" fill="#333" transform="rotate(-90 103.60 270.80)">20</text>
<line x1="104.00" y1="253.40" x2="106.00" y2="253.40" stroke="#000" stroke-width="0.6"/>
<text x="103.60" y="253.40" font-family='"Liberation Serif", serif' font-size="3.6" font-weight="normal" font-style="normal" text-anchor="middle" fill="#333" transform="rotate(-90 103.60 253.40)">30</text>
<line x1="104.00" y1="236.00" x2="106.00" y2="236.00" stroke="#000" stroke-width="0.6"/>
<text x="103.60" y="236.00" font-family='"Liberation Serif", serif' font-size="3.6" font-weight="normal" font-style="normal" text-anchor="middle" fill="#333" transform="rotate(-90 103.60 236.00)">40</text>
<text x="99.50" y="262.60" font-family='"Liberation Serif", serif' font-size="3.4" font-weight="normal" font-style="normal" text-anchor="middle" fill="#333" transform="rotate(-90 99.50 262.60)">Number</text>
<line x1="106.00" y1="305.60" x2="205.80" y2="305.60" stroke="#000" stroke-width="1.0"/>
<line x1="106.00" y1="305.60" x2="106.00" y2="307.60" stroke="#000" stroke-width="0.6"/>
<text x="106.00" y="311.60" font-family='"Liberation Serif", serif' font-size="4.6" font-weight="normal" font-style="normal" text-anchor="middle" fill="#333">0</text>
<line x1="125.96" y1="305.60" x2="125.96" y2="307.60" stroke="#000" stroke-width="0.6"/>
<text x="125.96" y="311.60" font-family='"Liberation Serif", serif' font-size="4.6" font-weight="normal" font-style="normal" text-anchor="middle" fill="#333">50</text>
<line x1="145.92" y1="305.60" x2="145.92" y2="307.60" stroke="#000" stroke-width="0.6"/>
<text x="145.92" y="311.60" font-family='"Liberation Serif", serif' font-size="4.6" font-weight="normal" font-style="normal" text-anchor="middle" fill="#333">100</text>
<line x1="165.88" y1="305.60" x2="165.88" y2="307.60" stroke="#000" stroke-width="0.6"/>
<text x="165.88" y="311.60" font-family='"Liberation Serif", serif' font-size="4.6" font-weight="normal" font-style="normal" text-anchor="middle" fill="#333">150</text>
<line x1="185.84" y1="305.60" x2="185.84" y2="307.60" stroke="#000" stroke-width="0.6"/>
<text x="185.84" y="311.60" font-family='"Liberation Serif", serif' font-size="4.6" font-weight="normal" font-style="normal" text-anchor="middle" fill="#333">200</text>
<line x1="205.80" y1="305.60" x2="205.80" y2="307.60" stroke="#000" stroke-width="0.6"/>
<text x="205.80" y="311.60" font-family='"Liberation Serif", serif' font-size="4.6" font-weight="normal" font-style="normal" text-anchor="middle" fill="#333">250</text>
<line x1="106.00" y1="305.60" x2="106.00" y2="306.80" stroke="#000" stroke-width="0.5"/>
<line x1="109.99" y1="305.60" x2="109.99" y2="306.80" stroke="#000" stroke-width="0.5"/>
<line x1="113.98" y1="305.60" x2="113.98" y2="306.80" stroke="#000" stroke-width="0.5"/>
<line x1="117.98" y1="305.60" x2="117.98" y2="306.80" stroke="#000" stroke-width="0.5"/>
<line x1="121.97" y1="305.60" x2="121.97" y2="306.80" stroke="#000" stroke-width="0.5"/>
<line x1="125.96" y1="305.60" x2="125.96" y2="306.80" stroke="#000" stroke-width="0.5"/>
<line x1="129.95" y1="305.60" x2="129.95" y2="306.80" stroke="#000" stroke-width="0.5"/>
<line x1="133.94" y1="305.60" x2="133.94" y2="306.80" stroke="#000" stroke-width="0.5"/>
<line x1="137.94" y1="305.60" x2="137.94" y2="306.80" stroke="#000" stroke-width="0.5"/>
<line x1="141.93" y1="305.60" x2="141.93" y2="306.80" stroke="#000" stroke-width="0.5"/>
<line x1="145.92" y1="305.60" x2="145.92" y2="306.80" stroke="#000" stroke-width="0.5"/>
<line x1="149.91" y1="305.60" x2="149.91" y2="306.80" stroke="#000" stroke-width="0.5"/>
<line x1="153.90" y1="305.60" x2="153.90" y2="306.80" stroke="#000" stroke-width="0.5"/>
<line x1="157.90" y1="305.60" x2="157.90" y2="306.80" stroke="#000" stroke-width="0.5"/>
<line x1="161.89" y1="305.60" x2="161.89" y2="306.80" stroke="#000" stroke-width="0.5"/>
<line x1="165.88" y1="305.60" x2="165.88" y2="306.80" stroke="#000" stroke-width="0.5"/>
<line x1="169.87" y1="305.60" x2="169.87" y2="306.80" stroke="#000" stroke-width="0.5"/>
<line x1="173.86" y1="305.60" x2="173.86" y2="306.80" stroke="#000" stroke-width="0.5"/>
<line x1="177.86" y1="305.60" x2="177.86" y2="306.80" stroke="#000" stroke-width="0.5"/>
<line x1="181.85" y1="305.60" x2="181.85" y2="306.80" stroke="#000" stroke-width="0.5"/>
<line x1="185.84" y1="305.60" x2="185.84" y2="306.80" stroke="#000" stroke-width="0.5"/>
<line x1="189.83" y1="305.60" x2="189.83" y2="306.80" stroke="#000" stroke-width="0.5"/>
<line x1="193.82" y1="305.60" x2="193.82" y2="306.80" stroke="#000" stroke-width="0.5"/>
<line x1="197.82" y1="305.60" x2="197.82" y2="306.80" stroke="#000" stroke-width="0.5"/>
<line x1="201.81" y1="305.60" x2="201.81" y2="306.80" stroke="#000" stroke-width="0.5"/>
<line x1="205.80" y1="305.60" x2="205.80" y2="306.80" stroke="#000" stroke-width="0.5"/>
<path d="M177.40,305.60 L177.40,305.55 L177.91,305.52 L178.42,305.48 L178.92,305.43 L179.43,305.36 L179.94,305.26 L180.45,305.12 L180.95,304.94 L181.46,304.72 L181.97,304.43 L182.48,304.07 L182.98,303.64 L183.49,303.13 L184.00,302.52 L184.51,301.84 L185.02,301.07 L185.52,300.24 L186.03,299.35 L186.54,298.43 L187.05,297.51 L187.55,296.62 L188.06,295.79 L188.57,295.05 L189.08,294.44 L189.58,293.98 L190.09,293.70 L190.60,293.60 L191.11,293.70 L191.62,293.98 L192.12,294.44 L192.63,295.05 L193.14,295.79 L193.65,296.62 L194.15,297.51 L194.66,298.43 L195.17,299.35 L195.68,300.24 L196.18,301.07 L196.69,301.84 L197.20,302.52 L197.71,303.13 L198.22,303.64 L198.72,304.07 L199.23,304.43 L199.74,304.72 L200.25,304.94 L200.75,305.12 L201.26,305.26 L201.77,305.36 L202.28,305.43 L202.78,305.48 L203.29,305.52 L203.80,305.55 L203.80,305.60 Z" fill="#404040" stroke="#1a1a1a" stroke-width="0.75"/>
<path d="M170.76,305.60 L170.76,305.55 L171.27,305.52 L171.78,305.47 L172.29,305.41 L172.80,305.32 L173.30,305.20 L173.81,305.04 L174.32,304.83 L174.83,304.55 L175.34,304.20 L175.85,303.76 L176.36,303.23 L176.87,302.60 L177.37,301.87 L177.88,301.04 L178.39,300.13 L178.90,299.15 L179.41,298.14 L179.92,297.12 L180.43,296.13 L180.94,295.22 L181.44,294.42 L181.95,293.77 L182.46,293.30 L182.97,293.05 L183.48,293.02 L183.99,293.23 L184.50,293.68 L185.01,294.34 L185.51,295.17 L186.02,296.13 L186.53,297.18 L187.04,298.25 L187.55,299.32 L188.06,300.34 L188.57,301.28 L189.08,302.12 L189.58,302.85 L190.09,303.48 L190.60,303.99 L191.11,304.40 L191.62,304.73 L192.13,304.98 L192.64,305.16 L193.15,305.30 L193.65,305.40 L194.16,305.47 L194.67,305.51 L195.18,305.55 L195.18,305.60 Z" fill="#7c7c7c" stroke="#1a1a1a" stroke-width="0.75"/>
<path d="M162.86,305.60 L162.86,305.47 L163.37,305.40 L163.88,305.30 L164.39,305.15 L164.90,304.94 L165.40,304.66 L165.91,304.27 L166.42,303.76 L166.93,303.10 L167.44,302.26 L167.95,301.22 L168.46,299.95 L168.97,298.45 L169.47,296.71 L169.98,294.74 L170.49,292.58 L171.00,290.25 L171.51,287.84 L172.02,285.41 L172.53,283.06 L173.03,280.88 L173.54,278.97 L174.05,277.43 L174.56,276.32 L175.07,275.71 L175.58,275.64 L176.09,276.14 L176.60,277.21 L177.11,278.78 L177.61,280.77 L178.12,283.06 L178.63,285.55 L179.14,288.11 L179.65,290.65 L180.16,293.07 L180.67,295.31 L181.18,297.31 L181.68,299.06 L182.19,300.54 L182.70,301.76 L183.21,302.75 L183.72,303.52 L184.23,304.12 L184.74,304.56 L185.25,304.89 L185.75,305.12 L186.26,305.28 L186.77,305.40 L187.28,305.47 L187.28,305.60 Z" fill="#a0a0a0" stroke="#1a1a1a" stroke-width="0.75"/>
<path d="M151.66,305.60 L151.66,305.38 L152.16,305.29 L152.66,305.16 L153.16,305.00 L153.66,304.79 L154.16,304.51 L154.66,304.15 L155.16,303.69 L155.66,303.11 L156.16,302.40 L156.66,301.53 L157.16,300.48 L157.66,299.23 L158.16,297.76 L158.66,296.04 L159.16,294.09 L159.67,291.88 L160.17,289.42 L160.67,286.73 L161.17,283.83 L161.67,280.75 L162.17,277.55 L162.67,274.28 L163.17,271.00 L163.67,267.79 L164.17,264.73 L164.67,261.90 L165.17,259.39 L165.67,257.25 L166.17,255.56 L166.67,254.37 L167.17,253.72 L167.67,253.64 L168.17,254.15 L168.67,255.26 L169.17,256.92 L169.67,259.08 L170.17,261.67 L170.67,264.60 L171.17,267.79 L171.67,271.14 L172.17,274.56 L172.67,277.97 L173.17,281.30 L173.67,284.47 L174.17,287.45 L174.67,290.19 L175.18,292.67 L175.68,294.88 L176.18,296.82 L176.68,298.49 L177.18,299.91 L177.68,301.10 L178.18,302.08 L178.68,302.88 L179.18,303.53 L179.68,304.04 L180.18,304.43 L180.68,304.74 L181.18,304.98 L181.68,305.15 L182.18,305.28 L182.68,305.38 L182.68,305.60 Z" fill="#c8c8c8" stroke="#1a1a1a" stroke-width="0.75"/>
<path d="M140.36,305.60 L140.36,305.40 L140.87,305.33 L141.37,305.24 L141.88,305.13 L142.38,304.99 L142.89,304.82 L143.39,304.60 L143.90,304.33 L144.41,304.00 L144.91,303.60 L145.42,303.12 L145.92,302.55 L146.43,301.87 L146.93,301.07 L147.44,300.15 L147.95,299.10 L148.45,297.89 L148.96,296.53 L149.46,295.02 L149.97,293.34 L150.47,291.51 L150.98,289.52 L151.49,287.39 L151.99,285.14 L152.50,282.78 L153.00,280.34 L153.51,277.86 L154.01,275.36 L154.52,272.88 L155.03,270.47 L155.53,268.17 L156.04,266.02 L156.54,264.07 L157.05,262.34 L157.55,260.89 L158.06,259.74 L158.57,258.91 L159.07,258.43 L159.58,258.30 L160.08,258.52 L160.59,259.07 L161.09,259.94 L161.60,261.11 L162.11,262.56 L162.61,264.25 L163.12,266.16 L163.62,268.25 L164.13,270.47 L164.63,272.80 L165.14,275.19 L165.65,277.61 L166.15,280.01 L166.66,282.38 L167.16,284.67 L167.67,286.88 L168.17,288.97 L168.68,290.93 L169.19,292.75 L169.69,294.42 L170.20,295.95 L170.70,297.32 L171.21,298.55 L171.71,299.64 L172.22,300.60 L172.73,301.43 L173.23,302.15 L173.74,302.77 L174.24,303.29 L174.75,303.73 L175.25,304.09 L175.76,304.40 L176.27,304.65 L176.77,304.85 L177.28,305.01 L177.78,305.14 L178.29,305.25 L178.79,305.33 L179.30,305.40 L179.30,305.60 Z" fill="#e6e6e6" stroke="#1a1a1a" stroke-width="0.75"/>
<path d="M140.42,305.60 L140.42,305.56 L140.93,305.54 L141.43,305.50 L141.94,305.46 L142.44,305.39 L142.95,305.29 L143.45,305.16 L143.96,304.98 L144.46,304.75 L144.97,304.46 L145.48,304.09 L145.98,303.65 L146.49,303.13 L146.99,302.53 L147.50,301.86 L148.00,301.14 L148.51,300.37 L149.01,299.60 L149.52,298.85 L150.03,298.15 L150.53,297.54 L151.04,297.04 L151.54,296.70 L152.05,296.52 L152.55,296.52 L153.06,296.70 L153.56,297.04 L154.07,297.54 L154.57,298.15 L155.08,298.85 L155.59,299.60 L156.09,300.37 L156.60,301.14 L157.10,301.86 L157.61,302.53 L158.11,303.13 L158.62,303.65 L159.12,304.09 L159.63,304.46 L160.14,304.75 L160.64,304.98 L161.15,305.16 L161.65,305.29 L162.16,305.39 L162.66,305.46 L163.17,305.50 L163.67,305.54 L164.18,305.56 L164.18,305.60 Z" fill="#ffffff" stroke="#1a1a1a" stroke-width="0.75"/>
<path d="M138.00,305.60 L138.44,305.60 L139.03,305.60 L139.74,305.60 L140.53,305.60 L141.36,305.60 L142.20,305.30 L142.79,304.96 L143.44,304.69 L144.12,303.75 L144.83,303.70 L145.53,303.19 L146.22,303.08 L146.88,301.78 L147.47,299.75 L148.00,299.56 L148.93,296.90 L149.63,295.70 L150.24,292.86 L150.90,289.71 L151.59,288.37 L152.27,278.24 L152.98,272.98 L153.80,267.24 L154.44,268.80 L155.15,265.23 L155.89,259.27 L156.64,254.46 L157.35,248.87 L158.00,246.83 L158.68,242.16 L159.29,243.16 L159.86,238.17 L160.43,235.94 L161.00,237.27 L161.77,227.21 L162.56,228.50 L163.29,224.27 L163.90,228.56 L164.65,226.77 L165.20,224.86 L165.74,225.58 L166.50,225.92 L167.00,228.42 L167.59,232.04 L168.24,235.14 L168.92,235.27 L169.60,231.37 L170.31,239.33 L171.07,237.75 L171.84,238.96 L172.56,246.50 L173.20,243.76 L173.96,243.24 L174.56,255.91 L175.40,254.87 L175.91,256.14 L176.50,260.02 L177.13,258.74 L177.80,262.35 L178.46,267.95 L179.10,264.47 L179.70,266.84 L180.34,268.41 L180.95,269.51 L181.54,273.97 L182.12,276.43 L182.70,281.07 L183.30,278.79 L183.91,282.45 L184.53,283.13 L185.15,285.47 L185.77,285.67 L186.39,285.68 L187.00,283.43 L187.70,290.53 L188.38,290.92 L189.06,289.65 L189.79,289.35 L190.60,292.17 L191.15,296.56 L191.73,298.23 L192.34,295.29 L192.96,297.59 L193.60,298.91 L194.26,297.32 L194.93,298.05 L195.60,299.84 L196.22,300.39 L196.86,300.83 L197.53,300.41 L198.21,301.84 L198.88,302.47 L199.55,302.95 L200.20,304.83 L200.82,303.37 L201.40,303.96 L202.13,304.85 L202.86,305.09 L203.57,305.27 L204.24,305.38 L204.83,305.47 L205.32,305.53 L205.70,305.60" fill="none" stroke="#000" stroke-width="1.45" stroke-linejoin="round"/>
<line x1="233.80" y1="219.60" x2="233.80" y2="306.40" stroke="#000" stroke-width="1.0"/>
<line x1="232.40" y1="305.90" x2="233.80" y2="305.90" stroke="#000" stroke-width="0.6"/>
<line x1="232.40" y1="302.42" x2="233.80" y2="302.42" stroke="#000" stroke-width="0.6"/>
<line x1="232.40" y1="298.94" x2="233.80" y2="298.94" stroke="#000" stroke-width="0.6"/>
<line x1="232.40" y1="295.46" x2="233.80" y2="295.46" stroke="#000" stroke-width="0.6"/>
<line x1="232.40" y1="291.98" x2="233.80" y2="291.98" stroke="#000" stroke-width="0.6"/>
<line x1="232.40" y1="288.50" x2="233.80" y2="288.50" stroke="#000" stroke-width="0.6"/>
<line x1="232.40" y1="285.02" x2="233.80" y2="285.02" stroke="#000" stroke-width="0.6"/>
<line x1="232.40" y1="281.54" x2="233.80" y2="281.54" stroke="#000" stroke-width="0.6"/>
<line x1="232.40" y1="278.06" x2="233.80" y2="278.06" stroke="#000" stroke-width="0.6"/>
<line x1="232.40" y1="274.58" x2="233.80" y2="274.58" stroke="#000" stroke-width="0.6"/>
<line x1="232.40" y1="271.10" x2="233.80" y2="271.10" stroke="#000" stroke-width="0.6"/>
<line x1="232.40" y1="267.62" x2="233.80" y2="267.62" stroke="#000" stroke-width="0.6"/>
<line x1="232.40" y1="264.14" x2="233.80" y2="264.14" stroke="#000" stroke-width="0.6"/>
<line x1="232.40" y1="260.66" x2="233.80" y2="260.66" stroke="#000" stroke-width="0.6"/>
<line x1="232.40" y1="257.18" x2="233.80" y2="257.18" stroke="#000" stroke-width="0.6"/>
<line x1="232.40" y1="253.70" x2="233.80" y2="253.70" stroke="#000" stroke-width="0.6"/>
<line x1="232.40" y1="250.22" x2="233.80" y2="250.22" stroke="#000" stroke-width="0.6"/>
<line x1="232.40" y1="246.74" x2="233.80" y2="246.74" stroke="#000" stroke-width="0.6"/>
<line x1="232.40" y1="243.26" x2="233.80" y2="243.26" stroke="#000" stroke-width="0.6"/>
<line x1="232.40" y1="239.78" x2="233.80" y2="239.78" stroke="#000" stroke-width="0.6"/>
<line x1="232.40" y1="236.30" x2="233.80" y2="236.30" stroke="#000" stroke-width="0.6"/>
<line x1="232.40" y1="232.82" x2="233.80" y2="232.82" stroke="#000" stroke-width="0.6"/>
<line x1="232.40" y1="229.34" x2="233.80" y2="229.34" stroke="#000" stroke-width="0.6"/>
<line x1="232.40" y1="225.86" x2="233.80" y2="225.86" stroke="#000" stroke-width="0.6"/>
<line x1="232.40" y1="222.38" x2="233.80" y2="222.38" stroke="#000" stroke-width="0.6"/>
<line x1="231.80" y1="305.90" x2="233.80" y2="305.90" stroke="#000" stroke-width="0.6"/>
<text x="231.40" y="305.90" font-family='"Liberation Serif", serif' font-size="3.6" font-weight="normal" font-style="normal" text-anchor="middle" fill="#333" transform="rotate(-90 231.40 305.90)">0</text>
<line x1="231.80" y1="288.50" x2="233.80" y2="288.50" stroke="#000" stroke-width="0.6"/>
<text x="231.40" y="288.50" font-family='"Liberation Serif", serif' font-size="3.6" font-weight="normal" font-style="normal" text-anchor="middle" fill="#333" transform="rotate(-90 231.40 288.50)">10</text>
<line x1="231.80" y1="271.10" x2="233.80" y2="271.10" stroke="#000" stroke-width="0.6"/>
<text x="231.40" y="271.10" font-family='"Liberation Serif", serif' font-size="3.6" font-weight="normal" font-style="normal" text-anchor="middle" fill="#333" transform="rotate(-90 231.40 271.10)">20</text>
<line x1="231.80" y1="253.70" x2="233.80" y2="253.70" stroke="#000" stroke-width="0.6"/>
<text x="231.40" y="253.70" font-family='"Liberation Serif", serif' font-size="3.6" font-weight="normal" font-style="normal" text-anchor="middle" fill="#333" transform="rotate(-90 231.40 253.70)">30</text>
<line x1="231.80" y1="236.30" x2="233.80" y2="236.30" stroke="#000" stroke-width="0.6"/>
<text x="231.40" y="236.30" font-family='"Liberation Serif", serif' font-size="3.6" font-weight="normal" font-style="normal" text-anchor="middle" fill="#333" transform="rotate(-90 231.40 236.30)">40</text>
<text x="227.30" y="262.75" font-family='"Liberation Serif", serif' font-size="3.4" font-weight="normal" font-style="normal" text-anchor="middle" fill="#333" transform="rotate(-90 227.30 262.75)">Number</text>
<line x1="233.80" y1="305.90" x2="337.70" y2="305.90" stroke="#000" stroke-width="1.0"/>
<line x1="233.80" y1="305.90" x2="233.80" y2="307.90" stroke="#000" stroke-width="0.6"/>
<text x="233.80" y="311.90" font-family='"Liberation Serif", serif' font-size="4.6" font-weight="normal" font-style="normal" text-anchor="middle" fill="#333">0</text>
<line x1="254.58" y1="305.90" x2="254.58" y2="307.90" stroke="#000" stroke-width="0.6"/>
<text x="254.58" y="311.90" font-family='"Liberation Serif", serif' font-size="4.6" font-weight="normal" font-style="normal" text-anchor="middle" fill="#333">50</text>
<line x1="275.36" y1="305.90" x2="275.36" y2="307.90" stroke="#000" stroke-width="0.6"/>
<text x="275.36" y="311.90" font-family='"Liberation Serif", serif' font-size="4.6" font-weight="normal" font-style="normal" text-anchor="middle" fill="#333">100</text>
<line x1="296.14" y1="305.90" x2="296.14" y2="307.90" stroke="#000" stroke-width="0.6"/>
<text x="296.14" y="311.90" font-family='"Liberation Serif", serif' font-size="4.6" font-weight="normal" font-style="normal" text-anchor="middle" fill="#333">150</text>
<line x1="316.92" y1="305.90" x2="316.92" y2="307.90" stroke="#000" stroke-width="0.6"/>
<text x="316.92" y="311.90" font-family='"Liberation Serif", serif' font-size="4.6" font-weight="normal" font-style="normal" text-anchor="middle" fill="#333">200</text>
<line x1="337.70" y1="305.90" x2="337.70" y2="307.90" stroke="#000" stroke-width="0.6"/>
<text x="337.70" y="311.90" font-family='"Liberation Serif", serif' font-size="4.6" font-weight="normal" font-style="normal" text-anchor="middle" fill="#333">250</text>
<line x1="233.80" y1="305.90" x2="233.80" y2="307.10" stroke="#000" stroke-width="0.5"/>
<line x1="237.96" y1="305.90" x2="237.96" y2="307.10" stroke="#000" stroke-width="0.5"/>
<line x1="242.11" y1="305.90" x2="242.11" y2="307.10" stroke="#000" stroke-width="0.5"/>
<line x1="246.27" y1="305.90" x2="246.27" y2="307.10" stroke="#000" stroke-width="0.5"/>
<line x1="250.42" y1="305.90" x2="250.42" y2="307.10" stroke="#000" stroke-width="0.5"/>
<line x1="254.58" y1="305.90" x2="254.58" y2="307.10" stroke="#000" stroke-width="0.5"/>
<line x1="258.74" y1="305.90" x2="258.74" y2="307.10" stroke="#000" stroke-width="0.5"/>
<line x1="262.89" y1="305.90" x2="262.89" y2="307.10" stroke="#000" stroke-width="0.5"/>
<line x1="267.05" y1="305.90" x2="267.05" y2="307.10" stroke="#000" stroke-width="0.5"/>
<line x1="271.20" y1="305.90" x2="271.20" y2="307.10" stroke="#000" stroke-width="0.5"/>
<line x1="275.36" y1="305.90" x2="275.36" y2="307.10" stroke="#000" stroke-width="0.5"/>
<line x1="279.52" y1="305.90" x2="279.52" y2="307.10" stroke="#000" stroke-width="0.5"/>
<line x1="283.67" y1="305.90" x2="283.67" y2="307.10" stroke="#000" stroke-width="0.5"/>
<line x1="287.83" y1="305.90" x2="287.83" y2="307.10" stroke="#000" stroke-width="0.5"/>
<line x1="291.98" y1="305.90" x2="291.98" y2="307.10" stroke="#000" stroke-width="0.5"/>
<line x1="296.14" y1="305.90" x2="296.14" y2="307.10" stroke="#000" stroke-width="0.5"/>
<line x1="300.30" y1="305.90" x2="300.30" y2="307.10" stroke="#000" stroke-width="0.5"/>
<line x1="304.45" y1="305.90" x2="304.45" y2="307.10" stroke="#000" stroke-width="0.5"/>
<line x1="308.61" y1="305.90" x2="308.61" y2="307.10" stroke="#000" stroke-width="0.5"/>
<line x1="312.76" y1="305.90" x2="312.76" y2="307.10" stroke="#000" stroke-width="0.5"/>
<line x1="316.92" y1="305.90" x2="316.92" y2="307.10" stroke="#000" stroke-width="0.5"/>
<line x1="321.08" y1="305.90" x2="321.08" y2="307.10" stroke="#000" stroke-width="0.5"/>
<line x1="325.23" y1="305.90" x2="325.23" y2="307.10" stroke="#000" stroke-width="0.5"/>
<line x1="329.39" y1="305.90" x2="329.39" y2="307.10" stroke="#000" stroke-width="0.5"/>
<line x1="333.54" y1="305.90" x2="333.54" y2="307.10" stroke="#000" stroke-width="0.5"/>
<line x1="337.70" y1="305.90" x2="337.70" y2="307.10" stroke="#000" stroke-width="0.5"/>
<path d="M310.70,305.90 L310.70,305.76 L311.20,305.69 L311.70,305.59 L312.20,305.45 L312.70,305.25 L313.20,304.99 L313.70,304.64 L314.20,304.18 L314.71,303.58 L315.21,302.84 L315.71,301.91 L316.21,300.79 L316.71,299.44 L317.21,297.88 L317.71,296.09 L318.21,294.08 L318.71,291.89 L319.21,289.55 L319.71,287.11 L320.21,284.65 L320.71,282.24 L321.21,279.96 L321.72,277.90 L322.22,276.16 L322.72,274.79 L323.22,273.87 L323.72,273.43 L324.22,273.47 L324.72,273.87 L325.22,274.61 L325.72,275.66 L326.22,276.99 L326.72,278.56 L327.22,280.32 L327.72,282.24 L328.22,284.24 L328.72,286.29 L329.23,288.34 L329.73,290.34 L330.23,292.27 L330.73,294.08 L331.23,295.77 L331.73,297.31 L332.23,298.69 L332.73,299.92 L333.23,300.99 L333.73,301.91 L334.23,302.70 L334.73,303.35 L335.23,303.90 L335.73,304.34 L336.24,304.70 L336.74,304.99 L337.24,305.22 L337.74,305.39 L338.24,305.52 L338.74,305.63 L339.24,305.70 L339.74,305.76 L339.74,305.90 Z" fill="#404040" stroke="#1a1a1a" stroke-width="0.75"/>
<path d="M303.62,305.90 L303.62,305.78 L304.13,305.72 L304.63,305.62 L305.14,305.48 L305.64,305.27 L306.15,304.98 L306.66,304.59 L307.16,304.07 L307.67,303.40 L308.17,302.53 L308.68,301.46 L309.19,300.16 L309.69,298.63 L310.20,296.87 L310.70,294.91 L311.21,292.77 L311.72,290.53 L312.22,288.26 L312.73,286.05 L313.23,284.00 L313.74,282.21 L314.25,280.77 L314.75,279.77 L315.26,279.26 L315.76,279.29 L316.27,279.92 L316.78,281.12 L317.28,282.82 L317.79,284.90 L318.29,287.24 L318.80,289.71 L319.31,292.17 L319.81,294.53 L320.32,296.70 L320.82,298.63 L321.33,300.29 L321.84,301.67 L322.34,302.79 L322.85,303.66 L323.35,304.33 L323.86,304.82 L324.37,305.18 L324.87,305.43 L325.38,305.60 L325.88,305.71 L326.39,305.78 L326.39,305.90 Z" fill="#7c7c7c" stroke="#1a1a1a" stroke-width="0.75"/>
<path d="M295.72,305.90 L295.72,305.77 L296.23,305.69 L296.73,305.57 L297.24,305.41 L297.74,305.17 L298.25,304.84 L298.76,304.38 L299.26,303.78 L299.77,302.99 L300.27,301.99 L300.78,300.75 L301.29,299.24 L301.79,297.46 L302.30,295.42 L302.80,293.14 L303.31,290.66 L303.82,288.06 L304.32,285.42 L304.83,282.85 L305.33,280.47 L305.84,278.39 L306.35,276.72 L306.85,275.56 L307.36,274.97 L307.86,275.00 L308.37,275.73 L308.88,277.13 L309.38,279.11 L309.89,281.52 L310.39,284.24 L310.90,287.10 L311.41,289.96 L311.91,292.70 L312.42,295.22 L312.92,297.46 L313.43,299.39 L313.94,300.99 L314.44,302.29 L314.95,303.30 L315.45,304.07 L315.96,304.65 L316.47,305.06 L316.97,305.35 L317.48,305.55 L317.98,305.68 L318.49,305.77 L318.49,305.90 Z" fill="#a0a0a0" stroke="#1a1a1a" stroke-width="0.75"/>
<path d="M284.42,305.90 L284.42,305.68 L284.93,305.58 L285.43,305.45 L285.94,305.27 L286.45,305.03 L286.96,304.71 L287.46,304.30 L287.97,303.78 L288.48,303.11 L288.99,302.28 L289.49,301.26 L290.00,300.02 L290.51,298.54 L291.01,296.81 L291.52,294.80 L292.03,292.51 L292.54,289.94 L293.04,287.11 L293.55,284.05 L294.06,280.79 L294.56,277.39 L295.07,273.93 L295.58,270.48 L296.09,267.13 L296.59,263.98 L297.10,261.12 L297.61,258.65 L298.12,256.64 L298.62,255.16 L299.13,254.27 L299.64,254.00 L300.14,254.56 L300.65,256.05 L301.16,258.40 L301.67,261.49 L302.17,265.15 L302.68,269.20 L303.19,273.46 L303.69,277.76 L304.20,281.95 L304.71,285.89 L305.22,289.50 L305.72,292.70 L306.23,295.48 L306.74,297.83 L307.25,299.76 L307.75,301.32 L308.26,302.54 L308.77,303.49 L309.27,304.20 L309.78,304.72 L310.29,305.10 L310.80,305.37 L311.30,305.55 L311.81,305.68 L311.81,305.90 Z" fill="#c8c8c8" stroke="#1a1a1a" stroke-width="0.75"/>
<path d="M276.52,305.90 L276.52,305.78 L277.02,305.73 L277.53,305.66 L278.03,305.57 L278.53,305.44 L279.04,305.28 L279.54,305.07 L280.04,304.79 L280.55,304.45 L281.05,304.02 L281.55,303.49 L282.06,302.86 L282.56,302.09 L283.06,301.20 L283.57,300.16 L284.07,298.97 L284.57,297.65 L285.08,296.18 L285.58,294.59 L286.08,292.89 L286.59,291.12 L287.09,289.31 L287.59,287.50 L288.10,285.73 L288.60,284.06 L289.10,282.53 L289.61,281.19 L290.11,280.09 L290.61,279.25 L291.12,278.72 L291.62,278.50 L292.13,278.63 L292.63,279.10 L293.13,279.91 L293.64,281.03 L294.14,282.40 L294.64,283.99 L295.15,285.73 L295.65,287.58 L296.15,289.48 L296.66,291.37 L297.16,293.21 L297.66,294.96 L298.17,296.59 L298.67,298.08 L299.17,299.42 L299.68,300.60 L300.18,301.62 L300.68,302.49 L301.19,303.22 L301.69,303.82 L302.19,304.30 L302.70,304.69 L303.20,305.00 L303.70,305.24 L304.21,305.42 L304.71,305.55 L305.21,305.65 L305.72,305.73 L306.22,305.78 L306.22,305.90 Z" fill="#e6e6e6" stroke="#1a1a1a" stroke-width="0.75"/>
<path d="M270.60,305.90 L270.60,305.86 L271.11,305.84 L271.62,305.82 L272.12,305.78 L272.63,305.73 L273.14,305.65 L273.65,305.56 L274.15,305.43 L274.66,305.27 L275.17,305.06 L275.68,304.81 L276.18,304.50 L276.69,304.13 L277.20,303.70 L277.71,303.20 L278.22,302.65 L278.72,302.06 L279.23,301.42 L279.74,300.76 L280.25,300.10 L280.75,299.46 L281.26,298.87 L281.77,298.34 L282.28,297.90 L282.78,297.57 L283.29,297.37 L283.80,297.30 L284.31,297.37 L284.82,297.57 L285.32,297.90 L285.83,298.34 L286.34,298.87 L286.85,299.46 L287.35,300.10 L287.86,300.76 L288.37,301.42 L288.88,302.06 L289.38,302.65 L289.89,303.20 L290.40,303.70 L290.91,304.13 L291.42,304.50 L291.92,304.81 L292.43,305.06 L292.94,305.27 L293.45,305.43 L293.95,305.56 L294.46,305.65 L294.97,305.73 L295.48,305.78 L295.98,305.82 L296.49,305.84 L297.00,305.86 L297.00,305.90 Z" fill="#ffffff" stroke="#1a1a1a" stroke-width="0.75"/>
<path d="M250.00,305.90 L250.33,305.88 L250.71,305.86 L251.14,305.84 L251.62,305.82 L252.14,305.80 L252.70,305.77 L253.29,305.74 L253.91,305.72 L254.56,305.69 L255.22,305.66 L255.91,305.63 L256.60,305.59 L257.31,305.56 L258.02,305.52 L258.73,305.48 L259.44,305.44 L260.14,305.40 L260.83,305.36 L261.51,305.31 L262.16,305.26 L262.79,305.22 L263.40,305.16 L263.97,305.11 L264.50,305.06 L265.00,305.00 L265.82,304.90 L266.60,304.60 L267.34,303.26 L268.03,303.99 L268.70,303.88 L269.33,304.05 L269.93,304.11 L270.51,303.78 L271.07,304.09 L271.62,304.41 L272.15,304.36 L272.67,304.36 L273.19,303.02 L273.70,302.47 L274.47,301.01 L275.19,301.39 L275.87,300.96 L276.51,299.87 L277.12,299.83 L277.71,301.15 L278.28,296.94 L278.84,297.87 L279.40,296.07 L280.10,295.45 L280.75,289.51 L281.38,290.54 L281.99,290.08 L282.59,291.00 L283.19,285.81 L283.80,287.13 L284.43,281.27 L285.06,284.28 L285.69,279.12 L286.31,274.53 L286.93,276.04 L287.52,271.53 L288.10,269.15 L288.86,264.17 L289.59,264.74 L290.29,258.75 L290.99,252.13 L291.70,259.22 L292.31,255.39 L292.93,249.57 L293.54,250.87 L294.15,251.08 L294.74,240.93 L295.30,240.58 L296.08,237.76 L296.81,235.73 L297.51,234.78 L298.20,237.48 L298.88,239.49 L299.53,226.03 L300.17,228.32 L300.80,223.08 L301.60,224.24 L302.37,234.73 L303.20,235.87 L303.91,230.87 L304.66,235.21 L305.41,244.03 L306.10,241.22 L306.86,244.32 L307.54,247.01 L308.30,249.98 L308.98,253.64 L309.71,254.79 L310.46,252.06 L311.20,259.05 L311.94,252.84 L312.70,256.22 L313.43,259.32 L314.10,259.55 L314.86,255.27 L315.52,256.91 L316.20,257.48 L316.90,249.77 L317.61,248.03 L318.40,254.14 L319.08,254.40 L319.81,255.40 L320.56,259.11 L321.30,256.96 L322.03,258.41 L322.76,263.67 L323.48,264.73 L324.20,272.06 L324.90,270.67 L325.60,274.08 L326.30,274.63 L327.00,274.86 L327.72,278.25 L328.44,280.82 L329.17,285.29 L329.90,291.85 L330.59,290.62 L331.26,297.11 L331.97,297.03 L332.80,298.29 L333.38,299.61 L334.05,299.73 L334.77,300.87 L335.49,302.41 L336.16,301.24 L336.75,302.53 L337.20,303.74 L337.88,304.68 L338.00,305.90" fill="none" stroke="#000" stroke-width="1.45" stroke-linejoin="round"/>
<line x1="365.40" y1="218.50" x2="365.40" y2="308.60" stroke="#000" stroke-width="1.0"/>
<line x1="364.00" y1="308.10" x2="365.40" y2="308.10" stroke="#000" stroke-width="0.6"/>
<line x1="364.00" y1="304.62" x2="365.40" y2="304.62" stroke="#000" stroke-width="0.6"/>
<line x1="364.00" y1="301.14" x2="365.40" y2="301.14" stroke="#000" stroke-width="0.6"/>
<line x1="364.00" y1="297.66" x2="365.40" y2="297.66" stroke="#000" stroke-width="0.6"/>
<line x1="364.00" y1="294.18" x2="365.40" y2="294.18" stroke="#000" stroke-width="0.6"/>
<line x1="364.00" y1="290.70" x2="365.40" y2="290.70" stroke="#000" stroke-width="0.6"/>
<line x1="364.00" y1="287.22" x2="365.40" y2="287.22" stroke="#000" stroke-width="0.6"/>
<line x1="364.00" y1="283.74" x2="365.40" y2="283.74" stroke="#000" stroke-width="0.6"/>
<line x1="364.00" y1="280.26" x2="365.40" y2="280.26" stroke="#000" stroke-width="0.6"/>
<line x1="364.00" y1="276.78" x2="365.40" y2="276.78" stroke="#000" stroke-width="0.6"/>
<line x1="364.00" y1="273.30" x2="365.40" y2="273.30" stroke="#000" stroke-width="0.6"/>
<line x1="364.00" y1="269.82" x2="365.40" y2="269.82" stroke="#000" stroke-width="0.6"/>
<line x1="364.00" y1="266.34" x2="365.40" y2="266.34" stroke="#000" stroke-width="0.6"/>
<line x1="364.00" y1="262.86" x2="365.40" y2="262.86" stroke="#000" stroke-width="0.6"/>
<line x1="364.00" y1="259.38" x2="365.40" y2="259.38" stroke="#000" stroke-width="0.6"/>
<line x1="364.00" y1="255.90" x2="365.40" y2="255.90" stroke="#000" stroke-width="0.6"/>
<line x1="364.00" y1="252.42" x2="365.40" y2="252.42" stroke="#000" stroke-width="0.6"/>
<line x1="364.00" y1="248.94" x2="365.40" y2="248.94" stroke="#000" stroke-width="0.6"/>
<line x1="364.00" y1="245.46" x2="365.40" y2="245.46" stroke="#000" stroke-width="0.6"/>
<line x1="364.00" y1="241.98" x2="365.40" y2="241.98" stroke="#000" stroke-width="0.6"/>
<line x1="364.00" y1="238.50" x2="365.40" y2="238.50" stroke="#000" stroke-width="0.6"/>
<line x1="364.00" y1="235.02" x2="365.40" y2="235.02" stroke="#000" stroke-width="0.6"/>
<line x1="364.00" y1="231.54" x2="365.40" y2="231.54" stroke="#000" stroke-width="0.6"/>
<line x1="364.00" y1="228.06" x2="365.40" y2="228.06" stroke="#000" stroke-width="0.6"/>
<line x1="364.00" y1="224.58" x2="365.40" y2="224.58" stroke="#000" stroke-width="0.6"/>
<line x1="364.00" y1="221.10" x2="365.40" y2="221.10" stroke="#000" stroke-width="0.6"/>
<line x1="363.40" y1="308.10" x2="365.40" y2="308.10" stroke="#000" stroke-width="0.6"/>
<text x="363.00" y="308.10" font-family='"Liberation Serif", serif' font-size="3.6" font-weight="normal" font-style="normal" text-anchor="middle" fill="#333" transform="rotate(-90 363.00 308.10)">0</text>
<line x1="363.40" y1="290.70" x2="365.40" y2="290.70" stroke="#000" stroke-width="0.6"/>
<text x="363.00" y="290.70" font-family='"Liberation Serif", serif' font-size="3.6" font-weight="normal" font-style="normal" text-anchor="middle" fill="#333" transform="rotate(-90 363.00 290.70)">10</text>
<line x1="363.40" y1="273.30" x2="365.40" y2="273.30" stroke="#000" stroke-width="0.6"/>
<text x="363.00" y="273.30" font-family='"Liberation Serif", serif' font-size="3.6" font-weight="normal" font-style="normal" text-anchor="middle" fill="#333" transform="rotate(-90 363.00 273.30)">20</text>
<line x1="363.40" y1="255.90" x2="365.40" y2="255.90" stroke="#000" stroke-width="0.6"/>
<text x="363.00" y="255.90" font-family='"Liberation Serif", serif' font-size="3.6" font-weight="normal" font-style="normal" text-anchor="middle" fill="#333" transform="rotate(-90 363.00 255.90)">30</text>
<line x1="363.40" y1="238.50" x2="365.40" y2="238.50" stroke="#000" stroke-width="0.6"/>
<text x="363.00" y="238.50" font-family='"Liberation Serif", serif' font-size="3.6" font-weight="normal" font-style="normal" text-anchor="middle" fill="#333" transform="rotate(-90 363.00 238.50)">40</text>
<text x="358.90" y="263.30" font-family='"Liberation Serif", serif' font-size="3.4" font-weight="normal" font-style="normal" text-anchor="middle" fill="#333" transform="rotate(-90 358.90 263.30)">Number</text>
<line x1="365.40" y1="308.10" x2="474.00" y2="308.10" stroke="#000" stroke-width="1.0"/>
<line x1="365.40" y1="308.10" x2="365.40" y2="310.10" stroke="#000" stroke-width="0.6"/>
<text x="365.40" y="314.10" font-family='"Liberation Serif", serif' font-size="4.6" font-weight="normal" font-style="normal" text-anchor="middle" fill="#333">0</text>
<line x1="387.12" y1="308.10" x2="387.12" y2="310.10" stroke="#000" stroke-width="0.6"/>
<text x="387.12" y="314.10" font-family='"Liberation Serif", serif' font-size="4.6" font-weight="normal" font-style="normal" text-anchor="middle" fill="#333">50</text>
<line x1="408.84" y1="308.10" x2="408.84" y2="310.10" stroke="#000" stroke-width="0.6"/>
<text x="408.84" y="314.10" font-family='"Liberation Serif", serif' font-size="4.6" font-weight="normal" font-style="normal" text-anchor="middle" fill="#333">100</text>
<line x1="430.56" y1="308.10" x2="430.56" y2="310.10" stroke="#000" stroke-width="0.6"/>
<text x="430.56" y="314.10" font-family='"Liberation Serif", serif' font-size="4.6" font-weight="normal" font-style="normal" text-anchor="middle" fill="#333">150</text>
<line x1="452.28" y1="308.10" x2="452.28" y2="310.10" stroke="#000" stroke-width="0.6"/>
<text x="452.28" y="314.10" font-family='"Liberation Serif", serif' font-size="4.6" font-weight="normal" font-style="normal" text-anchor="middle" fill="#333">200</text>
<line x1="474.00" y1="308.10" x2="474.00" y2="310.10" stroke="#000" stroke-width="0.6"/>
<text x="474.00" y="314.10" font-family='"Liberation Serif", serif' font-size="4.6" font-weight="normal" font-style="normal" text-anchor="middle" fill="#333">250</text>
<line x1="365.40" y1="308.10" x2="365.40" y2="309.30" stroke="#000" stroke-width="0.5"/>
<line x1="369.74" y1="308.10" x2="369.74" y2="309.30" stroke="#000" stroke-width="0.5"/>
<line x1="374.09" y1="308.10" x2="374.09" y2="309.30" stroke="#000" stroke-width="0.5"/>
<line x1="378.43" y1="308.10" x2="378.43" y2="309.30" stroke="#000" stroke-width="0.5"/>
<line x1="382.78" y1="308.10" x2="382.78" y2="309.30" stroke="#000" stroke-width="0.5"/>
<line x1="387.12" y1="308.10" x2="387.12" y2="309.30" stroke="#000" stroke-width="0.5"/>
<line x1="391.46" y1="308.10" x2="391.46" y2="309.30" stroke="#000" stroke-width="0.5"/>
<line x1="395.81" y1="308.10" x2="395.81" y2="309.30" stroke="#000" stroke-width="0.5"/>
<line x1="400.15" y1="308.10" x2="400.15" y2="309.30" stroke="#000" stroke-width="0.5"/>
<line x1="404.50" y1="308.10" x2="404.50" y2="309.30" stroke="#000" stroke-width="0.5"/>
<line x1="408.84" y1="308.10" x2="408.84" y2="309.30" stroke="#000" stroke-width="0.5"/>
<line x1="413.18" y1="308.10" x2="413.18" y2="309.30" stroke="#000" stroke-width="0.5"/>
<line x1="417.53" y1="308.10" x2="417.53" y2="309.30" stroke="#000" stroke-width="0.5"/>
<line x1="421.87" y1="308.10" x2="421.87" y2="309.30" stroke="#000" stroke-width="0.5"/>
<line x1="426.22" y1="308.10" x2="426.22" y2="309.30" stroke="#000" stroke-width="0.5"/>
<line x1="430.56" y1="308.10" x2="430.56" y2="309.30" stroke="#000" stroke-width="0.5"/>
<line x1="434.90" y1="308.10" x2="434.90" y2="309.30" stroke="#000" stroke-width="0.5"/>
<line x1="439.25" y1="308.10" x2="439.25" y2="309.30" stroke="#000" stroke-width="0.5"/>
<line x1="443.59" y1="308.10" x2="443.59" y2="309.30" stroke="#000" stroke-width="0.5"/>
<line x1="447.94" y1="308.10" x2="447.94" y2="309.30" stroke="#000" stroke-width="0.5"/>
<line x1="452.28" y1="308.10" x2="452.28" y2="309.30" stroke="#000" stroke-width="0.5"/>
<line x1="456.62" y1="308.10" x2="456.62" y2="309.30" stroke="#000" stroke-width="0.5"/>
<line x1="460.97" y1="308.10" x2="460.97" y2="309.30" stroke="#000" stroke-width="0.5"/>
<line x1="465.31" y1="308.10" x2="465.31" y2="309.30" stroke="#000" stroke-width="0.5"/>
<line x1="469.66" y1="308.10" x2="469.66" y2="309.30" stroke="#000" stroke-width="0.5"/>
<line x1="474.00" y1="308.10" x2="474.00" y2="309.30" stroke="#000" stroke-width="0.5"/>
<path d="M444.29,308.10 L444.29,307.88 L444.80,307.79 L445.30,307.66 L445.81,307.49 L446.31,307.27 L446.82,306.97 L447.32,306.59 L447.83,306.10 L448.33,305.49 L448.84,304.72 L449.34,303.78 L449.85,302.65 L450.35,301.29 L450.86,299.70 L451.36,297.85 L451.87,295.74 L452.38,293.37 L452.88,290.74 L453.39,287.89 L453.89,284.83 L454.40,281.61 L454.90,278.30 L455.41,274.96 L455.91,271.66 L456.42,268.50 L456.92,265.57 L457.43,262.93 L457.93,260.69 L458.44,258.91 L458.94,257.64 L459.45,256.94 L459.95,256.82 L460.46,257.23 L460.97,258.12 L461.47,259.48 L461.98,261.26 L462.48,263.42 L462.99,265.90 L463.49,268.62 L464.00,271.54 L464.50,274.56 L465.01,277.64 L465.51,280.71 L466.02,283.71 L466.52,286.59 L467.03,289.31 L467.53,291.86 L468.04,294.19 L468.55,296.31 L469.05,298.20 L469.56,299.87 L470.06,301.32 L470.57,302.57 L471.07,303.64 L471.58,304.53 L472.08,305.28 L472.59,305.89 L473.09,306.38 L473.60,306.78 L474.10,307.10 L474.61,307.34 L475.11,307.53 L475.62,307.68 L476.12,307.79 L476.63,307.88 L476.63,308.10 Z" fill="#383838" stroke="#1a1a1a" stroke-width="0.75"/>
<path d="M435.00,308.10 L435.00,307.93 L435.51,307.86 L436.01,307.77 L436.52,307.65 L437.02,307.49 L437.53,307.29 L438.03,307.03 L438.54,306.70 L439.05,306.28 L439.55,305.78 L440.06,305.16 L440.56,304.41 L441.07,303.52 L441.57,302.47 L442.08,301.25 L442.58,299.86 L443.09,298.28 L443.60,296.52 L444.10,294.58 L444.61,292.48 L445.11,290.23 L445.62,287.87 L446.12,285.43 L446.63,282.96 L447.14,280.50 L447.64,278.11 L448.15,275.84 L448.65,273.75 L449.16,271.90 L449.66,270.33 L450.17,269.11 L450.68,268.25 L451.18,267.78 L451.69,267.73 L452.19,268.17 L452.70,269.11 L453.20,270.49 L453.71,272.29 L454.21,274.42 L454.72,276.83 L455.23,279.42 L455.73,282.14 L456.24,284.89 L456.74,287.61 L457.25,290.23 L457.75,292.72 L458.26,295.03 L458.77,297.13 L459.27,299.00 L459.78,300.66 L460.28,302.08 L460.79,303.30 L461.29,304.32 L461.80,305.16 L462.30,305.84 L462.81,306.38 L463.32,306.81 L463.82,307.15 L464.33,307.41 L464.83,307.60 L465.34,307.74 L465.84,307.85 L466.35,307.93 L466.35,308.10 Z" fill="#8c8c8c" stroke="#1a1a1a" stroke-width="0.75"/>
<path d="M427.50,308.10 L427.50,308.04 L428.00,308.02 L428.50,307.99 L429.00,307.96 L429.50,307.91 L430.00,307.84 L430.50,307.76 L431.00,307.66 L431.50,307.53 L432.00,307.37 L432.50,307.18 L433.00,306.94 L433.50,306.67 L434.00,306.34 L434.50,305.96 L435.00,305.53 L435.50,305.04 L436.00,304.49 L436.50,303.88 L437.00,303.22 L437.50,302.52 L438.00,301.77 L438.50,301.00 L439.00,300.22 L439.50,299.43 L440.00,298.66 L440.50,297.92 L441.00,297.24 L441.50,296.63 L442.00,296.10 L442.50,295.67 L443.00,295.36 L443.50,295.16 L444.00,295.10 L444.50,295.16 L445.00,295.36 L445.50,295.67 L446.00,296.10 L446.50,296.63 L447.00,297.24 L447.50,297.92 L448.00,298.66 L448.50,299.43 L449.00,300.22 L449.50,301.00 L450.00,301.77 L450.50,302.52 L451.00,303.22 L451.50,303.88 L452.00,304.49 L452.50,305.04 L453.00,305.53 L453.50,305.96 L454.00,306.34 L454.50,306.67 L455.00,306.94 L455.50,307.18 L456.00,307.37 L456.50,307.53 L457.00,307.66 L457.50,307.76 L458.00,307.84 L458.50,307.91 L459.00,307.96 L459.50,307.99 L460.00,308.02 L460.50,308.04 L460.50,308.10 Z" fill="#b0b0b0" stroke="#1a1a1a" stroke-width="0.75"/>
<path d="M418.80,308.10 L418.80,308.07 L419.30,308.07 L419.80,308.05 L420.30,308.04 L420.80,308.01 L421.30,307.98 L421.80,307.95 L422.30,307.90 L422.80,307.85 L423.30,307.77 L423.80,307.69 L424.30,307.58 L424.80,307.46 L425.30,307.32 L425.80,307.15 L426.30,306.95 L426.80,306.73 L427.30,306.49 L427.80,306.22 L428.30,305.92 L428.80,305.61 L429.30,305.28 L429.80,304.93 L430.30,304.58 L430.80,304.23 L431.30,303.89 L431.80,303.56 L432.30,303.26 L432.80,302.98 L433.30,302.75 L433.80,302.56 L434.30,302.41 L434.80,302.33 L435.30,302.30 L435.80,302.33 L436.30,302.41 L436.80,302.56 L437.30,302.75 L437.80,302.98 L438.30,303.26 L438.80,303.56 L439.30,303.89 L439.80,304.23 L440.30,304.58 L440.80,304.93 L441.30,305.28 L441.80,305.61 L442.30,305.92 L442.80,306.22 L443.30,306.49 L443.80,306.73 L444.30,306.95 L444.80,307.15 L445.30,307.32 L445.80,307.46 L446.30,307.58 L446.80,307.69 L447.30,307.77 L447.80,307.85 L448.30,307.90 L448.80,307.95 L449.30,307.98 L449.80,308.01 L450.30,308.04 L450.80,308.05 L451.30,308.07 L451.80,308.07 L451.80,308.10 Z" fill="#d8d8d8" stroke="#1a1a1a" stroke-width="0.75"/>
<path d="M405.00,308.10 L405.37,308.08 L405.85,308.07 L406.40,308.06 L407.03,308.04 L407.71,308.01 L408.44,307.98 L409.21,307.93 L410.00,307.87 L410.80,307.80 L411.33,307.74 L411.91,307.68 L412.51,307.62 L413.13,307.55 L413.78,307.47 L414.44,307.40 L415.10,307.31 L415.76,307.22 L416.42,307.13 L417.07,307.56 L417.69,306.80 L418.29,306.06 L418.87,305.78 L419.40,305.86 L420.17,306.38 L420.88,305.98 L421.54,306.17 L422.17,306.73 L422.78,305.89 L423.37,304.55 L423.96,304.84 L424.57,305.04 L425.20,305.41 L425.85,304.31 L426.52,304.49 L427.19,303.67 L427.86,302.96 L428.53,305.35 L429.18,302.90 L429.81,303.95 L430.42,303.04 L431.00,302.95 L431.70,299.67 L432.36,299.36 L432.98,298.71 L433.58,299.39 L434.17,299.45 L434.74,297.18 L435.30,295.51 L436.08,294.77 L436.82,292.50 L437.54,292.98 L438.24,288.33 L438.90,288.90 L439.67,284.85 L440.39,286.13 L441.09,285.17 L441.80,284.45 L442.54,279.12 L443.30,276.41 L444.03,276.05 L444.70,273.29 L445.48,271.94 L446.17,269.41 L446.80,266.22 L447.54,266.00 L448.30,259.53 L448.99,253.83 L449.75,250.72 L450.50,245.06 L451.20,243.45 L451.90,241.13 L452.60,239.36 L453.34,243.67 L454.09,233.46 L454.80,233.79 L455.43,226.37 L456.01,226.28 L456.60,225.55 L457.48,229.86 L458.40,234.75 L459.13,243.32 L459.91,245.52 L460.60,240.30 L461.30,246.78 L462.00,253.75 L462.65,257.25 L463.39,261.55 L464.20,257.48 L464.86,268.69 L465.56,274.83 L466.28,281.17 L467.00,288.80 L467.68,288.21 L468.35,290.13 L469.07,294.49 L469.90,298.38 L470.49,300.76 L471.18,302.49 L471.91,302.02 L472.64,303.29 L473.32,304.60 L473.89,302.57 L474.30,305.32" fill="none" stroke="#000" stroke-width="1.45" stroke-linejoin="round"/>
<text x="130.80" y="109.60" font-family='"Liberation Serif", serif' font-size="6.85" font-weight="normal" font-style="normal" text-anchor="start" fill="#000">Channels (FL1-H-PKH FITC)</text>
<text x="259.60" y="109.60" font-family='"Liberation Serif", serif' font-size="6.85" font-weight="normal" font-style="normal" text-anchor="start" fill="#000">Channels (FL1-H-PKH FITC)</text>
<text x="392.00" y="109.60" font-family='"Liberation Serif", serif' font-size="6.85" font-weight="normal" font-style="normal" text-anchor="start" fill="#000">Channels (FL1-H-PKH FITC)</text>
<text x="130.20" y="214.40" font-family='"Liberation Serif", serif' font-size="6.85" font-weight="normal" font-style="normal" text-anchor="start" fill="#000">Channels (FL1-H-PKH FITC)</text>
<text x="258.50" y="214.40" font-family='"Liberation Serif", serif' font-size="6.85" font-weight="normal" font-style="normal" text-anchor="start" fill="#000">Channels (FL1-H-PKH FITC)</text>
<text x="390.50" y="214.00" font-family='"Liberation Serif", serif' font-size="6.85" font-weight="normal" font-style="normal" text-anchor="start" fill="#000">Channels (FL1-H-PKH FITC)</text>
<text x="127.00" y="321.50" font-family='"Liberation Serif", serif' font-size="6.85" font-weight="normal" font-style="normal" text-anchor="start" fill="#000">Channels (FL1-H-PKH FITC)</text>
<text x="259.60" y="321.50" font-family='"Liberation Serif", serif' font-size="6.85" font-weight="normal" font-style="normal" text-anchor="start" fill="#000">Channels (FL1-H-PKH FITC)</text>
<text x="387.70" y="322.60" font-family='"Liberation Serif", serif' font-size="6.85" font-weight="normal" font-style="normal" text-anchor="start" fill="#000">Channels (FL1-H-PKH FITC)</text>
<text x="0.00" y="347.20" font-family='"Liberation Sans", sans-serif' font-size="15.5" font-weight="bold" font-style="normal" text-anchor="start" fill="#000">B</text>
<path d="M86.2,362.6 C86.5,357 91,355.5 97.5,355.5 L168.5,355.5 C172.5,355.5 174.6,353.5 175,350 C175.4,353.5 177.5,355.5 181.5,355.5 L250,355.5 C257,355.5 263.5,358 264.3,362.6" fill="none" stroke="#333" stroke-width="1.3"/>
<path d="M79.8,393.8 C80.3,388.5 85,386.8 91.3,386.8 L143,386.8 C147,386.8 149.1,384.5 149.5,380.5 C149.9,384.5 152,386.8 156,386.8 L208,386.8 C215,386.8 219.5,389 219.9,393.7" fill="none" stroke="#333" stroke-width="1.3"/>
<text x="157.6" y="342.7" font-family='"Liberation Sans", sans-serif' font-size="9.9" fill="#222" textLength="32" lengthAdjust="spacingAndGlyphs"><tspan font-style="italic">P</tspan> = .001</text>
<text x="132.1" y="376.1" font-family='"Liberation Sans", sans-serif' font-size="9.9" fill="#222" textLength="32.5" lengthAdjust="spacingAndGlyphs"><tspan font-style="italic">P</tspan> = .001</text>
<text x="8.20" y="443.30" font-family='"Liberation Serif", serif' font-size="11.1" font-weight="normal" font-style="normal" text-anchor="middle" fill="#222" transform="rotate(-90 8.20 443.30)">% of resting T cells</text>
<line x1="46.30" y1="387.30" x2="46.30" y2="546.80" stroke="#555" stroke-width="1.0"/>
<line x1="46.30" y1="511.00" x2="46.30" y2="546.80" stroke="#111" stroke-width="1.2"/>
<line x1="45.80" y1="547.00" x2="275.00" y2="549.60" stroke="#333" stroke-width="1.1"/>
<line x1="43.40" y1="540.20" x2="46.30" y2="540.20" stroke="#333" stroke-width="0.9"/>
<text x="35.00" y="543.10" font-family='"Liberation Sans", sans-serif' font-size="6.5" font-weight="bold" font-style="normal" text-anchor="end" fill="#222">0,00</text>
<line x1="43.40" y1="503.95" x2="46.30" y2="503.95" stroke="#333" stroke-width="0.9"/>
<text x="35.00" y="506.85" font-family='"Liberation Sans", sans-serif' font-size="6.5" font-weight="bold" font-style="normal" text-anchor="end" fill="#222">20,00</text>
<line x1="43.40" y1="467.70" x2="46.30" y2="467.70" stroke="#333" stroke-width="0.9"/>
<text x="35.00" y="470.60" font-family='"Liberation Sans", sans-serif' font-size="6.5" font-weight="bold" font-style="normal" text-anchor="end" fill="#222">40,00</text>
<line x1="43.40" y1="431.45" x2="46.30" y2="431.45" stroke="#333" stroke-width="0.9"/>
<text x="35.00" y="434.35" font-family='"Liberation Sans", sans-serif' font-size="6.5" font-weight="bold" font-style="normal" text-anchor="end" fill="#222">60,00</text>
<line x1="43.40" y1="395.20" x2="46.30" y2="395.20" stroke="#333" stroke-width="0.9"/>
<text x="35.00" y="398.10" font-family='"Liberation Sans", sans-serif' font-size="6.5" font-weight="bold" font-style="normal" text-anchor="end" fill="#222">80,00</text>
<line x1="74.60" y1="498.60" x2="74.60" y2="517.40" stroke="#444" stroke-width="0.9"/>
<line x1="74.60" y1="531.00" x2="74.60" y2="533.80" stroke="#444" stroke-width="0.9"/>
<line x1="73.60" y1="498.60" x2="75.60" y2="498.60" stroke="#333" stroke-width="1.0"/>
<line x1="73.60" y1="533.80" x2="75.60" y2="533.80" stroke="#333" stroke-width="1.0"/>
<rect x="70.20" y="517.40" width="8.80" height="13.60" fill="#ffffff" stroke="#222" stroke-width="0.9"/>
<line x1="70.20" y1="526.00" x2="79.00" y2="526.00" stroke="#000" stroke-width="1.5"/>
<line x1="109.30" y1="531.40" x2="109.30" y2="506.70" stroke="#444" stroke-width="0.9"/>
<line x1="109.30" y1="531.40" x2="109.30" y2="532.20" stroke="#444" stroke-width="0.9"/>
<line x1="108.30" y1="531.40" x2="110.30" y2="531.40" stroke="#333" stroke-width="1.0"/>
<line x1="108.30" y1="532.20" x2="110.30" y2="532.20" stroke="#333" stroke-width="1.0"/>
<rect x="105.00" y="506.70" width="8.60" height="24.70" fill="#d4d4d4" stroke="#222" stroke-width="0.9"/>
<line x1="105.00" y1="519.50" x2="113.60" y2="519.50" stroke="#000" stroke-width="1.5"/>
<line x1="143.00" y1="476.60" x2="143.00" y2="502.50" stroke="#444" stroke-width="0.9"/>
<line x1="143.00" y1="533.60" x2="143.00" y2="536.00" stroke="#444" stroke-width="0.9"/>
<line x1="142.00" y1="476.60" x2="144.00" y2="476.60" stroke="#333" stroke-width="1.0"/>
<line x1="142.00" y1="536.00" x2="144.00" y2="536.00" stroke="#333" stroke-width="1.0"/>
<rect x="138.30" y="502.50" width="9.40" height="31.10" fill="#a8a8a8" stroke="#222" stroke-width="0.9"/>
<line x1="138.30" y1="521.00" x2="147.70" y2="521.00" stroke="#000" stroke-width="1.5"/>
<line x1="176.80" y1="466.10" x2="176.80" y2="481.70" stroke="#444" stroke-width="0.9"/>
<line x1="176.80" y1="528.70" x2="176.80" y2="536.90" stroke="#444" stroke-width="0.9"/>
<line x1="175.80" y1="466.10" x2="177.80" y2="466.10" stroke="#333" stroke-width="1.0"/>
<line x1="175.80" y1="536.90" x2="177.80" y2="536.90" stroke="#333" stroke-width="1.0"/>
<rect x="172.10" y="481.70" width="9.40" height="47.00" fill="#8c8c8c" stroke="#222" stroke-width="0.9"/>
<line x1="172.10" y1="520.80" x2="181.50" y2="520.80" stroke="#000" stroke-width="1.5"/>
<line x1="211.20" y1="423.30" x2="211.20" y2="460.10" stroke="#444" stroke-width="0.9"/>
<line x1="211.20" y1="503.40" x2="211.20" y2="529.00" stroke="#444" stroke-width="0.9"/>
<line x1="210.20" y1="423.30" x2="212.20" y2="423.30" stroke="#333" stroke-width="1.0"/>
<line x1="210.20" y1="529.00" x2="212.20" y2="529.00" stroke="#333" stroke-width="1.0"/>
<rect x="206.60" y="460.10" width="9.20" height="43.30" fill="#444444" stroke="#222" stroke-width="0.9"/>
<line x1="206.60" y1="499.70" x2="215.80" y2="499.70" stroke="#000" stroke-width="1.5"/>
<line x1="245.00" y1="395.70" x2="245.00" y2="411.00" stroke="#444" stroke-width="0.9"/>
<line x1="245.00" y1="469.50" x2="245.00" y2="477.30" stroke="#444" stroke-width="0.9"/>
<line x1="244.00" y1="395.70" x2="246.00" y2="395.70" stroke="#333" stroke-width="1.0"/>
<line x1="244.00" y1="477.30" x2="246.00" y2="477.30" stroke="#333" stroke-width="1.0"/>
<rect x="240.40" y="411.00" width="9.20" height="58.50" fill="#383838" stroke="#222" stroke-width="0.9"/>
<line x1="240.40" y1="443.40" x2="249.60" y2="443.40" stroke="#000" stroke-width="1.5"/>
<circle cx="108.7" cy="454.3" r="1.3" fill="none" stroke="#222" stroke-width="0.8"/>
<line x1="74.60" y1="547.52" x2="74.60" y2="549.72" stroke="#333" stroke-width="1.0"/>
<text x="74.60" y="558.60" font-family='"Liberation Sans", sans-serif' font-size="6.4" font-weight="bold" font-style="normal" text-anchor="middle" fill="#222">0</text>
<line x1="108.90" y1="547.91" x2="108.90" y2="550.11" stroke="#333" stroke-width="1.0"/>
<text x="108.90" y="558.60" font-family='"Liberation Sans", sans-serif' font-size="6.4" font-weight="bold" font-style="normal" text-anchor="middle" fill="#222">1</text>
<line x1="142.90" y1="548.30" x2="142.90" y2="550.50" stroke="#333" stroke-width="1.0"/>
<text x="142.90" y="558.60" font-family='"Liberation Sans", sans-serif' font-size="6.4" font-weight="bold" font-style="normal" text-anchor="middle" fill="#222">10</text>
<line x1="176.90" y1="548.69" x2="176.90" y2="550.89" stroke="#333" stroke-width="1.0"/>
<text x="176.90" y="558.60" font-family='"Liberation Sans", sans-serif' font-size="6.4" font-weight="bold" font-style="normal" text-anchor="middle" fill="#222">100</text>
<line x1="210.80" y1="549.07" x2="210.80" y2="551.27" stroke="#333" stroke-width="1.0"/>
<text x="210.80" y="558.60" font-family='"Liberation Sans", sans-serif' font-size="6.4" font-weight="bold" font-style="normal" text-anchor="middle" fill="#222">1000</text>
<line x1="244.90" y1="549.46" x2="244.90" y2="551.66" stroke="#333" stroke-width="1.0"/>
<text x="244.90" y="558.60" font-family='"Liberation Sans", sans-serif' font-size="6.4" font-weight="bold" font-style="normal" text-anchor="middle" fill="#222">10000</text>
<text x="105.20" y="573.40" font-family='"Liberation Serif", serif' font-size="9.1" font-weight="normal" font-style="normal" text-anchor="start" fill="#222">Concentration of 5-azaC (nM)</text>
<text x="0.00" y="601.20" font-family='"Liberation Sans", sans-serif' font-size="15.5" font-weight="bold" font-style="normal" text-anchor="start" fill="#000">C</text>
<text x="24.60" y="609.30" font-family='"Liberation Sans", sans-serif' font-size="10" font-weight="bold" font-style="normal" text-anchor="start" fill="#000">i</text>
<text x="295.60" y="613.60" font-family='"Liberation Sans", sans-serif' font-size="10" font-weight="bold" font-style="normal" text-anchor="start" fill="#000">ii</text>
<line x1="18.75" y1="635.00" x2="18.75" y2="838.50" stroke="#000" stroke-width="1.3"/>
<line x1="18.75" y1="838.00" x2="247.50" y2="838.00" stroke="#000" stroke-width="1.4"/>
<line x1="12.75" y1="838.00" x2="18.75" y2="838.00" stroke="#000" stroke-width="0.8"/>
<line x1="15.85" y1="829.57" x2="18.75" y2="829.57" stroke="#000" stroke-width="1.0"/>
<line x1="15.85" y1="821.14" x2="18.75" y2="821.14" stroke="#000" stroke-width="1.0"/>
<line x1="15.85" y1="812.71" x2="18.75" y2="812.71" stroke="#000" stroke-width="1.0"/>
<line x1="15.85" y1="804.28" x2="18.75" y2="804.28" stroke="#000" stroke-width="1.0"/>
<line x1="12.75" y1="795.85" x2="18.75" y2="795.85" stroke="#000" stroke-width="0.8"/>
<line x1="15.85" y1="787.42" x2="18.75" y2="787.42" stroke="#000" stroke-width="1.0"/>
<line x1="15.85" y1="778.99" x2="18.75" y2="778.99" stroke="#000" stroke-width="1.0"/>
<line x1="15.85" y1="770.56" x2="18.75" y2="770.56" stroke="#000" stroke-width="1.0"/>
<line x1="15.85" y1="762.13" x2="18.75" y2="762.13" stroke="#000" stroke-width="1.0"/>
<line x1="12.75" y1="753.70" x2="18.75" y2="753.70" stroke="#000" stroke-width="0.8"/>
<line x1="15.85" y1="745.27" x2="18.75" y2="745.27" stroke="#000" stroke-width="1.0"/>
<line x1="15.85" y1="736.84" x2="18.75" y2="736.84" stroke="#000" stroke-width="1.0"/>
<line x1="15.85" y1="728.41" x2="18.75" y2="728.41" stroke="#000" stroke-width="1.0"/>
<line x1="15.85" y1="719.98" x2="18.75" y2="719.98" stroke="#000" stroke-width="1.0"/>
<line x1="12.75" y1="711.55" x2="18.75" y2="711.55" stroke="#000" stroke-width="0.8"/>
<line x1="15.85" y1="703.12" x2="18.75" y2="703.12" stroke="#000" stroke-width="1.0"/>
<line x1="15.85" y1="694.69" x2="18.75" y2="694.69" stroke="#000" stroke-width="1.0"/>
<line x1="15.85" y1="686.26" x2="18.75" y2="686.26" stroke="#000" stroke-width="1.0"/>
<line x1="15.85" y1="677.83" x2="18.75" y2="677.83" stroke="#000" stroke-width="1.0"/>
<line x1="12.75" y1="669.40" x2="18.75" y2="669.40" stroke="#000" stroke-width="0.8"/>
<line x1="15.85" y1="660.97" x2="18.75" y2="660.97" stroke="#000" stroke-width="1.0"/>
<line x1="15.85" y1="652.54" x2="18.75" y2="652.54" stroke="#000" stroke-width="1.0"/>
<line x1="15.85" y1="644.11" x2="18.75" y2="644.11" stroke="#000" stroke-width="1.0"/>
<line x1="15.85" y1="635.68" x2="18.75" y2="635.68" stroke="#000" stroke-width="1.0"/>
<text x="13.05" y="838.00" font-family='"Liberation Sans", sans-serif' font-size="6.9" font-weight="normal" font-style="normal" text-anchor="middle" fill="#222" transform="rotate(-90 13.05 838.00)">0</text>
<text x="13.05" y="795.85" font-family='"Liberation Sans", sans-serif' font-size="6.9" font-weight="normal" font-style="normal" text-anchor="middle" fill="#222" transform="rotate(-90 13.05 795.85)">500</text>
<text x="13.05" y="753.70" font-family='"Liberation Sans", sans-serif' font-size="6.9" font-weight="normal" font-style="normal" text-anchor="middle" fill="#222" transform="rotate(-90 13.05 753.70)">1000</text>
<text x="13.05" y="711.55" font-family='"Liberation Sans", sans-serif' font-size="6.9" font-weight="normal" font-style="normal" text-anchor="middle" fill="#222" transform="rotate(-90 13.05 711.55)">1500</text>
<text x="13.05" y="669.40" font-family='"Liberation Sans", sans-serif' font-size="6.9" font-weight="normal" font-style="normal" text-anchor="middle" fill="#222" transform="rotate(-90 13.05 669.40)">2000</text>
<text x="6.10" y="736.20" font-family='"Liberation Sans", sans-serif' font-size="8.4" font-weight="normal" font-style="normal" text-anchor="middle" fill="#111" transform="rotate(-90 6.10 736.20)">Number</text>
<line x1="18.60" y1="838.00" x2="18.60" y2="841.60" stroke="#000" stroke-width="0.8"/>
<line x1="28.83" y1="838.00" x2="28.83" y2="840.00" stroke="#000" stroke-width="0.8"/>
<line x1="39.06" y1="838.00" x2="39.06" y2="840.00" stroke="#000" stroke-width="0.8"/>
<line x1="49.30" y1="838.00" x2="49.30" y2="840.00" stroke="#000" stroke-width="0.8"/>
<line x1="59.53" y1="838.00" x2="59.53" y2="840.00" stroke="#000" stroke-width="0.8"/>
<line x1="69.76" y1="838.00" x2="69.76" y2="841.60" stroke="#000" stroke-width="0.8"/>
<line x1="79.99" y1="838.00" x2="79.99" y2="840.00" stroke="#000" stroke-width="0.8"/>
<line x1="90.22" y1="838.00" x2="90.22" y2="840.00" stroke="#000" stroke-width="0.8"/>
<line x1="100.46" y1="838.00" x2="100.46" y2="840.00" stroke="#000" stroke-width="0.8"/>
<line x1="110.69" y1="838.00" x2="110.69" y2="840.00" stroke="#000" stroke-width="0.8"/>
<line x1="120.92" y1="838.00" x2="120.92" y2="841.60" stroke="#000" stroke-width="0.8"/>
<line x1="131.15" y1="838.00" x2="131.15" y2="840.00" stroke="#000" stroke-width="0.8"/>
<line x1="141.38" y1="838.00" x2="141.38" y2="840.00" stroke="#000" stroke-width="0.8"/>
<line x1="151.62" y1="838.00" x2="151.62" y2="840.00" stroke="#000" stroke-width="0.8"/>
<line x1="161.85" y1="838.00" x2="161.85" y2="840.00" stroke="#000" stroke-width="0.8"/>
<line x1="172.08" y1="838.00" x2="172.08" y2="841.60" stroke="#000" stroke-width="0.8"/>
<line x1="182.31" y1="838.00" x2="182.31" y2="840.00" stroke="#000" stroke-width="0.8"/>
<line x1="192.54" y1="838.00" x2="192.54" y2="840.00" stroke="#000" stroke-width="0.8"/>
<line x1="202.78" y1="838.00" x2="202.78" y2="840.00" stroke="#000" stroke-width="0.8"/>
<line x1="213.01" y1="838.00" x2="213.01" y2="840.00" stroke="#000" stroke-width="0.8"/>
<line x1="223.24" y1="838.00" x2="223.24" y2="841.60" stroke="#000" stroke-width="0.8"/>
<line x1="233.47" y1="838.00" x2="233.47" y2="840.00" stroke="#000" stroke-width="0.8"/>
<line x1="243.70" y1="838.00" x2="243.70" y2="840.00" stroke="#000" stroke-width="0.8"/>
<text x="18.60" y="850.30" font-family='"Liberation Sans", sans-serif' font-size="6.8" font-weight="normal" font-style="normal" text-anchor="middle" fill="#222">0</text>
<text x="69.76" y="850.30" font-family='"Liberation Sans", sans-serif' font-size="6.8" font-weight="normal" font-style="normal" text-anchor="middle" fill="#222">40</text>
<text x="120.92" y="850.30" font-family='"Liberation Sans", sans-serif' font-size="6.8" font-weight="normal" font-style="normal" text-anchor="middle" fill="#222">80</text>
<text x="172.08" y="850.30" font-family='"Liberation Sans", sans-serif' font-size="6.8" font-weight="normal" font-style="normal" text-anchor="middle" fill="#222">120</text>
<text x="223.24" y="850.30" font-family='"Liberation Sans", sans-serif' font-size="6.8" font-weight="normal" font-style="normal" text-anchor="middle" fill="#222">160</text>
<text x="73.60" y="858.20" font-family='"Liberation Sans", sans-serif' font-size="8.0" font-weight="normal" font-style="normal" text-anchor="start" fill="#222">Channels (FL2-A-FL2-Area&#160; )</text>
<path d="M111.2,838 L120.6,826.3 L202.3,826.3 L217.8,836.9 L220,838 Z" fill="url(#hatch)" stroke="#000" stroke-width="0.9"/>
<path d="M103.23,837.97 L103.53,837.96 L103.83,837.94 L104.13,837.90 L104.43,837.85 L104.73,837.78 L105.03,837.68 L105.32,837.54 L105.62,837.34 L105.92,837.07 L106.22,836.70 L106.52,836.20 L106.82,835.53 L107.12,834.66 L107.42,833.52 L107.72,832.07 L108.02,830.23 L108.32,827.93 L108.62,825.09 L108.92,821.64 L109.22,817.49 L109.51,812.57 L109.81,806.82 L110.11,800.19 L110.41,792.64 L110.71,784.19 L111.01,774.86 L111.31,764.73 L111.61,753.91 L111.91,742.54 L112.21,730.82 L112.51,718.99 L112.81,707.29 L113.11,696.03 L113.40,685.48 L113.70,675.95 L114.00,667.70 L114.30,661.00 L114.60,656.06 L114.90,653.02 L115.20,652.00 L115.50,653.02 L115.80,656.06 L116.10,661.00 L116.40,667.70 L116.70,675.95 L117.00,685.48 L117.29,696.03 L117.59,707.29 L117.89,718.99 L118.19,730.82 L118.49,742.54 L118.79,753.91 L119.09,764.73 L119.39,774.86 L119.69,784.19 L119.99,792.64 L120.29,800.19 L120.59,806.82 L120.89,812.57 L121.19,817.49 L121.48,821.64 L121.78,825.09 L122.08,827.93 L122.38,830.23 L122.68,832.07 L122.98,833.52 L123.28,834.66 L123.58,835.53 L123.88,836.20 L124.18,836.70 L124.48,837.07 L124.78,837.34 L125.08,837.54 L125.37,837.68 L125.67,837.78 L125.97,837.85 L126.27,837.90 L126.57,837.94 L126.87,837.96 L127.17,837.97 Z" fill="#333" stroke="#000" stroke-width="0.8"/>
<path d="M111.2,838 L120.6,826.3 L202.3,826.3 L217.8,836.9 L220,838 Z" fill="url(#hatch)" stroke="#000" stroke-width="0.9"/>
<path d="M103.8,838 C105.5,836.8 106.8,834.5 107.8,831" fill="none" stroke="#000" stroke-width="0.8"/>
<path d="M120.2,800 C120.9,810 122.4,820 124.2,824.6 C125,825.7 126.3,825.9 128,825.9 L150,825.9" fill="none" stroke="#000" stroke-width="1.1"/>
<path d="M150.00,825.40 L152.50,822.20 L154.00,824.60 L155.50,822.80 L157.00,824.20 L159.80,820.50 L161.50,822.50 L163.00,821.60 L165.00,820.80 L166.50,822.60 L168.00,819.50 L169.60,818.00 L171.00,820.50 L172.50,822.20 L174.50,821.20 L176.50,821.80 L178.60,820.50 L180.50,823.20 L182.50,824.20 L184.30,825.40 L186.00,823.80 L187.50,824.50 L189.00,825.20 L191.00,824.30 L194.10,824.60 L199.00,824.60 L202.00,825.20 L204.00,824.60 L206.40,823.80 L209.60,823.00 L212.10,827.00 L215.00,830.50 L218.60,835.20 L221.00,836.80 L223.50,837.70 L226.80,838.20" fill="none" stroke="#000" stroke-width="1.1" stroke-linejoin="round"/>
<path d="M203.5,825.6 C208,828 214,833 221.5,837.7" fill="none" stroke="#000" stroke-width="0.9"/>
<path d="M103.00,639.80 L103.00,634.80 L131.80,634.80 L131.80,639.80" fill="none" stroke="#000" stroke-width="1.9" stroke-linejoin="miter"/>
<path d="M140.60,773.40 L140.60,769.20 L193.80,769.20 L193.80,773.40" fill="none" stroke="#000" stroke-width="1.9" stroke-linejoin="miter"/>
<path d="M207.00,773.40 L207.00,769.20 L237.00,769.20 L237.00,773.40" fill="none" stroke="#000" stroke-width="1.9" stroke-linejoin="miter"/>
<text x="112.2" y="609.2" font-family='"Liberation Serif", serif' font-size="10.2" font-weight="bold" font-style="italic" fill="#111">G<tspan font-size="6.5" dy="1.8">0</tspan><tspan dy="-1.8">G</tspan><tspan font-size="6.5" dy="1.8">1</tspan></text>
<text x="109.70" y="628.30" font-family='"Liberation Serif", serif' font-size="9.7" font-weight="normal" font-style="normal" text-anchor="start" fill="#222">(59%)</text>
<text x="164.00" y="748.00" font-family='"Liberation Serif", serif' font-size="10.5" font-weight="bold" font-style="italic" text-anchor="start" fill="#111">S</text>
<text x="154.80" y="760.40" font-family='"Liberation Serif", serif' font-size="9.7" font-weight="normal" font-style="normal" text-anchor="start" fill="#222">(37%)</text>
<text x="213" y="748.0" font-family='"Liberation Serif", serif' font-size="10.5" font-weight="bold" font-style="italic" fill="#111">G<tspan font-size="6.5" dy="1.8">2</tspan><tspan dy="-1.8">M</tspan></text>
<text x="208.00" y="760.40" font-family='"Liberation Serif", serif' font-size="9.7" font-weight="normal" font-style="normal" text-anchor="start" fill="#222">(3,3 %)</text>
<line x1="285.00" y1="633.80" x2="285.00" y2="837.00" stroke="#000" stroke-width="1.3"/>
<line x1="285.00" y1="836.50" x2="515.50" y2="836.50" stroke="#000" stroke-width="1.4"/>
<line x1="279.00" y1="836.50" x2="286.00" y2="836.50" stroke="#000" stroke-width="0.8"/>
<line x1="282.00" y1="829.76" x2="285.00" y2="829.76" stroke="#000" stroke-width="1.0"/>
<line x1="282.00" y1="823.02" x2="285.00" y2="823.02" stroke="#000" stroke-width="1.0"/>
<line x1="282.00" y1="816.28" x2="285.00" y2="816.28" stroke="#000" stroke-width="1.0"/>
<line x1="282.00" y1="809.54" x2="285.00" y2="809.54" stroke="#000" stroke-width="1.0"/>
<line x1="279.00" y1="802.80" x2="286.00" y2="802.80" stroke="#000" stroke-width="0.8"/>
<line x1="282.00" y1="796.06" x2="285.00" y2="796.06" stroke="#000" stroke-width="1.0"/>
<line x1="282.00" y1="789.32" x2="285.00" y2="789.32" stroke="#000" stroke-width="1.0"/>
<line x1="282.00" y1="782.58" x2="285.00" y2="782.58" stroke="#000" stroke-width="1.0"/>
<line x1="282.00" y1="775.84" x2="285.00" y2="775.84" stroke="#000" stroke-width="1.0"/>
<line x1="279.00" y1="769.10" x2="286.00" y2="769.10" stroke="#000" stroke-width="0.8"/>
<line x1="282.00" y1="762.36" x2="285.00" y2="762.36" stroke="#000" stroke-width="1.0"/>
<line x1="282.00" y1="755.62" x2="285.00" y2="755.62" stroke="#000" stroke-width="1.0"/>
<line x1="282.00" y1="748.88" x2="285.00" y2="748.88" stroke="#000" stroke-width="1.0"/>
<line x1="282.00" y1="742.14" x2="285.00" y2="742.14" stroke="#000" stroke-width="1.0"/>
<line x1="279.00" y1="735.40" x2="286.00" y2="735.40" stroke="#000" stroke-width="0.8"/>
<line x1="282.00" y1="728.66" x2="285.00" y2="728.66" stroke="#000" stroke-width="1.0"/>
<line x1="282.00" y1="721.92" x2="285.00" y2="721.92" stroke="#000" stroke-width="1.0"/>
<line x1="282.00" y1="715.18" x2="285.00" y2="715.18" stroke="#000" stroke-width="1.0"/>
<line x1="282.00" y1="708.44" x2="285.00" y2="708.44" stroke="#000" stroke-width="1.0"/>
<line x1="279.00" y1="701.70" x2="286.00" y2="701.70" stroke="#000" stroke-width="0.8"/>
<line x1="282.00" y1="694.96" x2="285.00" y2="694.96" stroke="#000" stroke-width="1.0"/>
<line x1="282.00" y1="688.22" x2="285.00" y2="688.22" stroke="#000" stroke-width="1.0"/>
<line x1="282.00" y1="681.48" x2="285.00" y2="681.48" stroke="#000" stroke-width="1.0"/>
<line x1="282.00" y1="674.74" x2="285.00" y2="674.74" stroke="#000" stroke-width="1.0"/>
<line x1="279.00" y1="668.00" x2="286.00" y2="668.00" stroke="#000" stroke-width="0.8"/>
<line x1="282.00" y1="661.26" x2="285.00" y2="661.26" stroke="#000" stroke-width="1.0"/>
<line x1="282.00" y1="654.52" x2="285.00" y2="654.52" stroke="#000" stroke-width="1.0"/>
<line x1="282.00" y1="647.78" x2="285.00" y2="647.78" stroke="#000" stroke-width="1.0"/>
<line x1="282.00" y1="641.04" x2="285.00" y2="641.04" stroke="#000" stroke-width="1.0"/>
<line x1="279.00" y1="634.30" x2="286.00" y2="634.30" stroke="#000" stroke-width="0.8"/>
<text x="279.30" y="836.50" font-family='"Liberation Sans", sans-serif' font-size="6.7" font-weight="normal" font-style="normal" text-anchor="middle" fill="#222" transform="rotate(-90 279.30 836.50)">0</text>
<text x="279.30" y="802.80" font-family='"Liberation Sans", sans-serif' font-size="6.7" font-weight="normal" font-style="normal" text-anchor="middle" fill="#222" transform="rotate(-90 279.30 802.80)">1000</text>
<text x="279.30" y="769.10" font-family='"Liberation Sans", sans-serif' font-size="6.7" font-weight="normal" font-style="normal" text-anchor="middle" fill="#222" transform="rotate(-90 279.30 769.10)">2000</text>
<text x="279.30" y="735.40" font-family='"Liberation Sans", sans-serif' font-size="6.7" font-weight="normal" font-style="normal" text-anchor="middle" fill="#222" transform="rotate(-90 279.30 735.40)">3000</text>
<text x="279.30" y="701.70" font-family='"Liberation Sans", sans-serif' font-size="6.7" font-weight="normal" font-style="normal" text-anchor="middle" fill="#222" transform="rotate(-90 279.30 701.70)">4000</text>
<text x="279.30" y="668.00" font-family='"Liberation Sans", sans-serif' font-size="6.7" font-weight="normal" font-style="normal" text-anchor="middle" fill="#222" transform="rotate(-90 279.30 668.00)">5000</text>
<text x="273.30" y="735.20" font-family='"Liberation Sans", sans-serif' font-size="8.4" font-weight="normal" font-style="normal" text-anchor="middle" fill="#111" transform="rotate(-90 273.30 735.20)">Number</text>
<line x1="285.00" y1="836.50" x2="285.00" y2="840.10" stroke="#000" stroke-width="0.8"/>
<line x1="294.20" y1="836.50" x2="294.20" y2="838.50" stroke="#000" stroke-width="0.8"/>
<line x1="303.40" y1="836.50" x2="303.40" y2="838.50" stroke="#000" stroke-width="0.8"/>
<line x1="312.60" y1="836.50" x2="312.60" y2="838.50" stroke="#000" stroke-width="0.8"/>
<line x1="321.80" y1="836.50" x2="321.80" y2="838.50" stroke="#000" stroke-width="0.8"/>
<line x1="331.00" y1="836.50" x2="331.00" y2="840.10" stroke="#000" stroke-width="0.8"/>
<line x1="340.20" y1="836.50" x2="340.20" y2="838.50" stroke="#000" stroke-width="0.8"/>
<line x1="349.40" y1="836.50" x2="349.40" y2="838.50" stroke="#000" stroke-width="0.8"/>
<line x1="358.60" y1="836.50" x2="358.60" y2="838.50" stroke="#000" stroke-width="0.8"/>
<line x1="367.80" y1="836.50" x2="367.80" y2="838.50" stroke="#000" stroke-width="0.8"/>
<line x1="377.00" y1="836.50" x2="377.00" y2="840.10" stroke="#000" stroke-width="0.8"/>
<line x1="386.20" y1="836.50" x2="386.20" y2="838.50" stroke="#000" stroke-width="0.8"/>
<line x1="395.40" y1="836.50" x2="395.40" y2="838.50" stroke="#000" stroke-width="0.8"/>
<line x1="404.60" y1="836.50" x2="404.60" y2="838.50" stroke="#000" stroke-width="0.8"/>
<line x1="413.80" y1="836.50" x2="413.80" y2="838.50" stroke="#000" stroke-width="0.8"/>
<line x1="423.00" y1="836.50" x2="423.00" y2="840.10" stroke="#000" stroke-width="0.8"/>
<line x1="432.20" y1="836.50" x2="432.20" y2="838.50" stroke="#000" stroke-width="0.8"/>
<line x1="441.40" y1="836.50" x2="441.40" y2="838.50" stroke="#000" stroke-width="0.8"/>
<line x1="450.60" y1="836.50" x2="450.60" y2="838.50" stroke="#000" stroke-width="0.8"/>
<line x1="459.80" y1="836.50" x2="459.80" y2="838.50" stroke="#000" stroke-width="0.8"/>
<line x1="469.00" y1="836.50" x2="469.00" y2="840.10" stroke="#000" stroke-width="0.8"/>
<line x1="478.20" y1="836.50" x2="478.20" y2="838.50" stroke="#000" stroke-width="0.8"/>
<line x1="487.40" y1="836.50" x2="487.40" y2="838.50" stroke="#000" stroke-width="0.8"/>
<line x1="496.60" y1="836.50" x2="496.60" y2="838.50" stroke="#000" stroke-width="0.8"/>
<line x1="505.80" y1="836.50" x2="505.80" y2="838.50" stroke="#000" stroke-width="0.8"/>
<line x1="515.00" y1="836.50" x2="515.00" y2="840.10" stroke="#000" stroke-width="0.8"/>
<text x="285.00" y="848.90" font-family='"Liberation Sans", sans-serif' font-size="6.8" font-weight="normal" font-style="normal" text-anchor="middle" fill="#222">0</text>
<text x="331.00" y="848.90" font-family='"Liberation Sans", sans-serif' font-size="6.8" font-weight="normal" font-style="normal" text-anchor="middle" fill="#222">30</text>
<text x="377.00" y="848.90" font-family='"Liberation Sans", sans-serif' font-size="6.8" font-weight="normal" font-style="normal" text-anchor="middle" fill="#222">60</text>
<text x="423.00" y="848.90" font-family='"Liberation Sans", sans-serif' font-size="6.8" font-weight="normal" font-style="normal" text-anchor="middle" fill="#222">90</text>
<text x="469.00" y="848.90" font-family='"Liberation Sans", sans-serif' font-size="6.8" font-weight="normal" font-style="normal" text-anchor="middle" fill="#222">120</text>
<text x="515.00" y="848.90" font-family='"Liberation Sans", sans-serif' font-size="6.8" font-weight="normal" font-style="normal" text-anchor="middle" fill="#222">150</text>
<text x="340.20" y="857.00" font-family='"Liberation Sans", sans-serif' font-size="8.0" font-weight="normal" font-style="normal" text-anchor="start" fill="#222">Channels (FL2-A-FL2-Area&#160; )</text>
<path d="M378.25,836.47 L378.54,836.46 L378.83,836.44 L379.12,836.40 L379.40,836.35 L379.69,836.28 L379.98,836.18 L380.27,836.04 L380.56,835.84 L380.85,835.57 L381.14,835.20 L381.43,834.70 L381.71,834.03 L382.00,833.16 L382.29,832.03 L382.58,830.58 L382.87,828.74 L383.16,826.45 L383.45,823.61 L383.74,820.17 L384.02,816.03 L384.31,811.12 L384.60,805.37 L384.89,798.75 L385.18,791.22 L385.47,782.78 L385.76,773.47 L386.05,763.35 L386.33,752.54 L386.62,741.19 L386.91,729.49 L387.20,717.68 L387.49,706.01 L387.78,694.76 L388.07,684.23 L388.36,674.71 L388.64,666.48 L388.93,659.79 L389.22,654.85 L389.51,651.82 L389.80,650.80 L390.09,651.82 L390.38,654.85 L390.67,659.79 L390.95,666.48 L391.24,674.71 L391.53,684.23 L391.82,694.76 L392.11,706.01 L392.40,717.68 L392.69,729.49 L392.98,741.19 L393.26,752.54 L393.55,763.35 L393.84,773.47 L394.13,782.78 L394.42,791.22 L394.71,798.75 L395.00,805.37 L395.29,811.12 L395.57,816.03 L395.86,820.17 L396.15,823.61 L396.44,826.45 L396.73,828.74 L397.02,830.58 L397.31,832.03 L397.60,833.16 L397.88,834.03 L398.17,834.70 L398.46,835.20 L398.75,835.57 L399.04,835.84 L399.33,836.04 L399.62,836.18 L399.91,836.28 L400.19,836.35 L400.48,836.40 L400.77,836.44 L401.06,836.46 L401.35,836.47 Z" fill="#333" stroke="#000" stroke-width="0.8"/>
<path d="M376.3,836.6 C377.5,834 378,832.2 379.5,831.6 C381,831 382,830.8 383,830" fill="none" stroke="#000" stroke-width="0.9"/>
<path d="M396,821.5 C397.5,826 398.5,832 400,834.5 C401.5,836 402.5,836.2 404,836.3" fill="none" stroke="#000" stroke-width="0.9"/>
<line x1="410.00" y1="835.90" x2="412.20" y2="835.90" stroke="#000" stroke-width="0.7"/>
<line x1="414.00" y1="835.90" x2="416.20" y2="835.90" stroke="#000" stroke-width="0.7"/>
<line x1="419.00" y1="835.90" x2="421.20" y2="835.90" stroke="#000" stroke-width="0.7"/>
<line x1="425.00" y1="835.90" x2="427.20" y2="835.90" stroke="#000" stroke-width="0.7"/>
<line x1="431.00" y1="835.90" x2="433.20" y2="835.90" stroke="#000" stroke-width="0.7"/>
<line x1="437.00" y1="835.90" x2="439.20" y2="835.90" stroke="#000" stroke-width="0.7"/>
<line x1="445.00" y1="835.90" x2="447.20" y2="835.90" stroke="#000" stroke-width="0.7"/>
<line x1="452.00" y1="835.90" x2="454.20" y2="835.90" stroke="#000" stroke-width="0.7"/>
<line x1="458.00" y1="835.90" x2="460.20" y2="835.90" stroke="#000" stroke-width="0.7"/>
<line x1="466.00" y1="835.90" x2="468.20" y2="835.90" stroke="#000" stroke-width="0.7"/>
<line x1="474.00" y1="835.90" x2="476.20" y2="835.90" stroke="#000" stroke-width="0.7"/>
<line x1="480.00" y1="835.90" x2="482.20" y2="835.90" stroke="#000" stroke-width="0.7"/>
<line x1="489.00" y1="835.90" x2="491.20" y2="835.90" stroke="#000" stroke-width="0.7"/>
<line x1="497.00" y1="835.90" x2="499.20" y2="835.90" stroke="#000" stroke-width="0.7"/>
<line x1="505.00" y1="835.90" x2="507.20" y2="835.90" stroke="#000" stroke-width="0.7"/>
<path d="M377.90,638.60 L377.90,634.00 L407.00,634.00 L407.00,638.60" fill="none" stroke="#000" stroke-width="1.9" stroke-linejoin="miter"/>
<path d="M415.80,772.80 L415.80,768.80 L469.20,768.80 L469.20,772.80" fill="none" stroke="#000" stroke-width="1.9" stroke-linejoin="miter"/>
<path d="M482.80,772.80 L482.80,768.80 L512.40,768.80 L512.40,772.80" fill="none" stroke="#000" stroke-width="1.9" stroke-linejoin="miter"/>
<text x="387.8" y="608.4" font-family='"Liberation Serif", serif' font-size="10.2" font-weight="bold" font-style="italic" fill="#111">G<tspan font-size="6.5" dy="1.8">0</tspan><tspan dy="-1.8">G</tspan><tspan font-size="6.5" dy="1.8">1</tspan></text>
<text x="383.80" y="628.40" font-family='"Liberation Serif", serif' font-size="9.7" font-weight="normal" font-style="normal" text-anchor="start" fill="#222">(99 %)</text>
<text x="439.20" y="747.20" font-family='"Liberation Serif", serif' font-size="10.5" font-weight="bold" font-style="italic" text-anchor="start" fill="#111">S</text>
<text x="427.70" y="759.20" font-family='"Liberation Serif", serif' font-size="9.7" font-weight="normal" font-style="normal" text-anchor="start" fill="#222">(0,3 %)</text>
<text x="489" y="747.2" font-family='"Liberation Serif", serif' font-size="10.5" font-weight="bold" font-style="italic" fill="#111">G<tspan font-size="6.5" dy="1.8">2</tspan><tspan dy="-1.8">M</tspan></text>
<text x="487.30" y="759.20" font-family='"Liberation Serif", serif' font-size="9.7" font-weight="normal" font-style="normal" text-anchor="start" fill="#222">(0 %)</text>
</svg>
</body></html>
